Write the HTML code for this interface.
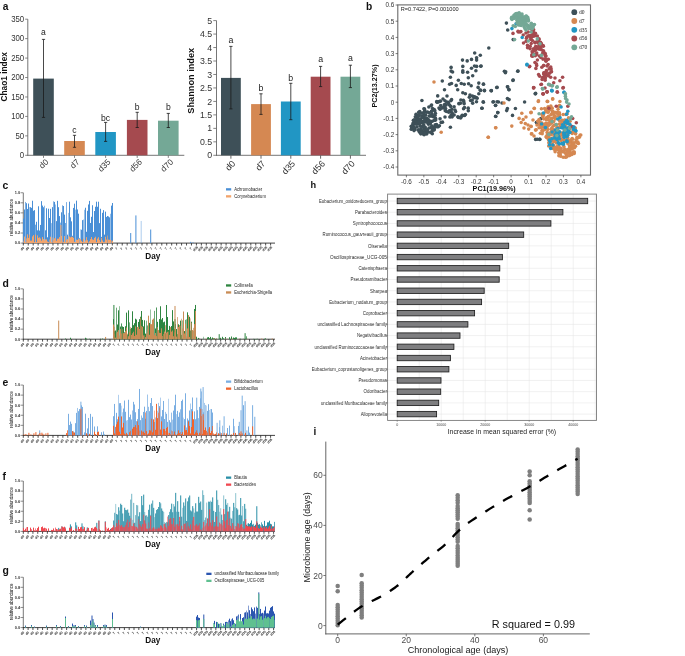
<!DOCTYPE html>
<html><head><meta charset="utf-8"><style>
html,body{margin:0;padding:0;background:#fff;}
body{width:685px;height:656px;overflow:hidden;}
svg{display:block;font-family:"Liberation Sans", sans-serif;will-change:transform;}
</style></head><body>
<svg width="685" height="656" viewBox="0 0 685 656">
<rect x="0" y="0" width="685" height="656" fill="#fff"/>
<text x="2.8" y="9.5" font-size="10.2" text-anchor="start" fill="#111" font-weight="bold">a</text>
<line x1="27.8" y1="19.2" x2="27.8" y2="155.8" stroke="#666" stroke-width="0.9"/>
<line x1="27.4" y1="155.3" x2="184.3" y2="155.3" stroke="#666" stroke-width="0.9"/>
<line x1="25.2" y1="155.3" x2="27.8" y2="155.3" stroke="#666" stroke-width="0.8"/>
<text x="24.2" y="158.05" font-size="8.7" text-anchor="end" fill="#333" transform="translate(24.2 0) scale(0.9 1) translate(-24.2 0)">0</text>
<line x1="25.2" y1="135.86" x2="27.8" y2="135.86" stroke="#666" stroke-width="0.8"/>
<text x="24.2" y="138.61" font-size="8.7" text-anchor="end" fill="#333" transform="translate(24.2 0) scale(0.9 1) translate(-24.2 0)">50</text>
<line x1="25.2" y1="116.41" x2="27.8" y2="116.41" stroke="#666" stroke-width="0.8"/>
<text x="24.2" y="119.16" font-size="8.7" text-anchor="end" fill="#333" transform="translate(24.2 0) scale(0.9 1) translate(-24.2 0)">100</text>
<line x1="25.2" y1="96.97" x2="27.8" y2="96.97" stroke="#666" stroke-width="0.8"/>
<text x="24.2" y="99.72" font-size="8.7" text-anchor="end" fill="#333" transform="translate(24.2 0) scale(0.9 1) translate(-24.2 0)">150</text>
<line x1="25.2" y1="77.53" x2="27.8" y2="77.53" stroke="#666" stroke-width="0.8"/>
<text x="24.2" y="80.28" font-size="8.7" text-anchor="end" fill="#333" transform="translate(24.2 0) scale(0.9 1) translate(-24.2 0)">200</text>
<line x1="25.2" y1="58.09" x2="27.8" y2="58.09" stroke="#666" stroke-width="0.8"/>
<text x="24.2" y="60.84" font-size="8.7" text-anchor="end" fill="#333" transform="translate(24.2 0) scale(0.9 1) translate(-24.2 0)">250</text>
<line x1="25.2" y1="38.64" x2="27.8" y2="38.64" stroke="#666" stroke-width="0.8"/>
<text x="24.2" y="41.39" font-size="8.7" text-anchor="end" fill="#333" transform="translate(24.2 0) scale(0.9 1) translate(-24.2 0)">300</text>
<line x1="25.2" y1="19.2" x2="27.8" y2="19.2" stroke="#666" stroke-width="0.8"/>
<text x="24.2" y="21.95" font-size="8.7" text-anchor="end" fill="#333" transform="translate(24.2 0) scale(0.9 1) translate(-24.2 0)">350</text>
<text x="7.2" y="76.8" font-size="8.3" text-anchor="middle" fill="#111" font-weight="bold" transform="rotate(-90 7.2 76.8)">Chao1 index</text>
<rect x="33.2" y="78.6" width="20.6" height="76.7" fill="#3e5058"/>
<line x1="43.5" y1="39.4" x2="43.5" y2="117.4" stroke="#1a1a1a" stroke-width="0.8"/>
<line x1="41.9" y1="39.4" x2="45.1" y2="39.4" stroke="#1a1a1a" stroke-width="0.8"/>
<line x1="41.9" y1="117.4" x2="45.1" y2="117.4" stroke="#1a1a1a" stroke-width="0.8"/>
<line x1="43.5" y1="155.3" x2="43.5" y2="157.9" stroke="#666" stroke-width="0.8"/>
<text x="43.5" y="35" font-size="8.6" text-anchor="middle" fill="#222">a</text>
<text x="49" y="162.6" font-size="8.3" text-anchor="end" fill="#333" transform="rotate(-44 49 162.6)">d0</text>
<rect x="64.2" y="141" width="20.6" height="14.3" fill="#d58852"/>
<line x1="74.5" y1="135.3" x2="74.5" y2="147.3" stroke="#1a1a1a" stroke-width="0.8"/>
<line x1="72.9" y1="135.3" x2="76.1" y2="135.3" stroke="#1a1a1a" stroke-width="0.8"/>
<line x1="72.9" y1="147.3" x2="76.1" y2="147.3" stroke="#1a1a1a" stroke-width="0.8"/>
<line x1="74.5" y1="155.3" x2="74.5" y2="157.9" stroke="#666" stroke-width="0.8"/>
<text x="74.5" y="132.6" font-size="8.6" text-anchor="middle" fill="#222">c</text>
<text x="80" y="162.6" font-size="8.3" text-anchor="end" fill="#333" transform="rotate(-44 80 162.6)">d7</text>
<rect x="95.3" y="132" width="20.6" height="23.3" fill="#2196c4"/>
<line x1="105.6" y1="122.4" x2="105.6" y2="141.4" stroke="#1a1a1a" stroke-width="0.8"/>
<line x1="104" y1="122.4" x2="107.2" y2="122.4" stroke="#1a1a1a" stroke-width="0.8"/>
<line x1="104" y1="141.4" x2="107.2" y2="141.4" stroke="#1a1a1a" stroke-width="0.8"/>
<line x1="105.6" y1="155.3" x2="105.6" y2="157.9" stroke="#666" stroke-width="0.8"/>
<text x="105.6" y="120.9" font-size="8.6" text-anchor="middle" fill="#222">bc</text>
<text x="111.1" y="162.6" font-size="8.3" text-anchor="end" fill="#333" transform="rotate(-44 111.1 162.6)">d35</text>
<rect x="126.9" y="119.9" width="20.6" height="35.4" fill="#a54a4f"/>
<line x1="137.2" y1="112.3" x2="137.2" y2="127.5" stroke="#1a1a1a" stroke-width="0.8"/>
<line x1="135.6" y1="112.3" x2="138.8" y2="112.3" stroke="#1a1a1a" stroke-width="0.8"/>
<line x1="135.6" y1="127.5" x2="138.8" y2="127.5" stroke="#1a1a1a" stroke-width="0.8"/>
<line x1="137.2" y1="155.3" x2="137.2" y2="157.9" stroke="#666" stroke-width="0.8"/>
<text x="137.2" y="110.2" font-size="8.6" text-anchor="middle" fill="#222">b</text>
<text x="142.7" y="162.6" font-size="8.3" text-anchor="end" fill="#333" transform="rotate(-44 142.7 162.6)">d56</text>
<rect x="158" y="120.7" width="20.6" height="34.6" fill="#74a896"/>
<line x1="168.3" y1="113.4" x2="168.3" y2="127.5" stroke="#1a1a1a" stroke-width="0.8"/>
<line x1="166.7" y1="113.4" x2="169.9" y2="113.4" stroke="#1a1a1a" stroke-width="0.8"/>
<line x1="166.7" y1="127.5" x2="169.9" y2="127.5" stroke="#1a1a1a" stroke-width="0.8"/>
<line x1="168.3" y1="155.3" x2="168.3" y2="157.9" stroke="#666" stroke-width="0.8"/>
<text x="168.3" y="110.2" font-size="8.6" text-anchor="middle" fill="#222">b</text>
<text x="173.8" y="162.6" font-size="8.3" text-anchor="end" fill="#333" transform="rotate(-44 173.8 162.6)">d70</text>
<line x1="216.5" y1="20.6" x2="216.5" y2="155.8" stroke="#666" stroke-width="0.9"/>
<line x1="216.1" y1="155.3" x2="366" y2="155.3" stroke="#666" stroke-width="0.9"/>
<line x1="213.3" y1="155.3" x2="216.5" y2="155.3" stroke="#666" stroke-width="0.8"/>
<text x="212.2" y="158.4" font-size="8.8" text-anchor="end" fill="#333">0</text>
<line x1="213.3" y1="141.83" x2="216.5" y2="141.83" stroke="#666" stroke-width="0.8"/>
<text x="212.2" y="144.93" font-size="8.8" text-anchor="end" fill="#333">0.5</text>
<line x1="213.3" y1="128.36" x2="216.5" y2="128.36" stroke="#666" stroke-width="0.8"/>
<text x="212.2" y="131.46" font-size="8.8" text-anchor="end" fill="#333">1</text>
<line x1="213.3" y1="114.89" x2="216.5" y2="114.89" stroke="#666" stroke-width="0.8"/>
<text x="212.2" y="117.99" font-size="8.8" text-anchor="end" fill="#333">1.5</text>
<line x1="213.3" y1="101.42" x2="216.5" y2="101.42" stroke="#666" stroke-width="0.8"/>
<text x="212.2" y="104.52" font-size="8.8" text-anchor="end" fill="#333">2</text>
<line x1="213.3" y1="87.95" x2="216.5" y2="87.95" stroke="#666" stroke-width="0.8"/>
<text x="212.2" y="91.05" font-size="8.8" text-anchor="end" fill="#333">2.5</text>
<line x1="213.3" y1="74.48" x2="216.5" y2="74.48" stroke="#666" stroke-width="0.8"/>
<text x="212.2" y="77.58" font-size="8.8" text-anchor="end" fill="#333">3</text>
<line x1="213.3" y1="61.01" x2="216.5" y2="61.01" stroke="#666" stroke-width="0.8"/>
<text x="212.2" y="64.11" font-size="8.8" text-anchor="end" fill="#333">3.5</text>
<line x1="213.3" y1="47.54" x2="216.5" y2="47.54" stroke="#666" stroke-width="0.8"/>
<text x="212.2" y="50.64" font-size="8.8" text-anchor="end" fill="#333">4</text>
<line x1="213.3" y1="34.07" x2="216.5" y2="34.07" stroke="#666" stroke-width="0.8"/>
<text x="212.2" y="37.17" font-size="8.8" text-anchor="end" fill="#333">4.5</text>
<line x1="213.3" y1="20.6" x2="216.5" y2="20.6" stroke="#666" stroke-width="0.8"/>
<text x="212.2" y="23.7" font-size="8.8" text-anchor="end" fill="#333">5</text>
<text x="194.3" y="80.7" font-size="9.2" text-anchor="middle" fill="#111" font-weight="bold" transform="rotate(-90 194.3 80.7)">Shannon index</text>
<rect x="221" y="77.9" width="19.8" height="77.4" fill="#3e5058"/>
<line x1="230.9" y1="46.4" x2="230.9" y2="108.9" stroke="#1a1a1a" stroke-width="0.8"/>
<line x1="229.3" y1="46.4" x2="232.5" y2="46.4" stroke="#1a1a1a" stroke-width="0.8"/>
<line x1="229.3" y1="108.9" x2="232.5" y2="108.9" stroke="#1a1a1a" stroke-width="0.8"/>
<line x1="230.9" y1="155.3" x2="230.9" y2="158.7" stroke="#555" stroke-width="0.9"/>
<text x="230.9" y="43.3" font-size="8.8" text-anchor="middle" fill="#222">a</text>
<text x="235.9" y="164" font-size="9" text-anchor="end" fill="#333" transform="rotate(-47 235.9 164)">d0</text>
<rect x="251.1" y="104.1" width="19.8" height="51.2" fill="#d58852"/>
<line x1="261" y1="93.8" x2="261" y2="114.4" stroke="#1a1a1a" stroke-width="0.8"/>
<line x1="259.4" y1="93.8" x2="262.6" y2="93.8" stroke="#1a1a1a" stroke-width="0.8"/>
<line x1="259.4" y1="114.4" x2="262.6" y2="114.4" stroke="#1a1a1a" stroke-width="0.8"/>
<line x1="261" y1="155.3" x2="261" y2="158.7" stroke="#555" stroke-width="0.9"/>
<text x="261" y="90.6" font-size="8.8" text-anchor="middle" fill="#222">b</text>
<text x="266" y="164" font-size="9" text-anchor="end" fill="#333" transform="rotate(-47 266 164)">d7</text>
<rect x="280.9" y="101.5" width="19.8" height="53.8" fill="#2196c4"/>
<line x1="290.8" y1="83.3" x2="290.8" y2="119.7" stroke="#1a1a1a" stroke-width="0.8"/>
<line x1="289.2" y1="83.3" x2="292.4" y2="83.3" stroke="#1a1a1a" stroke-width="0.8"/>
<line x1="289.2" y1="119.7" x2="292.4" y2="119.7" stroke="#1a1a1a" stroke-width="0.8"/>
<line x1="290.8" y1="155.3" x2="290.8" y2="158.7" stroke="#555" stroke-width="0.9"/>
<text x="290.8" y="80.7" font-size="8.8" text-anchor="middle" fill="#222">b</text>
<text x="295.8" y="164" font-size="9" text-anchor="end" fill="#333" transform="rotate(-47 295.8 164)">d35</text>
<rect x="310.7" y="76.7" width="19.8" height="78.6" fill="#a54a4f"/>
<line x1="320.6" y1="66.4" x2="320.6" y2="86.6" stroke="#1a1a1a" stroke-width="0.8"/>
<line x1="319" y1="66.4" x2="322.2" y2="66.4" stroke="#1a1a1a" stroke-width="0.8"/>
<line x1="319" y1="86.6" x2="322.2" y2="86.6" stroke="#1a1a1a" stroke-width="0.8"/>
<line x1="320.6" y1="155.3" x2="320.6" y2="158.7" stroke="#555" stroke-width="0.9"/>
<text x="320.6" y="62.3" font-size="8.8" text-anchor="middle" fill="#222">a</text>
<text x="325.6" y="164" font-size="9" text-anchor="end" fill="#333" transform="rotate(-47 325.6 164)">d56</text>
<rect x="340.5" y="76.7" width="19.8" height="78.6" fill="#74a896"/>
<line x1="350.4" y1="65.2" x2="350.4" y2="87.6" stroke="#1a1a1a" stroke-width="0.8"/>
<line x1="348.8" y1="65.2" x2="352" y2="65.2" stroke="#1a1a1a" stroke-width="0.8"/>
<line x1="348.8" y1="87.6" x2="352" y2="87.6" stroke="#1a1a1a" stroke-width="0.8"/>
<line x1="350.4" y1="155.3" x2="350.4" y2="158.7" stroke="#555" stroke-width="0.9"/>
<text x="350.4" y="61.2" font-size="8.8" text-anchor="middle" fill="#222">a</text>
<text x="355.4" y="164" font-size="9" text-anchor="end" fill="#333" transform="rotate(-47 355.4 164)">d70</text>
<text x="366" y="9.5" font-size="10.2" text-anchor="start" fill="#111" font-weight="bold">b</text>
<rect x="397.8" y="4.9" width="192.7" height="170.2" fill="none" stroke="#6a6a6a" stroke-width="1.1"/>
<line x1="395.6" y1="167" x2="397.8" y2="167" stroke="#444" stroke-width="0.7"/>
<text x="394.2" y="169.3" font-size="6.3" text-anchor="end" fill="#333">-0.4</text>
<line x1="395.6" y1="150.8" x2="397.8" y2="150.8" stroke="#444" stroke-width="0.7"/>
<text x="394.2" y="153.1" font-size="6.3" text-anchor="end" fill="#333">-0.3</text>
<line x1="395.6" y1="134.6" x2="397.8" y2="134.6" stroke="#444" stroke-width="0.7"/>
<text x="394.2" y="136.9" font-size="6.3" text-anchor="end" fill="#333">-0.2</text>
<line x1="395.6" y1="118.4" x2="397.8" y2="118.4" stroke="#444" stroke-width="0.7"/>
<text x="394.2" y="120.7" font-size="6.3" text-anchor="end" fill="#333">-0.1</text>
<line x1="395.6" y1="102.2" x2="397.8" y2="102.2" stroke="#444" stroke-width="0.7"/>
<text x="394.2" y="104.5" font-size="6.3" text-anchor="end" fill="#333">0</text>
<line x1="395.6" y1="86" x2="397.8" y2="86" stroke="#444" stroke-width="0.7"/>
<text x="394.2" y="88.3" font-size="6.3" text-anchor="end" fill="#333">0.1</text>
<line x1="395.6" y1="69.8" x2="397.8" y2="69.8" stroke="#444" stroke-width="0.7"/>
<text x="394.2" y="72.1" font-size="6.3" text-anchor="end" fill="#333">0.2</text>
<line x1="395.6" y1="53.6" x2="397.8" y2="53.6" stroke="#444" stroke-width="0.7"/>
<text x="394.2" y="55.9" font-size="6.3" text-anchor="end" fill="#333">0.3</text>
<line x1="395.6" y1="37.4" x2="397.8" y2="37.4" stroke="#444" stroke-width="0.7"/>
<text x="394.2" y="39.7" font-size="6.3" text-anchor="end" fill="#333">0.4</text>
<line x1="395.6" y1="21.2" x2="397.8" y2="21.2" stroke="#444" stroke-width="0.7"/>
<text x="394.2" y="23.5" font-size="6.3" text-anchor="end" fill="#333">0.5</text>
<line x1="395.6" y1="5" x2="397.8" y2="5" stroke="#444" stroke-width="0.7"/>
<text x="394.2" y="7.3" font-size="6.3" text-anchor="end" fill="#333">0.6</text>
<line x1="406.4" y1="175.1" x2="406.4" y2="177.3" stroke="#444" stroke-width="0.7"/>
<text x="406.4" y="184.1" font-size="6.3" text-anchor="middle" fill="#333">-0.6</text>
<line x1="423.85" y1="175.1" x2="423.85" y2="177.3" stroke="#444" stroke-width="0.7"/>
<text x="423.85" y="184.1" font-size="6.3" text-anchor="middle" fill="#333">-0.5</text>
<line x1="441.3" y1="175.1" x2="441.3" y2="177.3" stroke="#444" stroke-width="0.7"/>
<text x="441.3" y="184.1" font-size="6.3" text-anchor="middle" fill="#333">-0.4</text>
<line x1="458.75" y1="175.1" x2="458.75" y2="177.3" stroke="#444" stroke-width="0.7"/>
<text x="458.75" y="184.1" font-size="6.3" text-anchor="middle" fill="#333">-0.3</text>
<line x1="476.2" y1="175.1" x2="476.2" y2="177.3" stroke="#444" stroke-width="0.7"/>
<text x="476.2" y="184.1" font-size="6.3" text-anchor="middle" fill="#333">-0.2</text>
<line x1="493.65" y1="175.1" x2="493.65" y2="177.3" stroke="#444" stroke-width="0.7"/>
<text x="493.65" y="184.1" font-size="6.3" text-anchor="middle" fill="#333">-0.1</text>
<line x1="511.1" y1="175.1" x2="511.1" y2="177.3" stroke="#444" stroke-width="0.7"/>
<text x="511.1" y="184.1" font-size="6.3" text-anchor="middle" fill="#333">0</text>
<line x1="528.55" y1="175.1" x2="528.55" y2="177.3" stroke="#444" stroke-width="0.7"/>
<text x="528.55" y="184.1" font-size="6.3" text-anchor="middle" fill="#333">0.1</text>
<line x1="546" y1="175.1" x2="546" y2="177.3" stroke="#444" stroke-width="0.7"/>
<text x="546" y="184.1" font-size="6.3" text-anchor="middle" fill="#333">0.2</text>
<line x1="563.45" y1="175.1" x2="563.45" y2="177.3" stroke="#444" stroke-width="0.7"/>
<text x="563.45" y="184.1" font-size="6.3" text-anchor="middle" fill="#333">0.3</text>
<line x1="580.9" y1="175.1" x2="580.9" y2="177.3" stroke="#444" stroke-width="0.7"/>
<text x="580.9" y="184.1" font-size="6.3" text-anchor="middle" fill="#333">0.4</text>
<text x="494.2" y="191.2" font-size="7.2" text-anchor="middle" fill="#111" font-weight="bold">PC1(19.96%)</text>
<text x="377.4" y="86" font-size="7.2" text-anchor="middle" fill="#111" font-weight="bold" transform="rotate(-90 377.4 86)">PC2(13.27%)</text>
<text x="400.8" y="11.2" font-size="5.6" text-anchor="start" fill="#222">R=0.7422, P=0.001000</text>
<g fill="#3e5058"><circle cx="418.72" cy="112.29" r="1.78"/><circle cx="424.29" cy="118.11" r="1.78"/><circle cx="421.36" cy="130.61" r="1.78"/><circle cx="426.7" cy="133.88" r="1.78"/><circle cx="425.38" cy="118.95" r="1.78"/><circle cx="432.78" cy="116.05" r="1.78"/><circle cx="418.31" cy="130.32" r="1.78"/><circle cx="414.95" cy="123.96" r="1.78"/><circle cx="427" cy="118.29" r="1.78"/><circle cx="424.61" cy="109.9" r="1.78"/><circle cx="428.09" cy="119.79" r="1.78"/><circle cx="418.46" cy="124.07" r="1.78"/><circle cx="422.12" cy="116.32" r="1.78"/><circle cx="431.09" cy="127.14" r="1.78"/><circle cx="416.62" cy="123.77" r="1.78"/><circle cx="424.01" cy="131.92" r="1.78"/><circle cx="429.38" cy="116" r="1.78"/><circle cx="421.2" cy="128.72" r="1.78"/><circle cx="414.2" cy="121.45" r="1.78"/><circle cx="411.23" cy="126.31" r="1.78"/><circle cx="430.31" cy="123.73" r="1.78"/><circle cx="433.23" cy="116.7" r="1.78"/><circle cx="428.49" cy="124.31" r="1.78"/><circle cx="425.45" cy="120.56" r="1.78"/><circle cx="432.29" cy="133.8" r="1.78"/><circle cx="422.67" cy="126.2" r="1.78"/><circle cx="411.8" cy="127.21" r="1.78"/><circle cx="431.82" cy="115.91" r="1.78"/><circle cx="420.35" cy="126.32" r="1.78"/><circle cx="411.75" cy="129.02" r="1.78"/><circle cx="420.48" cy="131.82" r="1.78"/><circle cx="424.65" cy="132.14" r="1.78"/><circle cx="431.75" cy="131.61" r="1.78"/><circle cx="417.52" cy="119.45" r="1.78"/><circle cx="419.64" cy="132.16" r="1.78"/><circle cx="416.34" cy="121.34" r="1.78"/><circle cx="425.69" cy="115.32" r="1.78"/><circle cx="419.91" cy="123.55" r="1.78"/><circle cx="435.27" cy="126.91" r="1.78"/><circle cx="423.76" cy="124.94" r="1.78"/><circle cx="433.86" cy="129.34" r="1.78"/><circle cx="433.2" cy="129.82" r="1.78"/><circle cx="420.52" cy="119.01" r="1.78"/><circle cx="412.92" cy="125.39" r="1.78"/><circle cx="426.35" cy="112.23" r="1.78"/><circle cx="416.83" cy="117.61" r="1.78"/><circle cx="419.78" cy="111.53" r="1.78"/><circle cx="422.46" cy="121.31" r="1.78"/><circle cx="419.21" cy="115.37" r="1.78"/><circle cx="424.09" cy="112.17" r="1.78"/><circle cx="424.49" cy="108.93" r="1.78"/><circle cx="424.09" cy="134.72" r="1.78"/><circle cx="432.91" cy="127.07" r="1.78"/><circle cx="417.07" cy="118.14" r="1.78"/><circle cx="414.59" cy="129.12" r="1.78"/><circle cx="424.21" cy="129.31" r="1.78"/><circle cx="418.87" cy="114.24" r="1.78"/><circle cx="432.62" cy="130.04" r="1.78"/><circle cx="431.72" cy="128.25" r="1.78"/><circle cx="416.16" cy="122.23" r="1.78"/><circle cx="417.02" cy="126.97" r="1.78"/><circle cx="435.36" cy="120.32" r="1.78"/><circle cx="435.32" cy="118.08" r="1.78"/><circle cx="416" cy="114.35" r="1.78"/><circle cx="426.61" cy="132.6" r="1.78"/><circle cx="432.3" cy="121.19" r="1.78"/><circle cx="427.37" cy="129.87" r="1.78"/><circle cx="412.43" cy="126.1" r="1.78"/><circle cx="434.13" cy="129.4" r="1.78"/><circle cx="429.93" cy="121.15" r="1.78"/><circle cx="414.9" cy="129.59" r="1.78"/><circle cx="418.95" cy="129.9" r="1.78"/><circle cx="435.75" cy="118.93" r="1.78"/><circle cx="420.76" cy="133.86" r="1.78"/><circle cx="429.26" cy="112.81" r="1.78"/><circle cx="434" cy="130.06" r="1.78"/><circle cx="414.04" cy="130.6" r="1.78"/><circle cx="419.42" cy="123.07" r="1.78"/><circle cx="424.05" cy="133.5" r="1.78"/><circle cx="421.61" cy="131.82" r="1.78"/><circle cx="431.93" cy="113.92" r="1.78"/><circle cx="416.82" cy="116.14" r="1.78"/><circle cx="416.53" cy="124.09" r="1.78"/><circle cx="417.02" cy="119.56" r="1.78"/><circle cx="419.5" cy="120.62" r="1.78"/><circle cx="425.54" cy="132.71" r="1.78"/><circle cx="421.26" cy="133.07" r="1.78"/><circle cx="423.39" cy="122.61" r="1.78"/><circle cx="423.97" cy="108.71" r="1.78"/><circle cx="421.78" cy="113.16" r="1.78"/><circle cx="414.73" cy="121.03" r="1.78"/><circle cx="429.27" cy="123.28" r="1.78"/><circle cx="418.77" cy="122.25" r="1.78"/><circle cx="424.81" cy="129.45" r="1.78"/><circle cx="412.99" cy="123.38" r="1.78"/><circle cx="416.74" cy="115.7" r="1.78"/><circle cx="430.51" cy="121.96" r="1.78"/><circle cx="424.97" cy="128.8" r="1.78"/><circle cx="434.2" cy="120.21" r="1.78"/><circle cx="426.31" cy="121.9" r="1.78"/><circle cx="423.67" cy="126.97" r="1.78"/><circle cx="422.1" cy="122.65" r="1.78"/><circle cx="422.77" cy="133.71" r="1.78"/><circle cx="428.59" cy="131.95" r="1.78"/><circle cx="434.98" cy="115.23" r="1.78"/><circle cx="424.92" cy="133.76" r="1.78"/><circle cx="413.4" cy="120.18" r="1.78"/><circle cx="412.12" cy="126.34" r="1.78"/><circle cx="430.82" cy="132.51" r="1.78"/><circle cx="414.26" cy="127.61" r="1.78"/><circle cx="427.56" cy="112.07" r="1.78"/><circle cx="420.67" cy="121.4" r="1.78"/><circle cx="414.45" cy="119.89" r="1.78"/><circle cx="423.76" cy="117.39" r="1.78"/><circle cx="415.35" cy="116.83" r="1.78"/><circle cx="424.77" cy="120.14" r="1.78"/><circle cx="426.61" cy="122.08" r="1.78"/><circle cx="411.24" cy="129.31" r="1.78"/><circle cx="421.31" cy="132.9" r="1.78"/><circle cx="431.74" cy="115.21" r="1.78"/><circle cx="425.21" cy="127.18" r="1.78"/><circle cx="428.3" cy="119.73" r="1.78"/><circle cx="426.89" cy="129.92" r="1.78"/><circle cx="422.13" cy="117.39" r="1.78"/><circle cx="424.75" cy="133.31" r="1.78"/><circle cx="424.06" cy="114.66" r="1.78"/><circle cx="418.41" cy="116.47" r="1.78"/><circle cx="430.17" cy="116.06" r="1.78"/><circle cx="423.35" cy="113.02" r="1.78"/><circle cx="429.48" cy="123.13" r="1.78"/><circle cx="434.23" cy="109.62" r="1.78"/><circle cx="474.47" cy="96.72" r="1.78"/><circle cx="468.22" cy="108.13" r="1.78"/><circle cx="445.23" cy="110.73" r="1.78"/><circle cx="442.51" cy="122.13" r="1.78"/><circle cx="462.16" cy="115.26" r="1.78"/><circle cx="445.85" cy="105.16" r="1.78"/><circle cx="439.22" cy="101.48" r="1.78"/><circle cx="439.83" cy="109.08" r="1.78"/><circle cx="432.51" cy="108.6" r="1.78"/><circle cx="438.22" cy="126.66" r="1.78"/><circle cx="437.2" cy="126.8" r="1.78"/><circle cx="440.72" cy="105.48" r="1.78"/><circle cx="449.63" cy="110.6" r="1.78"/><circle cx="434.85" cy="110.67" r="1.78"/><circle cx="428.85" cy="106.98" r="1.78"/><circle cx="440.43" cy="101.15" r="1.78"/><circle cx="455.62" cy="111.52" r="1.78"/><circle cx="445.03" cy="104.41" r="1.78"/><circle cx="477.18" cy="98.23" r="1.78"/><circle cx="463.1" cy="115.51" r="1.78"/><circle cx="431.52" cy="111.33" r="1.78"/><circle cx="460.88" cy="117.27" r="1.78"/><circle cx="431.19" cy="105.62" r="1.78"/><circle cx="454.16" cy="114.97" r="1.78"/><circle cx="457.82" cy="116.82" r="1.78"/><circle cx="451.16" cy="111.73" r="1.78"/><circle cx="463.79" cy="101.83" r="1.78"/><circle cx="463.38" cy="100.18" r="1.78"/><circle cx="450.67" cy="106.39" r="1.78"/><circle cx="449.87" cy="116.93" r="1.78"/><circle cx="465.42" cy="114.59" r="1.78"/><circle cx="464.13" cy="103.65" r="1.78"/><circle cx="460.29" cy="117.23" r="1.78"/><circle cx="460.49" cy="103.18" r="1.78"/><circle cx="451.89" cy="109.26" r="1.78"/><circle cx="472.26" cy="99.97" r="1.78"/><circle cx="448.27" cy="102.4" r="1.78"/><circle cx="435.38" cy="113.35" r="1.78"/><circle cx="431.65" cy="111.34" r="1.78"/><circle cx="475.45" cy="97.64" r="1.78"/><circle cx="468.29" cy="110.81" r="1.78"/><circle cx="436.49" cy="124.42" r="1.78"/><circle cx="448.34" cy="103.57" r="1.78"/><circle cx="431.6" cy="105.04" r="1.78"/><circle cx="441.07" cy="122.41" r="1.78"/><circle cx="469.31" cy="97.2" r="1.78"/><circle cx="472.68" cy="103.14" r="1.78"/><circle cx="444.1" cy="106.75" r="1.78"/><circle cx="443.48" cy="107.98" r="1.78"/><circle cx="439.42" cy="125.75" r="1.78"/><circle cx="437.46" cy="102.3" r="1.78"/><circle cx="451.59" cy="99.64" r="1.78"/><circle cx="463.55" cy="108.78" r="1.78"/><circle cx="464.64" cy="115.56" r="1.78"/><circle cx="474.05" cy="97.46" r="1.78"/><circle cx="449.5" cy="105.03" r="1.78"/><circle cx="440.08" cy="118.87" r="1.78"/><circle cx="459.42" cy="103.53" r="1.78"/><circle cx="454.1" cy="106.8" r="1.78"/><circle cx="435.23" cy="124.71" r="1.78"/><circle cx="450.84" cy="100.7" r="1.78"/><circle cx="436.91" cy="102.04" r="1.78"/><circle cx="464.48" cy="107.45" r="1.78"/><circle cx="446.35" cy="111.35" r="1.78"/><circle cx="444.35" cy="104.84" r="1.78"/><circle cx="476.26" cy="97.41" r="1.78"/><circle cx="451.18" cy="115.04" r="1.78"/><circle cx="470.59" cy="100.56" r="1.78"/><circle cx="438.64" cy="101.7" r="1.78"/><circle cx="445.59" cy="108.61" r="1.78"/><circle cx="476.5" cy="101.7" r="1.78"/><circle cx="452.21" cy="116.87" r="1.78"/><circle cx="448.7" cy="112.3" r="1.78"/><circle cx="436.56" cy="125.2" r="1.78"/><circle cx="458.86" cy="103.63" r="1.78"/><circle cx="458.36" cy="117.45" r="1.78"/><circle cx="452.32" cy="113.4" r="1.78"/><circle cx="444.96" cy="100.83" r="1.78"/><circle cx="440.28" cy="109.12" r="1.78"/><circle cx="436.68" cy="101.65" r="1.78"/><circle cx="450.91" cy="116.61" r="1.78"/><circle cx="446.68" cy="102" r="1.78"/><circle cx="442.25" cy="107.72" r="1.78"/><circle cx="460.86" cy="99.93" r="1.78"/><circle cx="488.8" cy="48" r="1.78"/><circle cx="474.7" cy="53" r="1.78"/><circle cx="480.3" cy="55.3" r="1.78"/><circle cx="476.6" cy="57.7" r="1.78"/><circle cx="462.5" cy="60.1" r="1.78"/><circle cx="467.2" cy="60.9" r="1.78"/><circle cx="471.5" cy="59.4" r="1.78"/><circle cx="476.6" cy="60.1" r="1.78"/><circle cx="462.8" cy="66.4" r="1.78"/><circle cx="451.1" cy="67.4" r="1.78"/><circle cx="474.5" cy="66" r="1.78"/><circle cx="476.6" cy="66.4" r="1.78"/><circle cx="480.7" cy="66.3" r="1.78"/><circle cx="471.5" cy="68.2" r="1.78"/><circle cx="475.9" cy="70.8" r="1.78"/><circle cx="462.8" cy="70.8" r="1.78"/><circle cx="462.8" cy="72.3" r="1.78"/><circle cx="451.1" cy="71.1" r="1.78"/><circle cx="452.6" cy="72" r="1.78"/><circle cx="467.6" cy="72.3" r="1.78"/><circle cx="472.7" cy="75.8" r="1.78"/><circle cx="450.4" cy="77.2" r="1.78"/><circle cx="468.3" cy="77.7" r="1.78"/><circle cx="442.3" cy="81" r="1.78"/><circle cx="458.4" cy="80.3" r="1.78"/><circle cx="449.6" cy="84.2" r="1.78"/><circle cx="451.5" cy="83.5" r="1.78"/><circle cx="456.2" cy="85.4" r="1.78"/><circle cx="461.3" cy="83.5" r="1.78"/><circle cx="464.2" cy="84.2" r="1.78"/><circle cx="468.6" cy="83.8" r="1.78"/><circle cx="471.2" cy="85.7" r="1.78"/><circle cx="478.8" cy="83.1" r="1.78"/><circle cx="483.5" cy="84.2" r="1.78"/><circle cx="497.1" cy="87.4" r="1.78"/><circle cx="491.2" cy="90.5" r="1.78"/><circle cx="478.1" cy="87.4" r="1.78"/><circle cx="480" cy="90.1" r="1.78"/><circle cx="484.4" cy="90.4" r="1.78"/><circle cx="444.5" cy="89.8" r="1.78"/><circle cx="457.7" cy="89.8" r="1.78"/><circle cx="462.8" cy="92.7" r="1.78"/><circle cx="465.4" cy="93.7" r="1.78"/><circle cx="478.8" cy="93.7" r="1.78"/><circle cx="470" cy="95" r="1.78"/><circle cx="472.5" cy="96" r="1.78"/><circle cx="474.5" cy="97.4" r="1.78"/><circle cx="437.7" cy="95.9" r="1.78"/><circle cx="421.9" cy="100.5" r="1.78"/><circle cx="450.4" cy="127.2" r="1.78"/><circle cx="460.6" cy="118" r="1.78"/><circle cx="481.8" cy="108.2" r="1.78"/><circle cx="483.2" cy="101.7" r="1.78"/><circle cx="495.6" cy="116.3" r="1.78"/><circle cx="497.8" cy="112.6" r="1.78"/><circle cx="493.4" cy="101.7" r="1.78"/><circle cx="497.1" cy="101.7" r="1.78"/><circle cx="495.6" cy="105.3" r="1.78"/><circle cx="491.2" cy="90.7" r="1.78"/><circle cx="481.1" cy="66" r="1.78"/><circle cx="504.4" cy="71.2" r="1.78"/><circle cx="505.4" cy="72.8" r="1.78"/><circle cx="517.7" cy="71.2" r="1.78"/><circle cx="512.9" cy="80.4" r="1.78"/><circle cx="483.4" cy="84.1" r="1.78"/><circle cx="496.7" cy="87.5" r="1.78"/><circle cx="507.4" cy="86.8" r="1.78"/><circle cx="508.8" cy="89.6" r="1.78"/><circle cx="480.7" cy="90.4" r="1.78"/><circle cx="484.5" cy="90.7" r="1.78"/><circle cx="491.4" cy="90.7" r="1.78"/><circle cx="535.6" cy="93.4" r="1.78"/><circle cx="507.4" cy="98.6" r="1.78"/><circle cx="509.1" cy="99.6" r="1.78"/><circle cx="483.4" cy="102.3" r="1.78"/><circle cx="493" cy="102" r="1.78"/><circle cx="498.5" cy="102" r="1.78"/><circle cx="502" cy="103" r="1.78"/><circle cx="495.5" cy="105.5" r="1.78"/><circle cx="524.6" cy="102" r="1.78"/><circle cx="482.1" cy="108.2" r="1.78"/><circle cx="507.4" cy="108.5" r="1.78"/><circle cx="506.7" cy="110.6" r="1.78"/><circle cx="515.4" cy="108.5" r="1.78"/><circle cx="497.8" cy="112.6" r="1.78"/><circle cx="495.8" cy="116.5" r="1.78"/><circle cx="512.5" cy="115.4" r="1.78"/><circle cx="541" cy="118.8" r="1.78"/><circle cx="536.5" cy="122.5" r="1.78"/><circle cx="535.6" cy="139.4" r="1.78"/><circle cx="539.7" cy="139.4" r="1.78"/><circle cx="535.5" cy="93.8" r="1.78"/><circle cx="541" cy="118.5" r="1.78"/><circle cx="536.7" cy="122.2" r="1.78"/><circle cx="537.3" cy="139.3" r="1.78"/><circle cx="539.8" cy="139.3" r="1.78"/><circle cx="506.4" cy="23.1" r="1.78"/><circle cx="507.7" cy="30" r="1.78"/><circle cx="513.2" cy="39.6" r="1.78"/><circle cx="518" cy="71.1" r="1.78"/><circle cx="513.2" cy="80" r="1.78"/><circle cx="505.7" cy="71.8" r="1.78"/><circle cx="507.7" cy="86.9" r="1.78"/><circle cx="509.1" cy="89.7" r="1.78"/><circle cx="535.2" cy="93.8" r="1.78"/><circle cx="443" cy="99" r="1.78"/><circle cx="447" cy="96" r="1.78"/><circle cx="439" cy="108" r="1.78"/><circle cx="445" cy="117" r="1.78"/><circle cx="455" cy="110" r="1.78"/><circle cx="429" cy="128" r="1.78"/><circle cx="432" cy="126" r="1.78"/></g>
<g fill="#d58852"><circle cx="572.29" cy="143.88" r="1.78"/><circle cx="559.46" cy="114.57" r="1.78"/><circle cx="559.06" cy="113.58" r="1.78"/><circle cx="547.1" cy="126.19" r="1.78"/><circle cx="566.51" cy="155.39" r="1.78"/><circle cx="543.73" cy="124.9" r="1.78"/><circle cx="539.94" cy="124.89" r="1.78"/><circle cx="566.47" cy="124.09" r="1.78"/><circle cx="553.71" cy="121.51" r="1.78"/><circle cx="549.58" cy="122.6" r="1.78"/><circle cx="552.96" cy="148.4" r="1.78"/><circle cx="573.39" cy="127.04" r="1.78"/><circle cx="545.77" cy="123.3" r="1.78"/><circle cx="555.33" cy="147.87" r="1.78"/><circle cx="570.11" cy="152.63" r="1.78"/><circle cx="552.19" cy="118.25" r="1.78"/><circle cx="579.34" cy="137.17" r="1.78"/><circle cx="548.81" cy="142.64" r="1.78"/><circle cx="551.19" cy="118.43" r="1.78"/><circle cx="577.53" cy="138.11" r="1.78"/><circle cx="547.57" cy="129.39" r="1.78"/><circle cx="554.27" cy="117.08" r="1.78"/><circle cx="556.17" cy="130.39" r="1.78"/><circle cx="572.53" cy="143.84" r="1.78"/><circle cx="573.42" cy="145.73" r="1.78"/><circle cx="563.96" cy="121.3" r="1.78"/><circle cx="551.33" cy="123.17" r="1.78"/><circle cx="548.16" cy="106.85" r="1.78"/><circle cx="548.93" cy="107.92" r="1.78"/><circle cx="568.46" cy="127.84" r="1.78"/><circle cx="547.58" cy="126.18" r="1.78"/><circle cx="564.53" cy="140.31" r="1.78"/><circle cx="570.14" cy="149.8" r="1.78"/><circle cx="562.19" cy="123.78" r="1.78"/><circle cx="548.16" cy="116.77" r="1.78"/><circle cx="562.69" cy="121.22" r="1.78"/><circle cx="559.57" cy="116" r="1.78"/><circle cx="572.79" cy="139.17" r="1.78"/><circle cx="558.14" cy="148.27" r="1.78"/><circle cx="574.2" cy="153.5" r="1.78"/><circle cx="539.07" cy="119.42" r="1.78"/><circle cx="542.53" cy="113.71" r="1.78"/><circle cx="580.01" cy="135.32" r="1.78"/><circle cx="575.32" cy="127.96" r="1.78"/><circle cx="548.71" cy="146" r="1.78"/><circle cx="563.47" cy="137.34" r="1.78"/><circle cx="546.85" cy="123.54" r="1.78"/><circle cx="543.51" cy="114.5" r="1.78"/><circle cx="548.49" cy="136.21" r="1.78"/><circle cx="565.91" cy="114.47" r="1.78"/><circle cx="537.8" cy="121.27" r="1.78"/><circle cx="567.08" cy="113.46" r="1.78"/><circle cx="551.01" cy="114.47" r="1.78"/><circle cx="572.21" cy="133.39" r="1.78"/><circle cx="554.65" cy="133.5" r="1.78"/><circle cx="555.29" cy="118.85" r="1.78"/><circle cx="551.01" cy="134.4" r="1.78"/><circle cx="552.98" cy="126.16" r="1.78"/><circle cx="553.27" cy="114.13" r="1.78"/><circle cx="555.9" cy="148.34" r="1.78"/><circle cx="555.13" cy="151.77" r="1.78"/><circle cx="557.53" cy="112.22" r="1.78"/><circle cx="565.43" cy="153.25" r="1.78"/><circle cx="553.58" cy="131" r="1.78"/><circle cx="543.7" cy="118.85" r="1.78"/><circle cx="560.18" cy="154.11" r="1.78"/><circle cx="542.08" cy="130.23" r="1.78"/><circle cx="545.96" cy="110.25" r="1.78"/><circle cx="558.49" cy="106.23" r="1.78"/><circle cx="577" cy="137.36" r="1.78"/><circle cx="555.06" cy="149.76" r="1.78"/><circle cx="546.88" cy="125.25" r="1.78"/><circle cx="560.04" cy="124.36" r="1.78"/><circle cx="542.7" cy="116.86" r="1.78"/><circle cx="569.12" cy="152.56" r="1.78"/><circle cx="563.62" cy="133.5" r="1.78"/><circle cx="564.83" cy="120.11" r="1.78"/><circle cx="555.74" cy="135.29" r="1.78"/><circle cx="555.99" cy="139.47" r="1.78"/><circle cx="556.91" cy="127.37" r="1.78"/><circle cx="558.79" cy="116.22" r="1.78"/><circle cx="570.82" cy="146.12" r="1.78"/><circle cx="557.42" cy="113.16" r="1.78"/><circle cx="558.07" cy="109.18" r="1.78"/><circle cx="542.94" cy="126.94" r="1.78"/><circle cx="541.33" cy="127.56" r="1.78"/><circle cx="559.7" cy="105.54" r="1.78"/><circle cx="569.5" cy="145.99" r="1.78"/><circle cx="559.75" cy="106.28" r="1.78"/><circle cx="559.42" cy="124.04" r="1.78"/><circle cx="569.44" cy="148.04" r="1.78"/><circle cx="558.89" cy="155.82" r="1.78"/><circle cx="571.91" cy="154.39" r="1.78"/><circle cx="540.18" cy="122.56" r="1.78"/><circle cx="559.35" cy="153.8" r="1.78"/><circle cx="546.45" cy="117.73" r="1.78"/><circle cx="559.51" cy="120.82" r="1.78"/><circle cx="567.14" cy="152.46" r="1.78"/><circle cx="565.23" cy="123.05" r="1.78"/><circle cx="575.62" cy="133.78" r="1.78"/><circle cx="562.76" cy="151.75" r="1.78"/><circle cx="564.95" cy="124.94" r="1.78"/><circle cx="580.78" cy="135" r="1.78"/><circle cx="553.12" cy="145.28" r="1.78"/><circle cx="556.72" cy="113" r="1.78"/><circle cx="565.36" cy="157.32" r="1.78"/><circle cx="563.02" cy="139.74" r="1.78"/><circle cx="564.34" cy="127.03" r="1.78"/><circle cx="559.81" cy="152.47" r="1.78"/><circle cx="543.1" cy="115.78" r="1.78"/><circle cx="541.97" cy="122.91" r="1.78"/><circle cx="547.14" cy="135.34" r="1.78"/><circle cx="563.16" cy="114.51" r="1.78"/><circle cx="564.69" cy="129.37" r="1.78"/><circle cx="547.99" cy="111.5" r="1.78"/><circle cx="575.55" cy="146.24" r="1.78"/><circle cx="554.95" cy="117.81" r="1.78"/><circle cx="561.99" cy="122.53" r="1.78"/><circle cx="565.64" cy="127.66" r="1.78"/><circle cx="578.44" cy="143.57" r="1.78"/><circle cx="555.12" cy="116.35" r="1.78"/><circle cx="546.06" cy="136.68" r="1.78"/><circle cx="559.56" cy="138.52" r="1.78"/><circle cx="550.88" cy="119.78" r="1.78"/><circle cx="571.67" cy="142.58" r="1.78"/><circle cx="570.01" cy="128.84" r="1.78"/><circle cx="569.86" cy="128.14" r="1.78"/><circle cx="547.22" cy="109.08" r="1.78"/><circle cx="552.03" cy="144.46" r="1.78"/><circle cx="567.82" cy="149.71" r="1.78"/><circle cx="568.54" cy="117.9" r="1.78"/><circle cx="561.61" cy="127.24" r="1.78"/><circle cx="571.91" cy="132.03" r="1.78"/><circle cx="548.95" cy="138.55" r="1.78"/><circle cx="548.73" cy="116.26" r="1.78"/><circle cx="569.96" cy="155.16" r="1.78"/><circle cx="570.06" cy="121.25" r="1.78"/><circle cx="564.99" cy="141.34" r="1.78"/><circle cx="566.5" cy="157.05" r="1.78"/><circle cx="557.91" cy="149.4" r="1.78"/><circle cx="567.93" cy="150.38" r="1.78"/><circle cx="556.49" cy="143.08" r="1.78"/><circle cx="562.34" cy="120.2" r="1.78"/><circle cx="546.61" cy="137.48" r="1.78"/><circle cx="552.44" cy="111.09" r="1.78"/><circle cx="567.71" cy="138.1" r="1.78"/><circle cx="567.9" cy="143.75" r="1.78"/><circle cx="553.25" cy="148.18" r="1.78"/><circle cx="573.28" cy="152.23" r="1.78"/><circle cx="542" cy="114.59" r="1.78"/><circle cx="574.28" cy="151.98" r="1.78"/><circle cx="567.66" cy="152.4" r="1.78"/><circle cx="567.58" cy="135.2" r="1.78"/><circle cx="551.1" cy="129.13" r="1.78"/><circle cx="571.48" cy="132.56" r="1.78"/><circle cx="557.89" cy="139.56" r="1.78"/><circle cx="556.76" cy="148.9" r="1.78"/><circle cx="559.41" cy="136.27" r="1.78"/><circle cx="577.88" cy="142.12" r="1.78"/><circle cx="574.39" cy="145.78" r="1.78"/><circle cx="548.96" cy="139.21" r="1.78"/><circle cx="561.53" cy="150.74" r="1.78"/><circle cx="558.75" cy="148.55" r="1.78"/><circle cx="564.67" cy="132.93" r="1.78"/><circle cx="573.41" cy="131.45" r="1.78"/><circle cx="563.24" cy="151.5" r="1.78"/><circle cx="553.72" cy="141.83" r="1.78"/><circle cx="558.76" cy="152.62" r="1.78"/><circle cx="556.8" cy="132.87" r="1.78"/><circle cx="569.68" cy="141.95" r="1.78"/><circle cx="551.41" cy="146.37" r="1.78"/><circle cx="569.61" cy="151.18" r="1.78"/><circle cx="567.47" cy="137.38" r="1.78"/><circle cx="560.44" cy="138.63" r="1.78"/><circle cx="554.39" cy="134.42" r="1.78"/><circle cx="575.94" cy="142.04" r="1.78"/><circle cx="559.76" cy="154.29" r="1.78"/><circle cx="555.24" cy="140.75" r="1.78"/><circle cx="564.48" cy="150.14" r="1.78"/><circle cx="571.34" cy="146.68" r="1.78"/><circle cx="558.8" cy="136.45" r="1.78"/><circle cx="568.53" cy="149.74" r="1.78"/><circle cx="553.26" cy="140.04" r="1.78"/><circle cx="571.98" cy="144.53" r="1.78"/><circle cx="551.91" cy="140.78" r="1.78"/><circle cx="575.44" cy="133.61" r="1.78"/><circle cx="553.94" cy="135.65" r="1.78"/><circle cx="569.8" cy="153" r="1.78"/><circle cx="552.79" cy="130.99" r="1.78"/><circle cx="555.68" cy="136.45" r="1.78"/><circle cx="564.19" cy="131.15" r="1.78"/><circle cx="558.17" cy="132.06" r="1.78"/><circle cx="551.15" cy="138.3" r="1.78"/><circle cx="570.73" cy="139.92" r="1.78"/><circle cx="554.08" cy="146.42" r="1.78"/><circle cx="551.31" cy="132.61" r="1.78"/><circle cx="560.04" cy="127.09" r="1.78"/><circle cx="560.37" cy="151.31" r="1.78"/><circle cx="569.5" cy="142.02" r="1.78"/><circle cx="567.6" cy="140.82" r="1.78"/><circle cx="552.4" cy="145.32" r="1.78"/><circle cx="560.55" cy="149.71" r="1.78"/><circle cx="576.15" cy="139.76" r="1.78"/><circle cx="565.79" cy="149.97" r="1.78"/><circle cx="561.06" cy="133.31" r="1.78"/><circle cx="570.39" cy="154.16" r="1.78"/><circle cx="572" cy="148.4" r="1.78"/><circle cx="574.43" cy="147.75" r="1.78"/><circle cx="567.89" cy="140.52" r="1.78"/><circle cx="557.7" cy="146.1" r="1.78"/><circle cx="551.03" cy="139.43" r="1.78"/><circle cx="572.25" cy="148.82" r="1.78"/><circle cx="567.52" cy="134" r="1.78"/><circle cx="561.13" cy="140.57" r="1.78"/><circle cx="567.27" cy="139.1" r="1.78"/><circle cx="568.93" cy="155.77" r="1.78"/><circle cx="553.67" cy="146.94" r="1.78"/><circle cx="572.12" cy="138.44" r="1.78"/><circle cx="563.19" cy="157.19" r="1.78"/><circle cx="577.16" cy="142.62" r="1.78"/><circle cx="551.13" cy="144.39" r="1.78"/><circle cx="564.77" cy="148.95" r="1.78"/><circle cx="563.88" cy="146.46" r="1.78"/><circle cx="573.7" cy="142.69" r="1.78"/><circle cx="560.72" cy="156.34" r="1.78"/><circle cx="554.51" cy="147.9" r="1.78"/><circle cx="560.17" cy="150.41" r="1.78"/><circle cx="559.02" cy="127.81" r="1.78"/><circle cx="556.51" cy="138.79" r="1.78"/><circle cx="548.41" cy="139.39" r="1.78"/><circle cx="561.04" cy="148.34" r="1.78"/><circle cx="558.92" cy="134.49" r="1.78"/><circle cx="554.96" cy="149.73" r="1.78"/><circle cx="577.14" cy="142.87" r="1.78"/><circle cx="560.15" cy="132.78" r="1.78"/><circle cx="573.1" cy="146.3" r="1.78"/><circle cx="562.54" cy="143.99" r="1.78"/><circle cx="558.95" cy="146.44" r="1.78"/><circle cx="573.38" cy="152.12" r="1.78"/><circle cx="562.51" cy="135.42" r="1.78"/><circle cx="552.16" cy="108.13" r="1.78"/><circle cx="559.01" cy="115.71" r="1.78"/><circle cx="559.42" cy="112.83" r="1.78"/><circle cx="548.03" cy="112.37" r="1.78"/><circle cx="549.23" cy="110.13" r="1.78"/><circle cx="539.06" cy="127.82" r="1.78"/><circle cx="545.75" cy="112.08" r="1.78"/><circle cx="546.24" cy="119.83" r="1.78"/><circle cx="549.28" cy="125.03" r="1.78"/><circle cx="554.82" cy="115.96" r="1.78"/><circle cx="542.37" cy="131.43" r="1.78"/><circle cx="554.74" cy="112.25" r="1.78"/><circle cx="541.44" cy="108.71" r="1.78"/><circle cx="544.61" cy="129.62" r="1.78"/><circle cx="547.31" cy="109.04" r="1.78"/><circle cx="553.6" cy="129.78" r="1.78"/><circle cx="543.74" cy="126.86" r="1.78"/><circle cx="551.74" cy="128.48" r="1.78"/><circle cx="549.53" cy="133.13" r="1.78"/><circle cx="552.32" cy="112.73" r="1.78"/><circle cx="544.62" cy="108.6" r="1.78"/><circle cx="550.83" cy="105.93" r="1.78"/><circle cx="550.21" cy="108.77" r="1.78"/><circle cx="550.79" cy="120.44" r="1.78"/><circle cx="551.95" cy="132.47" r="1.78"/><circle cx="550.23" cy="122.56" r="1.78"/><circle cx="554.97" cy="131.74" r="1.78"/><circle cx="548" cy="117.82" r="1.78"/><circle cx="554.29" cy="124.99" r="1.78"/><circle cx="539.68" cy="124.12" r="1.78"/><circle cx="551.26" cy="119.99" r="1.78"/><circle cx="556.24" cy="124.63" r="1.78"/><circle cx="547.13" cy="132.44" r="1.78"/><circle cx="547.79" cy="119.66" r="1.78"/><circle cx="551.61" cy="129.43" r="1.78"/><circle cx="434" cy="82" r="1.78"/><circle cx="441.2" cy="132.3" r="1.78"/><circle cx="495.6" cy="127.7" r="1.78"/><circle cx="488.3" cy="137.2" r="1.78"/><circle cx="504" cy="103" r="1.78"/><circle cx="538.3" cy="101.4" r="1.78"/><circle cx="547.2" cy="101.4" r="1.78"/><circle cx="552.7" cy="98.9" r="1.78"/><circle cx="521.8" cy="113.3" r="1.78"/><circle cx="530.8" cy="112.6" r="1.78"/><circle cx="534.2" cy="108.5" r="1.78"/><circle cx="495.8" cy="127.7" r="1.78"/><circle cx="511.8" cy="126.1" r="1.78"/><circle cx="488.2" cy="137.3" r="1.78"/><circle cx="519.1" cy="118.4" r="1.78"/><circle cx="523.2" cy="119.5" r="1.78"/><circle cx="521.2" cy="122.5" r="1.78"/><circle cx="525.3" cy="123.6" r="1.78"/><circle cx="528" cy="125" r="1.78"/><circle cx="530.8" cy="126.3" r="1.78"/><circle cx="528.7" cy="129.1" r="1.78"/><circle cx="536.2" cy="129.8" r="1.78"/><circle cx="531.4" cy="133.9" r="1.78"/><circle cx="540.4" cy="133.2" r="1.78"/><circle cx="538.5" cy="100.9" r="1.78"/><circle cx="547.7" cy="101.5" r="1.78"/><circle cx="552.6" cy="99" r="1.78"/><circle cx="559.9" cy="101.5" r="1.78"/><circle cx="534.3" cy="108.2" r="1.78"/><circle cx="531.2" cy="112.4" r="1.78"/><circle cx="531.2" cy="126.5" r="1.78"/><circle cx="535.5" cy="130.1" r="1.78"/><circle cx="531.8" cy="133.8" r="1.78"/><circle cx="542.2" cy="133.8" r="1.78"/><circle cx="526" cy="117" r="1.78"/><circle cx="533" cy="120" r="1.78"/><circle cx="537" cy="125" r="1.78"/><circle cx="524" cy="128" r="1.78"/><circle cx="534" cy="136" r="1.78"/></g>
<g fill="#a54a4f"><circle cx="544.95" cy="74.84" r="1.78"/><circle cx="544.78" cy="73.78" r="1.78"/><circle cx="535.06" cy="42.87" r="1.78"/><circle cx="546.37" cy="70.65" r="1.78"/><circle cx="539.63" cy="76.21" r="1.78"/><circle cx="525.95" cy="33.03" r="1.78"/><circle cx="536.48" cy="63.91" r="1.78"/><circle cx="530.75" cy="39.36" r="1.78"/><circle cx="543.96" cy="52.55" r="1.78"/><circle cx="536.09" cy="46.57" r="1.78"/><circle cx="532.94" cy="29.67" r="1.78"/><circle cx="534.87" cy="42.23" r="1.78"/><circle cx="543.46" cy="50.79" r="1.78"/><circle cx="550.23" cy="68.57" r="1.78"/><circle cx="545.06" cy="78.8" r="1.78"/><circle cx="536.12" cy="49.3" r="1.78"/><circle cx="539.02" cy="49.08" r="1.78"/><circle cx="530.06" cy="36.92" r="1.78"/><circle cx="548.46" cy="75.73" r="1.78"/><circle cx="543.75" cy="65.57" r="1.78"/><circle cx="542.48" cy="77.54" r="1.78"/><circle cx="539.31" cy="44.17" r="1.78"/><circle cx="531.39" cy="37.38" r="1.78"/><circle cx="547" cy="74.9" r="1.78"/><circle cx="546.01" cy="61.34" r="1.78"/><circle cx="530.22" cy="46.3" r="1.78"/><circle cx="545.23" cy="53.48" r="1.78"/><circle cx="537.34" cy="36.04" r="1.78"/><circle cx="520.88" cy="31.56" r="1.78"/><circle cx="540.81" cy="57.43" r="1.78"/><circle cx="538.97" cy="39.6" r="1.78"/><circle cx="531.24" cy="43.51" r="1.78"/><circle cx="541.32" cy="43.89" r="1.78"/><circle cx="545.61" cy="56.04" r="1.78"/><circle cx="535.04" cy="35.79" r="1.78"/><circle cx="536.55" cy="54.41" r="1.78"/><circle cx="536.7" cy="65.47" r="1.78"/><circle cx="544.77" cy="58.97" r="1.78"/><circle cx="520.09" cy="32.02" r="1.78"/><circle cx="541.57" cy="49.86" r="1.78"/><circle cx="546" cy="73.64" r="1.78"/><circle cx="531.87" cy="29.4" r="1.78"/><circle cx="526.77" cy="37.12" r="1.78"/><circle cx="544.97" cy="73.69" r="1.78"/><circle cx="532.69" cy="56.24" r="1.78"/><circle cx="533.66" cy="29.68" r="1.78"/><circle cx="535.25" cy="55.84" r="1.78"/><circle cx="547.12" cy="65.96" r="1.78"/><circle cx="531.89" cy="54.69" r="1.78"/><circle cx="523.22" cy="34.96" r="1.78"/><circle cx="528.33" cy="35.74" r="1.78"/><circle cx="545.35" cy="77.45" r="1.78"/><circle cx="545.91" cy="55.98" r="1.78"/><circle cx="543.36" cy="46.24" r="1.78"/><circle cx="544.48" cy="76.16" r="1.78"/><circle cx="544.91" cy="72.76" r="1.78"/><circle cx="550.69" cy="77.28" r="1.78"/><circle cx="537.52" cy="47.59" r="1.78"/><circle cx="533.4" cy="32.21" r="1.78"/><circle cx="551.17" cy="69.06" r="1.78"/><circle cx="544.68" cy="74.68" r="1.78"/><circle cx="537.88" cy="42.45" r="1.78"/><circle cx="539.38" cy="42.85" r="1.78"/><circle cx="537.06" cy="41.66" r="1.78"/><circle cx="532.97" cy="51.2" r="1.78"/><circle cx="533.52" cy="36.33" r="1.78"/><circle cx="545.91" cy="60.38" r="1.78"/><circle cx="534.99" cy="62.48" r="1.78"/><circle cx="536.72" cy="53.03" r="1.78"/><circle cx="534.44" cy="54.2" r="1.78"/><circle cx="518.32" cy="32.08" r="1.78"/><circle cx="550.75" cy="67.08" r="1.78"/><circle cx="545.16" cy="55.58" r="1.78"/><circle cx="541.82" cy="67.32" r="1.78"/><circle cx="542.67" cy="53.36" r="1.78"/><circle cx="543.69" cy="65.52" r="1.78"/><circle cx="542.91" cy="59.12" r="1.78"/><circle cx="535.06" cy="50.37" r="1.78"/><circle cx="543.64" cy="74.07" r="1.78"/><circle cx="536.5" cy="48.38" r="1.78"/><circle cx="541.18" cy="43.86" r="1.78"/><circle cx="527.47" cy="45.38" r="1.78"/><circle cx="543.78" cy="72.86" r="1.78"/><circle cx="532.13" cy="51.73" r="1.78"/><circle cx="535.45" cy="33.18" r="1.78"/><circle cx="546.06" cy="72.27" r="1.78"/><circle cx="534.78" cy="54.51" r="1.78"/><circle cx="549.17" cy="68.9" r="1.78"/><circle cx="532.86" cy="55.55" r="1.78"/><circle cx="539.65" cy="48.89" r="1.78"/><circle cx="539.3" cy="55.97" r="1.78"/><circle cx="551.53" cy="71.64" r="1.78"/><circle cx="532.66" cy="34.36" r="1.78"/><circle cx="548.13" cy="64.54" r="1.78"/><circle cx="545.13" cy="80.19" r="1.78"/><circle cx="532.62" cy="54.9" r="1.78"/><circle cx="537.42" cy="60.02" r="1.78"/><circle cx="546.01" cy="59.14" r="1.78"/><circle cx="538.96" cy="38.85" r="1.78"/><circle cx="535.17" cy="50.02" r="1.78"/><circle cx="543.11" cy="45.42" r="1.78"/><circle cx="540.88" cy="47.04" r="1.78"/><circle cx="535.48" cy="46.78" r="1.78"/><circle cx="530.12" cy="48.69" r="1.78"/><circle cx="549.6" cy="73.13" r="1.78"/><circle cx="526.42" cy="38.32" r="1.78"/><circle cx="534.64" cy="34.59" r="1.78"/><circle cx="533.52" cy="48.69" r="1.78"/><circle cx="528.23" cy="32.01" r="1.78"/><circle cx="526.13" cy="41.36" r="1.78"/><circle cx="538.8" cy="46.39" r="1.78"/><circle cx="532.35" cy="40.44" r="1.78"/><circle cx="530.23" cy="35.42" r="1.78"/><circle cx="540.51" cy="42.19" r="1.78"/><circle cx="548.33" cy="59.21" r="1.78"/><circle cx="513" cy="33.4" r="1.78"/><circle cx="518" cy="31.3" r="1.78"/><circle cx="523.5" cy="43" r="1.78"/><circle cx="527.6" cy="47.8" r="1.78"/><circle cx="531.8" cy="56" r="1.78"/><circle cx="529.7" cy="66.3" r="1.78"/><circle cx="535.9" cy="68.4" r="1.78"/><circle cx="538.6" cy="74.6" r="1.78"/><circle cx="542.1" cy="79.4" r="1.78"/><circle cx="541.4" cy="84.2" r="1.78"/><circle cx="533.8" cy="87.6" r="1.78"/><circle cx="543.4" cy="93.8" r="1.78"/><circle cx="546.9" cy="91.7" r="1.78"/><circle cx="553.7" cy="82.8" r="1.78"/><circle cx="559.9" cy="80.7" r="1.78"/><circle cx="562.6" cy="77.3" r="1.78"/><circle cx="563.3" cy="87.6" r="1.78"/><circle cx="557.2" cy="91.7" r="1.78"/><circle cx="529.4" cy="66.7" r="1.78"/><circle cx="533.5" cy="87.9" r="1.78"/><circle cx="541" cy="84.5" r="1.78"/><circle cx="543.1" cy="94.1" r="1.78"/><circle cx="547.2" cy="91.8" r="1.78"/><circle cx="533.7" cy="87.7" r="1.78"/><circle cx="542.8" cy="93.8" r="1.78"/><circle cx="547.1" cy="92.1" r="1.78"/><circle cx="557.4" cy="92.3" r="1.78"/><circle cx="562.9" cy="88" r="1.78"/><circle cx="556.2" cy="106.3" r="1.78"/><circle cx="548.9" cy="108.2" r="1.78"/><circle cx="567.8" cy="106.3" r="1.78"/><circle cx="572.7" cy="118.5" r="1.78"/><circle cx="576.3" cy="122.8" r="1.78"/><circle cx="572.1" cy="126.5" r="1.78"/><circle cx="550" cy="85" r="1.78"/><circle cx="555" cy="78" r="1.78"/><circle cx="545" cy="88" r="1.78"/></g>
<g fill="#2196c4"><circle cx="555.32" cy="130.09" r="1.78"/><circle cx="559.66" cy="131.76" r="1.78"/><circle cx="567.95" cy="128.1" r="1.78"/><circle cx="567.97" cy="129.65" r="1.78"/><circle cx="561.33" cy="127.8" r="1.78"/><circle cx="564.42" cy="135.09" r="1.78"/><circle cx="557.78" cy="128.44" r="1.78"/><circle cx="557.13" cy="132.21" r="1.78"/><circle cx="564.01" cy="134.98" r="1.78"/><circle cx="569.15" cy="131.64" r="1.78"/><circle cx="569.89" cy="132.52" r="1.78"/><circle cx="564.49" cy="135.05" r="1.78"/><circle cx="569.65" cy="132.56" r="1.78"/><circle cx="563.64" cy="132.78" r="1.78"/><circle cx="565.28" cy="132.35" r="1.78"/><circle cx="564.96" cy="126.98" r="1.78"/><circle cx="564.67" cy="130.41" r="1.78"/><circle cx="566.88" cy="136.8" r="1.78"/><circle cx="564.44" cy="129.16" r="1.78"/><circle cx="567.86" cy="135.01" r="1.78"/><circle cx="562.52" cy="127.61" r="1.78"/><circle cx="557.19" cy="129.9" r="1.78"/><circle cx="557.53" cy="130.03" r="1.78"/><circle cx="564.16" cy="137.07" r="1.78"/><circle cx="552.12" cy="131.95" r="1.78"/><circle cx="567.61" cy="132.05" r="1.78"/><circle cx="573.48" cy="129.39" r="1.78"/><circle cx="545.44" cy="127.61" r="1.78"/><circle cx="563.35" cy="144.13" r="1.78"/><circle cx="575.4" cy="130.26" r="1.78"/><circle cx="557.78" cy="119.06" r="1.78"/><circle cx="564.98" cy="122.37" r="1.78"/><circle cx="567.3" cy="123.27" r="1.78"/><circle cx="567.74" cy="121.62" r="1.78"/><circle cx="567.12" cy="141.66" r="1.78"/><circle cx="564.49" cy="137.28" r="1.78"/><circle cx="559.28" cy="143.97" r="1.78"/><circle cx="552.88" cy="144.93" r="1.78"/><circle cx="554.64" cy="137.88" r="1.78"/><circle cx="550.15" cy="141.83" r="1.78"/><circle cx="560.08" cy="117.79" r="1.78"/><circle cx="556.39" cy="133.25" r="1.78"/><circle cx="558.6" cy="136.31" r="1.78"/><circle cx="549.49" cy="139.92" r="1.78"/><circle cx="556.26" cy="135.35" r="1.78"/><circle cx="564.52" cy="128.54" r="1.78"/><circle cx="556.96" cy="139.59" r="1.78"/><circle cx="562.57" cy="124.77" r="1.78"/><circle cx="566.8" cy="140.82" r="1.78"/><circle cx="555.29" cy="134.17" r="1.78"/><circle cx="563.64" cy="125.26" r="1.78"/><circle cx="558.29" cy="142.64" r="1.78"/><circle cx="556.68" cy="136.54" r="1.78"/><circle cx="563.66" cy="142.88" r="1.78"/><circle cx="570.03" cy="124.5" r="1.78"/><circle cx="558.1" cy="133.6" r="1.78"/><circle cx="549.5" cy="144.8" r="1.78"/><circle cx="550.7" cy="148.4" r="1.78"/><circle cx="561.7" cy="143.5" r="1.78"/><circle cx="552" cy="138.7" r="1.78"/><circle cx="559.3" cy="138.7" r="1.78"/><circle cx="543.4" cy="113" r="1.78"/><circle cx="541.6" cy="124" r="1.78"/><circle cx="566.6" cy="120.4" r="1.78"/><circle cx="567.8" cy="111.2" r="1.78"/><circle cx="566.6" cy="114.3" r="1.78"/><circle cx="552" cy="90.5" r="1.78"/><circle cx="564.1" cy="92.3" r="1.78"/><circle cx="561.1" cy="107" r="1.78"/><circle cx="511.9" cy="28.6" r="1.78"/><circle cx="516" cy="23.8" r="1.78"/><circle cx="522.2" cy="37.5" r="1.78"/><circle cx="527" cy="64.3" r="1.78"/><circle cx="551.7" cy="90.4" r="1.78"/><circle cx="564" cy="92.4" r="1.78"/><circle cx="526.9" cy="64.9" r="1.78"/><circle cx="552" cy="91" r="1.78"/><circle cx="574" cy="127" r="1.78"/><circle cx="576" cy="131" r="1.78"/><circle cx="569" cy="124" r="1.78"/></g>
<g fill="#74a896"><circle cx="519.59" cy="17.36" r="1.78"/><circle cx="525.52" cy="16.73" r="1.78"/><circle cx="523.17" cy="22.84" r="1.78"/><circle cx="520" cy="24.96" r="1.78"/><circle cx="524.52" cy="18.55" r="1.78"/><circle cx="520.13" cy="14.39" r="1.78"/><circle cx="518.43" cy="25.06" r="1.78"/><circle cx="519.43" cy="22.06" r="1.78"/><circle cx="517.83" cy="14.02" r="1.78"/><circle cx="518.19" cy="16.99" r="1.78"/><circle cx="517.47" cy="20.26" r="1.78"/><circle cx="532.95" cy="27.14" r="1.78"/><circle cx="532.3" cy="28.73" r="1.78"/><circle cx="513.76" cy="17.92" r="1.78"/><circle cx="526.89" cy="19.3" r="1.78"/><circle cx="520.69" cy="24.99" r="1.78"/><circle cx="527.77" cy="17.4" r="1.78"/><circle cx="526.03" cy="16.16" r="1.78"/><circle cx="528.63" cy="25.98" r="1.78"/><circle cx="514.5" cy="16.46" r="1.78"/><circle cx="517.99" cy="19.84" r="1.78"/><circle cx="511.47" cy="18.55" r="1.78"/><circle cx="526.27" cy="16.12" r="1.78"/><circle cx="531.23" cy="23.35" r="1.78"/><circle cx="521.24" cy="25.46" r="1.78"/><circle cx="519.12" cy="12.82" r="1.78"/><circle cx="531.11" cy="27.16" r="1.78"/><circle cx="517.57" cy="13.59" r="1.78"/><circle cx="531.6" cy="24.04" r="1.78"/><circle cx="511.67" cy="17.32" r="1.78"/><circle cx="527.66" cy="20.08" r="1.78"/><circle cx="528.96" cy="28.13" r="1.78"/><circle cx="517.44" cy="14.46" r="1.78"/><circle cx="533.48" cy="25.59" r="1.78"/><circle cx="528.74" cy="28.15" r="1.78"/><circle cx="526.01" cy="21.18" r="1.78"/><circle cx="521.08" cy="22.27" r="1.78"/><circle cx="527.86" cy="27.71" r="1.78"/><circle cx="516.95" cy="22.91" r="1.78"/><circle cx="534.44" cy="24.59" r="1.78"/><circle cx="523.94" cy="17.42" r="1.78"/><circle cx="511.97" cy="19.42" r="1.78"/><circle cx="520.67" cy="16.53" r="1.78"/><circle cx="518.17" cy="15.33" r="1.78"/><circle cx="527.96" cy="25.2" r="1.78"/><circle cx="516.38" cy="17.27" r="1.78"/><circle cx="523.23" cy="21.03" r="1.78"/><circle cx="524.04" cy="26.87" r="1.78"/><circle cx="525.29" cy="21.33" r="1.78"/><circle cx="529.42" cy="28.18" r="1.78"/><circle cx="513.33" cy="18.15" r="1.78"/><circle cx="519.4" cy="16.62" r="1.78"/><circle cx="511.99" cy="18" r="1.78"/><circle cx="521.57" cy="14.89" r="1.78"/><circle cx="518.51" cy="21.47" r="1.78"/><circle cx="519.47" cy="15.91" r="1.78"/><circle cx="521.23" cy="16.31" r="1.78"/><circle cx="533.21" cy="24.72" r="1.78"/><circle cx="526.01" cy="30.1" r="1.78"/><circle cx="526.62" cy="17.45" r="1.78"/><circle cx="516.58" cy="15.37" r="1.78"/><circle cx="531.01" cy="26.53" r="1.78"/><circle cx="518.57" cy="16.21" r="1.78"/><circle cx="519.6" cy="23" r="1.78"/><circle cx="516.41" cy="13.56" r="1.78"/><circle cx="524.5" cy="24.42" r="1.78"/><circle cx="530.75" cy="25.85" r="1.78"/><circle cx="522.71" cy="22.04" r="1.78"/><circle cx="514.39" cy="18.34" r="1.78"/><circle cx="521.36" cy="16.33" r="1.78"/><circle cx="526.29" cy="24.12" r="1.78"/><circle cx="525.38" cy="18.53" r="1.78"/><circle cx="520.75" cy="18.48" r="1.78"/><circle cx="517.76" cy="18.7" r="1.78"/><circle cx="523.32" cy="23.74" r="1.78"/><circle cx="517.03" cy="18.76" r="1.78"/><circle cx="521.58" cy="17.53" r="1.78"/><circle cx="515.32" cy="14.11" r="1.78"/><circle cx="517.5" cy="18.99" r="1.78"/><circle cx="526.71" cy="25.67" r="1.78"/><circle cx="528.35" cy="21.06" r="1.78"/><circle cx="523.5" cy="20.92" r="1.78"/><circle cx="517.05" cy="20.42" r="1.78"/><circle cx="528.2" cy="19.25" r="1.78"/><circle cx="523.01" cy="16.89" r="1.78"/><circle cx="523.54" cy="18.82" r="1.78"/><circle cx="518.32" cy="20.55" r="1.78"/><circle cx="519.08" cy="19.89" r="1.78"/><circle cx="521.6" cy="18.15" r="1.78"/><circle cx="513.94" cy="15.35" r="1.78"/><circle cx="527.13" cy="20.13" r="1.78"/><circle cx="516.31" cy="14.23" r="1.78"/><circle cx="521.02" cy="16.27" r="1.78"/><circle cx="520.32" cy="20.2" r="1.78"/><circle cx="522" cy="14.04" r="1.78"/><circle cx="518.94" cy="13.96" r="1.78"/><circle cx="521.36" cy="22.29" r="1.78"/><circle cx="518.66" cy="15.23" r="1.78"/><circle cx="528.32" cy="20.32" r="1.78"/><circle cx="516.03" cy="17.84" r="1.78"/><circle cx="513.2" cy="25.8" r="1.78"/><circle cx="515.3" cy="26.5" r="1.78"/><circle cx="524.9" cy="28.6" r="1.78"/><circle cx="531.1" cy="32" r="1.78"/><circle cx="528.3" cy="41" r="1.78"/><circle cx="537.3" cy="38.9" r="1.78"/><circle cx="540" cy="43.7" r="1.78"/><circle cx="533.8" cy="54.7" r="1.78"/><circle cx="541.4" cy="55.4" r="1.78"/><circle cx="514.6" cy="39.6" r="1.78"/><circle cx="548.9" cy="84.2" r="1.78"/><circle cx="552.4" cy="85.5" r="1.78"/><circle cx="557.2" cy="86.9" r="1.78"/><circle cx="542.7" cy="89" r="1.78"/><circle cx="565.4" cy="93.8" r="1.78"/><circle cx="539.1" cy="113.7" r="1.78"/><circle cx="552" cy="121.6" r="1.78"/><circle cx="556.2" cy="124.6" r="1.78"/><circle cx="557.4" cy="130.1" r="1.78"/><circle cx="564.8" cy="130.1" r="1.78"/><circle cx="569.6" cy="128.3" r="1.78"/><circle cx="571.5" cy="116.7" r="1.78"/><circle cx="570.2" cy="119.1" r="1.78"/><circle cx="548.9" cy="134.4" r="1.78"/><circle cx="556.8" cy="135.6" r="1.78"/><circle cx="566.6" cy="102.1" r="1.78"/><circle cx="565.4" cy="94.1" r="1.78"/><circle cx="565.4" cy="96.2" r="1.78"/><circle cx="565.6" cy="98.4" r="1.78"/><circle cx="542.8" cy="88.7" r="1.78"/><circle cx="548.6" cy="84.5" r="1.78"/><circle cx="552" cy="85.9" r="1.78"/><circle cx="556.8" cy="87.2" r="1.78"/><circle cx="542.4" cy="88.6" r="1.78"/><circle cx="567" cy="100" r="1.78"/><circle cx="569" cy="104" r="1.78"/></g>
<circle cx="574.3" cy="12.2" r="2.9" fill="#3e5058"/>
<text x="579.1" y="14" font-size="5.5" text-anchor="start" fill="#222" font-family='"Liberation Serif", serif'>d0</text>
<circle cx="574.3" cy="21" r="2.9" fill="#d58852"/>
<text x="579.1" y="22.8" font-size="5.5" text-anchor="start" fill="#222" font-family='"Liberation Serif", serif'>d7</text>
<circle cx="574.3" cy="29.8" r="2.9" fill="#2196c4"/>
<text x="579.1" y="31.6" font-size="5.5" text-anchor="start" fill="#222" font-family='"Liberation Serif", serif'>d35</text>
<circle cx="574.3" cy="38.5" r="2.9" fill="#a54a4f"/>
<text x="579.1" y="40.3" font-size="5.5" text-anchor="start" fill="#222" font-family='"Liberation Serif", serif'>d56</text>
<circle cx="574.3" cy="47.3" r="2.9" fill="#74a896"/>
<text x="579.1" y="49.1" font-size="5.5" text-anchor="start" fill="#222" font-family='"Liberation Serif", serif'>d70</text>
<text x="2.6" y="188.6" font-size="10.4" text-anchor="start" fill="#111" font-weight="bold">c</text>
<line x1="23.3" y1="192.75" x2="23.3" y2="243.5" stroke="#555" stroke-width="0.8"/>
<line x1="20.5" y1="243.1" x2="23.3" y2="243.1" stroke="#444" stroke-width="0.6"/>
<text x="20.2" y="244.45" font-size="3.9" text-anchor="end" fill="#333" font-weight="bold">0.0</text>
<line x1="20.5" y1="233.03" x2="23.3" y2="233.03" stroke="#444" stroke-width="0.6"/>
<text x="20.2" y="234.38" font-size="3.9" text-anchor="end" fill="#333" font-weight="bold">0.2</text>
<line x1="20.5" y1="222.96" x2="23.3" y2="222.96" stroke="#444" stroke-width="0.6"/>
<text x="20.2" y="224.31" font-size="3.9" text-anchor="end" fill="#333" font-weight="bold">0.4</text>
<line x1="20.5" y1="212.89" x2="23.3" y2="212.89" stroke="#444" stroke-width="0.6"/>
<text x="20.2" y="214.24" font-size="3.9" text-anchor="end" fill="#333" font-weight="bold">0.6</text>
<line x1="20.5" y1="202.82" x2="23.3" y2="202.82" stroke="#444" stroke-width="0.6"/>
<text x="20.2" y="204.17" font-size="3.9" text-anchor="end" fill="#333" font-weight="bold">0.8</text>
<line x1="20.5" y1="192.75" x2="23.3" y2="192.75" stroke="#444" stroke-width="0.6"/>
<text x="20.2" y="194.1" font-size="3.9" text-anchor="end" fill="#333" font-weight="bold">1.0</text>
<text x="12.9" y="217.42" font-size="4.6" fill="#000" text-anchor="middle" transform="rotate(-90 12.9 217.42)" textLength="36.5" lengthAdjust="spacingAndGlyphs">relative abundance</text>
<line x1="22.9" y1="243.1" x2="275" y2="243.1" stroke="#222" stroke-width="0.85"/>
<line x1="23.3" y1="243.1" x2="23.3" y2="245.5" stroke="#222" stroke-width="0.8"/>
<line x1="28.25" y1="243.1" x2="28.25" y2="245.5" stroke="#222" stroke-width="0.8"/>
<line x1="33.19" y1="243.1" x2="33.19" y2="245.5" stroke="#222" stroke-width="0.8"/>
<line x1="38.14" y1="243.1" x2="38.14" y2="245.5" stroke="#222" stroke-width="0.8"/>
<line x1="43.08" y1="243.1" x2="43.08" y2="245.5" stroke="#222" stroke-width="0.8"/>
<line x1="48.03" y1="243.1" x2="48.03" y2="245.5" stroke="#222" stroke-width="0.8"/>
<line x1="52.98" y1="243.1" x2="52.98" y2="245.5" stroke="#222" stroke-width="0.8"/>
<line x1="57.92" y1="243.1" x2="57.92" y2="245.5" stroke="#222" stroke-width="0.8"/>
<line x1="62.87" y1="243.1" x2="62.87" y2="245.5" stroke="#222" stroke-width="0.8"/>
<line x1="67.81" y1="243.1" x2="67.81" y2="245.5" stroke="#222" stroke-width="0.8"/>
<line x1="72.76" y1="243.1" x2="72.76" y2="245.5" stroke="#222" stroke-width="0.8"/>
<line x1="77.71" y1="243.1" x2="77.71" y2="245.5" stroke="#222" stroke-width="0.8"/>
<line x1="82.65" y1="243.1" x2="82.65" y2="245.5" stroke="#222" stroke-width="0.8"/>
<line x1="87.6" y1="243.1" x2="87.6" y2="245.5" stroke="#222" stroke-width="0.8"/>
<line x1="92.54" y1="243.1" x2="92.54" y2="245.5" stroke="#222" stroke-width="0.8"/>
<line x1="97.49" y1="243.1" x2="97.49" y2="245.5" stroke="#222" stroke-width="0.8"/>
<line x1="102.44" y1="243.1" x2="102.44" y2="245.5" stroke="#222" stroke-width="0.8"/>
<line x1="107.38" y1="243.1" x2="107.38" y2="245.5" stroke="#222" stroke-width="0.8"/>
<line x1="112.33" y1="243.1" x2="112.33" y2="245.5" stroke="#222" stroke-width="0.8"/>
<line x1="117.27" y1="243.1" x2="117.27" y2="245.5" stroke="#222" stroke-width="0.8"/>
<line x1="122.22" y1="243.1" x2="122.22" y2="245.5" stroke="#222" stroke-width="0.8"/>
<line x1="127.17" y1="243.1" x2="127.17" y2="245.5" stroke="#222" stroke-width="0.8"/>
<line x1="132.11" y1="243.1" x2="132.11" y2="245.5" stroke="#222" stroke-width="0.8"/>
<line x1="137.06" y1="243.1" x2="137.06" y2="245.5" stroke="#222" stroke-width="0.8"/>
<line x1="142" y1="243.1" x2="142" y2="245.5" stroke="#222" stroke-width="0.8"/>
<line x1="146.95" y1="243.1" x2="146.95" y2="245.5" stroke="#222" stroke-width="0.8"/>
<line x1="151.9" y1="243.1" x2="151.9" y2="245.5" stroke="#222" stroke-width="0.8"/>
<line x1="156.84" y1="243.1" x2="156.84" y2="245.5" stroke="#222" stroke-width="0.8"/>
<line x1="161.79" y1="243.1" x2="161.79" y2="245.5" stroke="#222" stroke-width="0.8"/>
<line x1="166.73" y1="243.1" x2="166.73" y2="245.5" stroke="#222" stroke-width="0.8"/>
<line x1="171.68" y1="243.1" x2="171.68" y2="245.5" stroke="#222" stroke-width="0.8"/>
<line x1="176.63" y1="243.1" x2="176.63" y2="245.5" stroke="#222" stroke-width="0.8"/>
<line x1="181.57" y1="243.1" x2="181.57" y2="245.5" stroke="#222" stroke-width="0.8"/>
<line x1="186.52" y1="243.1" x2="186.52" y2="245.5" stroke="#222" stroke-width="0.8"/>
<line x1="191.46" y1="243.1" x2="191.46" y2="245.5" stroke="#222" stroke-width="0.8"/>
<line x1="196.41" y1="243.1" x2="196.41" y2="245.5" stroke="#222" stroke-width="0.8"/>
<line x1="201.36" y1="243.1" x2="201.36" y2="245.5" stroke="#222" stroke-width="0.8"/>
<line x1="206.3" y1="243.1" x2="206.3" y2="245.5" stroke="#222" stroke-width="0.8"/>
<line x1="211.25" y1="243.1" x2="211.25" y2="245.5" stroke="#222" stroke-width="0.8"/>
<line x1="216.19" y1="243.1" x2="216.19" y2="245.5" stroke="#222" stroke-width="0.8"/>
<line x1="221.14" y1="243.1" x2="221.14" y2="245.5" stroke="#222" stroke-width="0.8"/>
<line x1="226.09" y1="243.1" x2="226.09" y2="245.5" stroke="#222" stroke-width="0.8"/>
<line x1="231.03" y1="243.1" x2="231.03" y2="245.5" stroke="#222" stroke-width="0.8"/>
<line x1="235.98" y1="243.1" x2="235.98" y2="245.5" stroke="#222" stroke-width="0.8"/>
<line x1="240.92" y1="243.1" x2="240.92" y2="245.5" stroke="#222" stroke-width="0.8"/>
<line x1="245.87" y1="243.1" x2="245.87" y2="245.5" stroke="#222" stroke-width="0.8"/>
<line x1="250.82" y1="243.1" x2="250.82" y2="245.5" stroke="#222" stroke-width="0.8"/>
<line x1="255.76" y1="243.1" x2="255.76" y2="245.5" stroke="#222" stroke-width="0.8"/>
<line x1="260.71" y1="243.1" x2="260.71" y2="245.5" stroke="#222" stroke-width="0.8"/>
<line x1="265.65" y1="243.1" x2="265.65" y2="245.5" stroke="#222" stroke-width="0.8"/>
<line x1="270.6" y1="243.1" x2="270.6" y2="245.5" stroke="#222" stroke-width="0.8"/>
<g font-size="3.4" font-weight="bold" fill="#222" text-anchor="middle"><text x="22.4" y="249.8" transform="rotate(-45 22.4 248.6)">d0</text><text x="27.35" y="249.8" transform="rotate(-45 27.35 248.6)">d0</text><text x="32.29" y="249.8" transform="rotate(-45 32.29 248.6)">d0</text><text x="37.24" y="249.8" transform="rotate(-45 37.24 248.6)">d0</text><text x="42.18" y="249.8" transform="rotate(-45 42.18 248.6)">d0</text><text x="47.13" y="249.8" transform="rotate(-45 47.13 248.6)">d0</text><text x="52.08" y="249.8" transform="rotate(-45 52.08 248.6)">d0</text><text x="57.02" y="249.8" transform="rotate(-45 57.02 248.6)">d0</text><text x="61.97" y="249.8" transform="rotate(-45 61.97 248.6)">d0</text><text x="66.91" y="249.8" transform="rotate(-45 66.91 248.6)">d0</text><text x="71.86" y="249.8" transform="rotate(-45 71.86 248.6)">d0</text><text x="76.81" y="249.8" transform="rotate(-45 76.81 248.6)">d0</text><text x="81.75" y="249.8" transform="rotate(-45 81.75 248.6)">d0</text><text x="86.7" y="249.8" transform="rotate(-45 86.7 248.6)">d0</text><text x="91.64" y="249.8" transform="rotate(-45 91.64 248.6)">d0</text><text x="96.59" y="249.8" transform="rotate(-45 96.59 248.6)">d0</text><text x="101.54" y="249.8" transform="rotate(-45 101.54 248.6)">d0</text><text x="106.48" y="249.8" transform="rotate(-45 106.48 248.6)">d0</text><text x="111.43" y="249.8" transform="rotate(-45 111.43 248.6)">d0</text><text x="116.37" y="249.8" transform="rotate(-45 116.37 248.6)">7</text><text x="121.32" y="249.8" transform="rotate(-45 121.32 248.6)">7</text><text x="126.27" y="249.8" transform="rotate(-45 126.27 248.6)">7</text><text x="131.21" y="249.8" transform="rotate(-45 131.21 248.6)">7</text><text x="136.16" y="249.8" transform="rotate(-45 136.16 248.6)">7</text><text x="141.1" y="249.8" transform="rotate(-45 141.1 248.6)">7</text><text x="146.05" y="249.8" transform="rotate(-45 146.05 248.6)">7</text><text x="151" y="249.8" transform="rotate(-45 151 248.6)">7</text><text x="155.94" y="249.8" transform="rotate(-45 155.94 248.6)">7</text><text x="160.89" y="249.8" transform="rotate(-45 160.89 248.6)">7</text><text x="165.83" y="249.8" transform="rotate(-45 165.83 248.6)">7</text><text x="170.78" y="249.8" transform="rotate(-45 170.78 248.6)">7</text><text x="175.73" y="249.8" transform="rotate(-45 175.73 248.6)">7</text><text x="180.67" y="249.8" transform="rotate(-45 180.67 248.6)">7</text><text x="185.62" y="249.8" transform="rotate(-45 185.62 248.6)">7</text><text x="190.56" y="249.8" transform="rotate(-45 190.56 248.6)">7</text><text x="195.51" y="249.8" transform="rotate(-45 195.51 248.6)">d35</text><text x="200.46" y="249.8" transform="rotate(-45 200.46 248.6)">d35</text><text x="205.4" y="249.8" transform="rotate(-45 205.4 248.6)">d35</text><text x="210.35" y="249.8" transform="rotate(-45 210.35 248.6)">d35</text><text x="215.29" y="249.8" transform="rotate(-45 215.29 248.6)">d35</text><text x="220.24" y="249.8" transform="rotate(-45 220.24 248.6)">d35</text><text x="225.19" y="249.8" transform="rotate(-45 225.19 248.6)">d35</text><text x="230.13" y="249.8" transform="rotate(-45 230.13 248.6)">d35</text><text x="235.08" y="249.8" transform="rotate(-45 235.08 248.6)">d35</text><text x="240.02" y="249.8" transform="rotate(-45 240.02 248.6)">d35</text><text x="244.97" y="249.8" transform="rotate(-45 244.97 248.6)">d35</text><text x="249.92" y="249.8" transform="rotate(-45 249.92 248.6)">d35</text><text x="254.86" y="249.8" transform="rotate(-45 254.86 248.6)">d35</text><text x="259.81" y="249.8" transform="rotate(-45 259.81 248.6)">d35</text><text x="264.75" y="249.8" transform="rotate(-45 264.75 248.6)">d35</text><text x="269.7" y="249.8" transform="rotate(-45 269.7 248.6)">d35</text></g>
<text x="152.8" y="258.7" font-size="8.2" text-anchor="middle" fill="#111" font-weight="bold">Day</text>
<rect x="226" y="188.2" width="5.2" height="2.3" fill="#4a8fd6"/>
<text x="234.2" y="190.95" font-size="4.7" fill="#222" textLength="28" lengthAdjust="spacingAndGlyphs">Achromobacter</text>
<rect x="226" y="195.2" width="5.2" height="2.3" fill="#f2a46c"/>
<text x="234.2" y="197.95" font-size="4.7" fill="#222" textLength="31.7" lengthAdjust="spacingAndGlyphs">Corynebacterium</text>
<g fill="#4a8fd6"><rect x="23" y="218.63" width="1.0" height="24.47"/><rect x="24" y="209.49" width="1.0" height="33.61"/><rect x="25" y="201.94" width="1.0" height="41.16" fill-opacity="0.7"/><rect x="26" y="203.19" width="1.0" height="39.91"/><rect x="27" y="208.95" width="1.0" height="34.15"/><rect x="28" y="203.54" width="1.0" height="39.56"/><rect x="29" y="207.07" width="1.0" height="36.03" fill-opacity="0.5"/><rect x="30" y="207.18" width="1.0" height="35.92"/><rect x="31" y="207.84" width="1.0" height="35.26"/><rect x="32" y="200.73" width="1.0" height="42.37"/><rect x="33" y="210.75" width="1.0" height="32.35"/><rect x="34" y="210.13" width="1.0" height="32.97"/><rect x="35" y="224.68" width="1.0" height="18.42" fill-opacity="0.77"/><rect x="36" y="221.78" width="1.0" height="21.32"/><rect x="37" y="230.33" width="1.0" height="12.77"/><rect x="38" y="206.27" width="1.0" height="36.83"/><rect x="39" y="230.52" width="1.0" height="12.58"/><rect x="40" y="224.94" width="1.0" height="18.16"/><rect x="41" y="201.15" width="1.0" height="41.95"/><rect x="42" y="205.57" width="1.0" height="37.53"/><rect x="43" y="207.25" width="1.0" height="35.85"/><rect x="44" y="205.71" width="1.0" height="37.39" fill-opacity="0.62"/><rect x="45" y="230.31" width="1.0" height="12.79"/><rect x="46" y="208.27" width="1.0" height="34.83"/><rect x="47" y="237.3" width="1.0" height="5.8"/><rect x="48" y="208.7" width="1.0" height="34.4"/><rect x="49" y="217.98" width="1.0" height="25.12"/><rect x="50" y="208.83" width="1.0" height="34.27"/><rect x="51" y="223.12" width="1.0" height="19.98" fill-opacity="0.58"/><rect x="52" y="207.15" width="1.0" height="35.95"/><rect x="53" y="201.31" width="1.0" height="41.79" fill-opacity="0.66"/><rect x="54" y="201.91" width="1.0" height="41.19"/><rect x="55" y="204.49" width="1.0" height="38.61" fill-opacity="0.57"/><rect x="56" y="221.12" width="1.0" height="21.98"/><rect x="57" y="200.84" width="1.0" height="42.26"/><rect x="58" y="207.2" width="1.0" height="35.9"/><rect x="59" y="216.09" width="1.0" height="27.01"/><rect x="60" y="222.61" width="1.0" height="20.49" fill-opacity="0.69"/><rect x="61" y="212.3" width="1.0" height="30.8"/><rect x="62" y="205.34" width="1.0" height="37.76" fill-opacity="0.75"/><rect x="63" y="206.02" width="1.0" height="37.08"/><rect x="64" y="214.63" width="1.0" height="28.47"/><rect x="65" y="222.99" width="1.0" height="20.11" fill-opacity="0.77"/><rect x="66" y="202.11" width="1.0" height="40.99" fill-opacity="0.7"/><rect x="67" y="234.65" width="1.0" height="8.45"/><rect x="68" y="212.87" width="1.0" height="30.23" fill-opacity="0.5"/><rect x="69" y="201.7" width="1.0" height="41.4"/><rect x="70" y="217.33" width="1.0" height="25.77"/><rect x="71" y="221.34" width="1.0" height="21.76"/><rect x="72" y="235.82" width="1.0" height="7.28"/><rect x="73" y="207.91" width="1.0" height="35.19"/><rect x="74" y="203.69" width="1.0" height="39.41"/><rect x="75" y="209.68" width="1.0" height="33.42" fill-opacity="0.62"/><rect x="76" y="200.63" width="1.0" height="42.47"/><rect x="77" y="209.46" width="1.0" height="33.64"/><rect x="78" y="213.66" width="1.0" height="29.44"/><rect x="79" y="237.93" width="1.0" height="5.17" fill-opacity="0.76"/><rect x="80" y="229.32" width="1.0" height="13.78" fill-opacity="0.46"/><rect x="81" y="229.72" width="1.0" height="13.38"/><rect x="82" y="220.13" width="1.0" height="22.97"/><rect x="83" y="219.53" width="1.0" height="23.57" fill-opacity="0.58"/><rect x="84" y="209.72" width="1.0" height="33.38" fill-opacity="0.55"/><rect x="85" y="207.74" width="1.0" height="35.36"/><rect x="86" y="231.77" width="1.0" height="11.33"/><rect x="87" y="210.79" width="1.0" height="32.31"/><rect x="88" y="204.47" width="1.0" height="38.63"/><rect x="89" y="200.89" width="1.0" height="42.21"/><rect x="90" y="222.97" width="1.0" height="20.13"/><rect x="91" y="216.78" width="1.0" height="26.32"/><rect x="92" y="205.24" width="1.0" height="37.86"/><rect x="93" y="232.03" width="1.0" height="11.07"/><rect x="94" y="211.01" width="1.0" height="32.09"/><rect x="95" y="206.76" width="1.0" height="36.34"/><rect x="96" y="201.68" width="1.0" height="41.42"/><rect x="97" y="206.77" width="1.0" height="36.33"/><rect x="98" y="201.71" width="1.0" height="41.39"/><rect x="99" y="223.12" width="1.0" height="19.98"/><rect x="100" y="208.79" width="1.0" height="34.31"/><rect x="101" y="236.9" width="1.0" height="6.2"/><rect x="102" y="212.8" width="1.0" height="30.3"/><rect x="103" y="210.14" width="1.0" height="32.96"/><rect x="104" y="234.61" width="1.0" height="8.49"/><rect x="105" y="211.62" width="1.0" height="31.48"/><rect x="106" y="216.97" width="1.0" height="26.13"/><rect x="107" y="215.98" width="1.0" height="27.12"/><rect x="108" y="216.44" width="1.0" height="26.66"/><rect x="109" y="217.35" width="1.0" height="25.75"/><rect x="110" y="213.75" width="1.0" height="29.35" fill-opacity="0.58"/><rect x="111" y="205.63" width="1.0" height="37.47"/><rect x="112" y="203.01" width="1.0" height="40.09"/><rect x="130.2" y="233.03" width="1.0" height="10.07"/><rect x="135.4" y="215.41" width="1.0" height="27.69"/><rect x="150.2" y="229.51" width="1.0" height="13.59"/><rect x="190.2" y="241.84" width="1.0" height="1.26"/><rect x="192.5" y="242.34" width="1.0" height="0.76"/><rect x="140.7" y="220.95" width="1.0" height="22.15" fill-opacity="0.45"/></g>
<g fill="#f2a46c"><rect x="23" y="240.93" width="1.0" height="2.17" fill-opacity="0.46"/><rect x="24" y="236.57" width="1.0" height="6.53"/><rect x="25" y="242.02" width="1.0" height="1.08"/><rect x="26" y="238.34" width="1.0" height="4.76" fill-opacity="0.75"/><rect x="27" y="234.37" width="1.0" height="8.73"/><rect x="28" y="237.94" width="1.0" height="5.16"/><rect x="29" y="234.54" width="1.0" height="8.56"/><rect x="30" y="240.65" width="1.0" height="2.45"/><rect x="31" y="240.6" width="1.0" height="2.5"/><rect x="32" y="236.4" width="1.0" height="6.7"/><rect x="33" y="235.07" width="1.0" height="8.03"/><rect x="34" y="242.09" width="1.0" height="1.01"/><rect x="35" y="234.65" width="1.0" height="8.45"/><rect x="36" y="242.09" width="1.0" height="1.01"/><rect x="37" y="235.36" width="1.0" height="7.74"/><rect x="38" y="237.82" width="1.0" height="5.28"/><rect x="39" y="237.35" width="1.0" height="5.75"/><rect x="40" y="238.53" width="1.0" height="4.57"/><rect x="41" y="240.63" width="1.0" height="2.47"/><rect x="42" y="237.07" width="1.0" height="6.03"/><rect x="43" y="239.13" width="1.0" height="3.97"/><rect x="44" y="240.46" width="1.0" height="2.64"/><rect x="45" y="239.36" width="1.0" height="3.74"/><rect x="46" y="239.41" width="1.0" height="3.69"/><rect x="47" y="241.43" width="1.0" height="1.67"/><rect x="48" y="242.09" width="1.0" height="1.01"/><rect x="49" y="239.51" width="1.0" height="3.59" fill-opacity="0.68"/><rect x="50" y="236.73" width="1.0" height="6.37"/><rect x="51" y="242.04" width="1.0" height="1.06"/><rect x="52" y="237.43" width="1.0" height="5.67" fill-opacity="0.58"/><rect x="53" y="240.36" width="1.0" height="2.74"/><rect x="54" y="238.33" width="1.0" height="4.77"/><rect x="55" y="238.1" width="1.0" height="5"/><rect x="56" y="240.78" width="1.0" height="2.32"/><rect x="57" y="238.7" width="1.0" height="4.4"/><rect x="58" y="238.64" width="1.0" height="4.46"/><rect x="59" y="237.09" width="1.0" height="6.01"/><rect x="60" y="241.68" width="1.0" height="1.42"/><rect x="61" y="235.95" width="1.0" height="7.15"/><rect x="62" y="240.8" width="1.0" height="2.3" fill-opacity="0.57"/><rect x="63" y="242.09" width="1.0" height="1.01"/><rect x="64" y="236.06" width="1.0" height="7.04"/><rect x="65" y="242.09" width="1.0" height="1.01"/><rect x="66" y="239.72" width="1.0" height="3.38"/><rect x="67" y="239.14" width="1.0" height="3.96"/><rect x="68" y="236.07" width="1.0" height="7.03" fill-opacity="0.48"/><rect x="69" y="236.53" width="1.0" height="6.57"/><rect x="70" y="237.44" width="1.0" height="5.66"/><rect x="71" y="236.76" width="1.0" height="6.34"/><rect x="72" y="236.8" width="1.0" height="6.3"/><rect x="73" y="237.82" width="1.0" height="5.28"/><rect x="74" y="241.82" width="1.0" height="1.28"/><rect x="75" y="242.09" width="1.0" height="1.01"/><rect x="76" y="239.6" width="1.0" height="3.5"/><rect x="77" y="239.95" width="1.0" height="3.15"/><rect x="78" y="238.56" width="1.0" height="4.54"/><rect x="79" y="239.01" width="1.0" height="4.09" fill-opacity="0.49"/><rect x="80" y="238.94" width="1.0" height="4.16"/><rect x="81" y="240.81" width="1.0" height="2.29"/><rect x="82" y="242.09" width="1.0" height="1.01"/><rect x="83" y="238.85" width="1.0" height="4.25"/><rect x="84" y="242.09" width="1.0" height="1.01"/><rect x="85" y="240.35" width="1.0" height="2.75"/><rect x="86" y="237.14" width="1.0" height="5.96"/><rect x="87" y="240.2" width="1.0" height="2.9"/><rect x="88" y="242.09" width="1.0" height="1.01" fill-opacity="0.49"/><rect x="89" y="241.26" width="1.0" height="1.84"/><rect x="90" y="239.09" width="1.0" height="4.01"/><rect x="91" y="237" width="1.0" height="6.1"/><rect x="92" y="239.37" width="1.0" height="3.73"/><rect x="93" y="239.85" width="1.0" height="3.25"/><rect x="94" y="237.88" width="1.0" height="5.22"/><rect x="95" y="236.69" width="1.0" height="6.41"/><rect x="96" y="242.09" width="1.0" height="1.01"/><rect x="97" y="238.61" width="1.0" height="4.49"/><rect x="98" y="237.18" width="1.0" height="5.92"/><rect x="99" y="240.08" width="1.0" height="3.02"/><rect x="100" y="242.09" width="1.0" height="1.01"/><rect x="101" y="237.87" width="1.0" height="5.23"/><rect x="102" y="240.45" width="1.0" height="2.65"/><rect x="103" y="242.09" width="1.0" height="1.01"/><rect x="104" y="241.7" width="1.0" height="1.4" fill-opacity="0.8"/><rect x="105" y="236.77" width="1.0" height="6.33"/><rect x="106" y="239.61" width="1.0" height="3.49"/><rect x="107" y="235.53" width="1.0" height="7.57" fill-opacity="0.65"/><rect x="108" y="239.64" width="1.0" height="3.46"/><rect x="109" y="239.79" width="1.0" height="3.31"/><rect x="110" y="239.86" width="1.0" height="3.24"/><rect x="111" y="240.33" width="1.0" height="2.77" fill-opacity="0.48"/><rect x="112" y="240.82" width="1.0" height="2.28"/><rect x="60.4" y="224.97" width="1.0" height="18.13"/></g>
<text x="2.6" y="286.8" font-size="10.4" text-anchor="start" fill="#111" font-weight="bold">d</text>
<line x1="23.3" y1="288.85" x2="23.3" y2="339.6" stroke="#555" stroke-width="0.8"/>
<line x1="20.5" y1="339.2" x2="23.3" y2="339.2" stroke="#444" stroke-width="0.6"/>
<text x="20.2" y="340.55" font-size="3.9" text-anchor="end" fill="#333" font-weight="bold">0.0</text>
<line x1="20.5" y1="329.13" x2="23.3" y2="329.13" stroke="#444" stroke-width="0.6"/>
<text x="20.2" y="330.48" font-size="3.9" text-anchor="end" fill="#333" font-weight="bold">0.2</text>
<line x1="20.5" y1="319.06" x2="23.3" y2="319.06" stroke="#444" stroke-width="0.6"/>
<text x="20.2" y="320.41" font-size="3.9" text-anchor="end" fill="#333" font-weight="bold">0.4</text>
<line x1="20.5" y1="308.99" x2="23.3" y2="308.99" stroke="#444" stroke-width="0.6"/>
<text x="20.2" y="310.34" font-size="3.9" text-anchor="end" fill="#333" font-weight="bold">0.6</text>
<line x1="20.5" y1="298.92" x2="23.3" y2="298.92" stroke="#444" stroke-width="0.6"/>
<text x="20.2" y="300.27" font-size="3.9" text-anchor="end" fill="#333" font-weight="bold">0.8</text>
<line x1="20.5" y1="288.85" x2="23.3" y2="288.85" stroke="#444" stroke-width="0.6"/>
<text x="20.2" y="290.2" font-size="3.9" text-anchor="end" fill="#333" font-weight="bold">1.0</text>
<text x="12.9" y="313.52" font-size="4.6" fill="#000" text-anchor="middle" transform="rotate(-90 12.9 313.52)" textLength="36.5" lengthAdjust="spacingAndGlyphs">relative abundance</text>
<line x1="22.9" y1="339.2" x2="275" y2="339.2" stroke="#222" stroke-width="0.85"/>
<line x1="23.3" y1="339.2" x2="23.3" y2="341.6" stroke="#222" stroke-width="0.8"/>
<line x1="28.11" y1="339.2" x2="28.11" y2="341.6" stroke="#222" stroke-width="0.8"/>
<line x1="32.93" y1="339.2" x2="32.93" y2="341.6" stroke="#222" stroke-width="0.8"/>
<line x1="37.74" y1="339.2" x2="37.74" y2="341.6" stroke="#222" stroke-width="0.8"/>
<line x1="42.55" y1="339.2" x2="42.55" y2="341.6" stroke="#222" stroke-width="0.8"/>
<line x1="47.37" y1="339.2" x2="47.37" y2="341.6" stroke="#222" stroke-width="0.8"/>
<line x1="52.18" y1="339.2" x2="52.18" y2="341.6" stroke="#222" stroke-width="0.8"/>
<line x1="56.99" y1="339.2" x2="56.99" y2="341.6" stroke="#222" stroke-width="0.8"/>
<line x1="61.81" y1="339.2" x2="61.81" y2="341.6" stroke="#222" stroke-width="0.8"/>
<line x1="66.62" y1="339.2" x2="66.62" y2="341.6" stroke="#222" stroke-width="0.8"/>
<line x1="71.43" y1="339.2" x2="71.43" y2="341.6" stroke="#222" stroke-width="0.8"/>
<line x1="76.25" y1="339.2" x2="76.25" y2="341.6" stroke="#222" stroke-width="0.8"/>
<line x1="81.06" y1="339.2" x2="81.06" y2="341.6" stroke="#222" stroke-width="0.8"/>
<line x1="85.88" y1="339.2" x2="85.88" y2="341.6" stroke="#222" stroke-width="0.8"/>
<line x1="90.69" y1="339.2" x2="90.69" y2="341.6" stroke="#222" stroke-width="0.8"/>
<line x1="95.5" y1="339.2" x2="95.5" y2="341.6" stroke="#222" stroke-width="0.8"/>
<line x1="100.32" y1="339.2" x2="100.32" y2="341.6" stroke="#222" stroke-width="0.8"/>
<line x1="105.13" y1="339.2" x2="105.13" y2="341.6" stroke="#222" stroke-width="0.8"/>
<line x1="109.94" y1="339.2" x2="109.94" y2="341.6" stroke="#222" stroke-width="0.8"/>
<line x1="114.76" y1="339.2" x2="114.76" y2="341.6" stroke="#222" stroke-width="0.8"/>
<line x1="119.57" y1="339.2" x2="119.57" y2="341.6" stroke="#222" stroke-width="0.8"/>
<line x1="124.38" y1="339.2" x2="124.38" y2="341.6" stroke="#222" stroke-width="0.8"/>
<line x1="129.2" y1="339.2" x2="129.2" y2="341.6" stroke="#222" stroke-width="0.8"/>
<line x1="134.01" y1="339.2" x2="134.01" y2="341.6" stroke="#222" stroke-width="0.8"/>
<line x1="138.82" y1="339.2" x2="138.82" y2="341.6" stroke="#222" stroke-width="0.8"/>
<line x1="143.64" y1="339.2" x2="143.64" y2="341.6" stroke="#222" stroke-width="0.8"/>
<line x1="148.45" y1="339.2" x2="148.45" y2="341.6" stroke="#222" stroke-width="0.8"/>
<line x1="153.26" y1="339.2" x2="153.26" y2="341.6" stroke="#222" stroke-width="0.8"/>
<line x1="158.08" y1="339.2" x2="158.08" y2="341.6" stroke="#222" stroke-width="0.8"/>
<line x1="162.89" y1="339.2" x2="162.89" y2="341.6" stroke="#222" stroke-width="0.8"/>
<line x1="167.7" y1="339.2" x2="167.7" y2="341.6" stroke="#222" stroke-width="0.8"/>
<line x1="172.52" y1="339.2" x2="172.52" y2="341.6" stroke="#222" stroke-width="0.8"/>
<line x1="177.33" y1="339.2" x2="177.33" y2="341.6" stroke="#222" stroke-width="0.8"/>
<line x1="182.14" y1="339.2" x2="182.14" y2="341.6" stroke="#222" stroke-width="0.8"/>
<line x1="186.96" y1="339.2" x2="186.96" y2="341.6" stroke="#222" stroke-width="0.8"/>
<line x1="191.77" y1="339.2" x2="191.77" y2="341.6" stroke="#222" stroke-width="0.8"/>
<line x1="196.58" y1="339.2" x2="196.58" y2="341.6" stroke="#222" stroke-width="0.8"/>
<line x1="201.4" y1="339.2" x2="201.4" y2="341.6" stroke="#222" stroke-width="0.8"/>
<line x1="206.21" y1="339.2" x2="206.21" y2="341.6" stroke="#222" stroke-width="0.8"/>
<line x1="211.03" y1="339.2" x2="211.03" y2="341.6" stroke="#222" stroke-width="0.8"/>
<line x1="215.84" y1="339.2" x2="215.84" y2="341.6" stroke="#222" stroke-width="0.8"/>
<line x1="220.65" y1="339.2" x2="220.65" y2="341.6" stroke="#222" stroke-width="0.8"/>
<line x1="225.47" y1="339.2" x2="225.47" y2="341.6" stroke="#222" stroke-width="0.8"/>
<line x1="230.28" y1="339.2" x2="230.28" y2="341.6" stroke="#222" stroke-width="0.8"/>
<line x1="235.09" y1="339.2" x2="235.09" y2="341.6" stroke="#222" stroke-width="0.8"/>
<line x1="239.91" y1="339.2" x2="239.91" y2="341.6" stroke="#222" stroke-width="0.8"/>
<line x1="244.72" y1="339.2" x2="244.72" y2="341.6" stroke="#222" stroke-width="0.8"/>
<line x1="249.53" y1="339.2" x2="249.53" y2="341.6" stroke="#222" stroke-width="0.8"/>
<line x1="254.35" y1="339.2" x2="254.35" y2="341.6" stroke="#222" stroke-width="0.8"/>
<line x1="259.16" y1="339.2" x2="259.16" y2="341.6" stroke="#222" stroke-width="0.8"/>
<line x1="263.97" y1="339.2" x2="263.97" y2="341.6" stroke="#222" stroke-width="0.8"/>
<line x1="268.79" y1="339.2" x2="268.79" y2="341.6" stroke="#222" stroke-width="0.8"/>
<line x1="273.6" y1="339.2" x2="273.6" y2="341.6" stroke="#222" stroke-width="0.8"/>
<g font-size="3.4" font-weight="bold" fill="#222" text-anchor="middle"><text x="22.4" y="345.9" transform="rotate(-45 22.4 344.7)">d0</text><text x="27.21" y="345.9" transform="rotate(-45 27.21 344.7)">d0</text><text x="32.03" y="345.9" transform="rotate(-45 32.03 344.7)">d0</text><text x="36.84" y="345.9" transform="rotate(-45 36.84 344.7)">d0</text><text x="41.65" y="345.9" transform="rotate(-45 41.65 344.7)">d0</text><text x="46.47" y="345.9" transform="rotate(-45 46.47 344.7)">d0</text><text x="51.28" y="345.9" transform="rotate(-45 51.28 344.7)">d0</text><text x="56.09" y="345.9" transform="rotate(-45 56.09 344.7)">d0</text><text x="60.91" y="345.9" transform="rotate(-45 60.91 344.7)">d0</text><text x="65.72" y="345.9" transform="rotate(-45 65.72 344.7)">d0</text><text x="70.53" y="345.9" transform="rotate(-45 70.53 344.7)">d0</text><text x="75.35" y="345.9" transform="rotate(-45 75.35 344.7)">d0</text><text x="80.16" y="345.9" transform="rotate(-45 80.16 344.7)">d0</text><text x="84.97" y="345.9" transform="rotate(-45 84.97 344.7)">d0</text><text x="89.79" y="345.9" transform="rotate(-45 89.79 344.7)">d0</text><text x="94.6" y="345.9" transform="rotate(-45 94.6 344.7)">d0</text><text x="99.42" y="345.9" transform="rotate(-45 99.42 344.7)">d0</text><text x="104.23" y="345.9" transform="rotate(-45 104.23 344.7)">d0</text><text x="109.04" y="345.9" transform="rotate(-45 109.04 344.7)">d0</text><text x="113.86" y="345.9" transform="rotate(-45 113.86 344.7)">7</text><text x="118.67" y="345.9" transform="rotate(-45 118.67 344.7)">7</text><text x="123.48" y="345.9" transform="rotate(-45 123.48 344.7)">7</text><text x="128.3" y="345.9" transform="rotate(-45 128.3 344.7)">7</text><text x="133.11" y="345.9" transform="rotate(-45 133.11 344.7)">7</text><text x="137.92" y="345.9" transform="rotate(-45 137.92 344.7)">7</text><text x="142.74" y="345.9" transform="rotate(-45 142.74 344.7)">7</text><text x="147.55" y="345.9" transform="rotate(-45 147.55 344.7)">7</text><text x="152.36" y="345.9" transform="rotate(-45 152.36 344.7)">7</text><text x="157.18" y="345.9" transform="rotate(-45 157.18 344.7)">7</text><text x="161.99" y="345.9" transform="rotate(-45 161.99 344.7)">7</text><text x="166.8" y="345.9" transform="rotate(-45 166.8 344.7)">7</text><text x="171.62" y="345.9" transform="rotate(-45 171.62 344.7)">7</text><text x="176.43" y="345.9" transform="rotate(-45 176.43 344.7)">7</text><text x="181.24" y="345.9" transform="rotate(-45 181.24 344.7)">7</text><text x="186.06" y="345.9" transform="rotate(-45 186.06 344.7)">7</text><text x="190.87" y="345.9" transform="rotate(-45 190.87 344.7)">7</text><text x="195.68" y="345.9" transform="rotate(-45 195.68 344.7)">d35</text><text x="200.5" y="345.9" transform="rotate(-45 200.5 344.7)">d35</text><text x="205.31" y="345.9" transform="rotate(-45 205.31 344.7)">d35</text><text x="210.13" y="345.9" transform="rotate(-45 210.13 344.7)">d35</text><text x="214.94" y="345.9" transform="rotate(-45 214.94 344.7)">d35</text><text x="219.75" y="345.9" transform="rotate(-45 219.75 344.7)">d35</text><text x="224.57" y="345.9" transform="rotate(-45 224.57 344.7)">d35</text><text x="229.38" y="345.9" transform="rotate(-45 229.38 344.7)">d35</text><text x="234.19" y="345.9" transform="rotate(-45 234.19 344.7)">d35</text><text x="239.01" y="345.9" transform="rotate(-45 239.01 344.7)">d35</text><text x="243.82" y="345.9" transform="rotate(-45 243.82 344.7)">d35</text><text x="248.63" y="345.9" transform="rotate(-45 248.63 344.7)">d35</text><text x="253.45" y="345.9" transform="rotate(-45 253.45 344.7)">d35</text><text x="258.26" y="345.9" transform="rotate(-45 258.26 344.7)">d35</text><text x="263.07" y="345.9" transform="rotate(-45 263.07 344.7)">d35</text><text x="267.89" y="345.9" transform="rotate(-45 267.89 344.7)">d35</text><text x="272.7" y="345.9" transform="rotate(-45 272.7 344.7)">d35</text></g>
<text x="152.8" y="354.8" font-size="8.2" text-anchor="middle" fill="#111" font-weight="bold">Day</text>
<rect x="226" y="284.3" width="5.2" height="2.3" fill="#2e8540"/>
<text x="234.2" y="287.05" font-size="4.7" fill="#222" textLength="18.6" lengthAdjust="spacingAndGlyphs">Collinsella</text>
<rect x="226" y="291.3" width="5.2" height="2.3" fill="#c98c55"/>
<text x="234.2" y="294.05" font-size="4.7" fill="#222" textLength="37.8" lengthAdjust="spacingAndGlyphs">Escherichia-Shigella</text>
<g fill="#2e8540"><rect x="113" y="319.14" width="1.0" height="20.06"/><rect x="114" y="331.19" width="1.0" height="8.01"/><rect x="115" y="330.52" width="1.0" height="8.68"/><rect x="116" y="307.68" width="1.0" height="31.52" fill-opacity="0.7"/><rect x="117" y="324.5" width="1.0" height="14.7"/><rect x="118" y="310.3" width="1.0" height="28.9"/><rect x="119" y="306.19" width="1.0" height="33.01" fill-opacity="0.51"/><rect x="120" y="326.58" width="1.0" height="12.62"/><rect x="121" y="323.43" width="1.0" height="15.77" fill-opacity="0.84"/><rect x="122" y="326.43" width="1.0" height="12.77"/><rect x="123" y="327" width="1.0" height="12.2"/><rect x="124" y="332.14" width="1.0" height="7.06" fill-opacity="0.75"/><rect x="125" y="326.24" width="1.0" height="12.96"/><rect x="126" y="312.61" width="1.0" height="26.59"/><rect x="127" y="334.5" width="1.0" height="4.7"/><rect x="128" y="310.36" width="1.0" height="28.84"/><rect x="129" y="322.37" width="1.0" height="16.83" fill-opacity="0.65"/><rect x="130" y="328.91" width="1.0" height="10.29"/><rect x="131" y="327.94" width="1.0" height="11.26"/><rect x="132" y="311.29" width="1.0" height="27.91"/><rect x="133" y="325.14" width="1.0" height="14.06"/><rect x="134" y="323.2" width="1.0" height="16"/><rect x="135" y="318.7" width="1.0" height="20.5"/><rect x="136" y="319.52" width="1.0" height="19.68"/><rect x="137" y="327.08" width="1.0" height="12.12" fill-opacity="0.67"/><rect x="138" y="321.95" width="1.0" height="17.25"/><rect x="139" y="319.18" width="1.0" height="20.02"/><rect x="140" y="316.78" width="1.0" height="22.42"/><rect x="141" y="311.02" width="1.0" height="28.18"/><rect x="142" y="319.91" width="1.0" height="19.29"/><rect x="143" y="326.33" width="1.0" height="12.87"/><rect x="144" y="320.26" width="1.0" height="18.94"/><rect x="145" y="333.62" width="1.0" height="5.58"/><rect x="146" y="320.67" width="1.0" height="18.53" fill-opacity="0.61"/><rect x="147" y="325.45" width="1.0" height="13.75" fill-opacity="0.7"/><rect x="148" y="330.2" width="1.0" height="9"/><rect x="149" y="322.89" width="1.0" height="16.31"/><rect x="150" y="309.49" width="1.0" height="29.71" fill-opacity="0.49"/><rect x="151" y="325.2" width="1.0" height="14"/><rect x="152" y="332.68" width="1.0" height="6.52"/><rect x="153" y="324" width="1.0" height="15.2"/><rect x="154" y="310.85" width="1.0" height="28.35" fill-opacity="0.7"/><rect x="155" y="328.48" width="1.0" height="10.72"/><rect x="156" y="307.49" width="1.0" height="31.71" fill-opacity="0.85"/><rect x="157" y="321.83" width="1.0" height="17.37"/><rect x="158" y="330.61" width="1.0" height="8.59"/><rect x="159" y="319.11" width="1.0" height="20.09"/><rect x="160" y="306.26" width="1.0" height="32.94"/><rect x="161" y="319.48" width="1.0" height="19.72"/><rect x="162" y="318.03" width="1.0" height="21.17"/><rect x="163" y="322.25" width="1.0" height="16.95"/><rect x="164" y="321.6" width="1.0" height="17.6"/><rect x="165" y="333.2" width="1.0" height="6"/><rect x="166" y="304.98" width="1.0" height="34.22"/><rect x="167" y="317.02" width="1.0" height="22.18"/><rect x="168" y="329.95" width="1.0" height="9.25"/><rect x="169" y="325.89" width="1.0" height="13.31"/><rect x="170" y="331.48" width="1.0" height="7.72"/><rect x="171" y="326.05" width="1.0" height="13.15"/><rect x="172" y="310.12" width="1.0" height="29.08"/><rect x="173" y="321.41" width="1.0" height="17.79"/><rect x="174" y="329.07" width="1.0" height="10.13"/><rect x="175" y="324.21" width="1.0" height="14.99"/><rect x="176" y="328.97" width="1.0" height="10.23"/><rect x="177" y="334.18" width="1.0" height="5.02"/><rect x="178" y="324.25" width="1.0" height="14.95"/><rect x="179" y="328.06" width="1.0" height="11.14"/><rect x="180" y="320.64" width="1.0" height="18.56"/><rect x="181" y="334.83" width="1.0" height="4.37"/><rect x="182" y="320.37" width="1.0" height="18.83" fill-opacity="0.51"/><rect x="183" y="317.75" width="1.0" height="21.45"/><rect x="184" y="331.05" width="1.0" height="8.15"/><rect x="185" y="319.83" width="1.0" height="19.37" fill-opacity="0.72"/><rect x="186" y="319.27" width="1.0" height="19.93" fill-opacity="0.54"/><rect x="187" y="312.32" width="1.0" height="26.88"/><rect x="188" y="324.97" width="1.0" height="14.23"/><rect x="189" y="316.79" width="1.0" height="22.41"/><rect x="190" y="330.48" width="1.0" height="8.72"/><rect x="191" y="321.67" width="1.0" height="17.53"/><rect x="192" y="332.99" width="1.0" height="6.21" fill-opacity="0.47"/><rect x="193" y="330.82" width="1.0" height="8.38" fill-opacity="0.58"/><rect x="194" y="309.61" width="1.0" height="29.59" fill-opacity="0.67"/><rect x="195" y="322.82" width="1.0" height="16.38"/><rect x="196" y="336.7" width="1.0" height="2.5"/><rect x="198" y="337.91" width="1.0" height="1.29"/><rect x="199" y="338.6" width="1.0" height="0.6" fill-opacity="0.62"/><rect x="203" y="336.75" width="1.0" height="2.45" fill-opacity="0.48"/><rect x="205" y="339.05" width="1.0" height="0.15"/><rect x="207" y="337.43" width="1.0" height="1.77"/><rect x="208" y="337.06" width="1.0" height="2.14"/><rect x="209" y="338.24" width="1.0" height="0.96"/><rect x="210" y="336.88" width="1.0" height="2.32"/><rect x="211" y="338.89" width="1.0" height="0.31"/><rect x="212" y="337.46" width="1.0" height="1.74"/><rect x="213" y="338.36" width="1.0" height="0.84"/><rect x="214" y="338.14" width="1.0" height="1.06"/><rect x="216" y="338.69" width="1.0" height="0.51"/><rect x="219" y="338.64" width="1.0" height="0.56"/><rect x="220" y="337.76" width="1.0" height="1.44"/><rect x="222" y="336.79" width="1.0" height="2.41"/><rect x="223" y="338.34" width="1.0" height="0.86"/><rect x="225" y="337.04" width="1.0" height="2.16"/><rect x="229" y="337.23" width="1.0" height="1.97"/><rect x="230" y="338.87" width="1.0" height="0.33"/><rect x="231" y="336.52" width="1.0" height="2.68"/><rect x="233" y="337.49" width="1.0" height="1.71"/><rect x="234" y="337.91" width="1.0" height="1.29"/><rect x="235" y="337.37" width="1.0" height="1.83"/><rect x="236" y="337.38" width="1.0" height="1.82"/><rect x="240" y="338.62" width="1.0" height="0.58" fill-opacity="0.7"/><rect x="243" y="338.89" width="1.0" height="0.31"/><rect x="245" y="338.84" width="1.0" height="0.36"/><rect x="246" y="336.29" width="1.0" height="2.91" fill-opacity="0.75"/><rect x="253" y="338.84" width="1.0" height="0.36" fill-opacity="0.76"/><rect x="254" y="338.95" width="1.0" height="0.25"/><rect x="255" y="338.98" width="1.0" height="0.22"/><rect x="256" y="338.92" width="1.0" height="0.28"/><rect x="257" y="338.8" width="1.0" height="0.4"/><rect x="264" y="338.82" width="1.0" height="0.38"/><rect x="265" y="338.37" width="1.0" height="0.83"/><rect x="269" y="339.09" width="1.0" height="0.11"/><rect x="65" y="338.52" width="1.0" height="0.68"/><rect x="70" y="337.74" width="1.0" height="1.46"/><rect x="75" y="338.99" width="1.0" height="0.21" fill-opacity="0.75"/><rect x="80" y="339.1" width="1.0" height="0.1"/><rect x="85" y="337.77" width="1.0" height="1.43"/><rect x="86" y="338.56" width="1.0" height="0.64"/><rect x="87" y="338.99" width="1.0" height="0.21"/><rect x="89" y="338.8" width="1.0" height="0.4"/><rect x="92" y="339.04" width="1.0" height="0.16"/><rect x="95" y="339.04" width="1.0" height="0.16"/><rect x="100" y="338.74" width="1.0" height="0.46"/><rect x="102" y="338.57" width="1.0" height="0.63"/><rect x="103" y="339.04" width="1.0" height="0.16"/><rect x="105" y="338.39" width="1.0" height="0.81" fill-opacity="0.84"/><rect x="218.7" y="334.16" width="1.0" height="5.04"/><rect x="244.6" y="333.16" width="1.0" height="6.04"/><rect x="113.4" y="304.96" width="1.0" height="34.24"/><rect x="195" y="304.96" width="1.0" height="34.24"/><rect x="194" y="308.99" width="1.0" height="30.21"/><rect x="174.5" y="319.06" width="1.0" height="20.14"/><rect x="183" y="324.09" width="1.0" height="15.11"/><rect x="188" y="329.13" width="1.0" height="10.07"/></g>
<g fill="#c98c55"><rect x="113" y="324.53" width="1.0" height="14.67"/><rect x="114" y="326.75" width="1.0" height="12.45" fill-opacity="0.64"/><rect x="115" y="337.61" width="1.0" height="1.59"/><rect x="116" y="332.87" width="1.0" height="6.33" fill-opacity="0.45"/><rect x="117" y="331.75" width="1.0" height="7.45"/><rect x="118" y="330.1" width="1.0" height="9.1"/><rect x="119" y="335.51" width="1.0" height="3.69" fill-opacity="0.57"/><rect x="120" y="329.1" width="1.0" height="10.1"/><rect x="121" y="333.43" width="1.0" height="5.77" fill-opacity="0.75"/><rect x="122" y="328.88" width="1.0" height="10.32" fill-opacity="0.47"/><rect x="123" y="333.12" width="1.0" height="6.08"/><rect x="124" y="333" width="1.0" height="6.2"/><rect x="125" y="330.96" width="1.0" height="8.24"/><rect x="126" y="327.53" width="1.0" height="11.67"/><rect x="127" y="333.53" width="1.0" height="5.67" fill-opacity="0.47"/><rect x="128" y="336.26" width="1.0" height="2.94"/><rect x="129" y="332.15" width="1.0" height="7.05"/><rect x="130" y="326.89" width="1.0" height="12.31" fill-opacity="0.62"/><rect x="131" y="334.95" width="1.0" height="4.25"/><rect x="132" y="333.28" width="1.0" height="5.92"/><rect x="133" y="331.72" width="1.0" height="7.48"/><rect x="134" y="336.04" width="1.0" height="3.16"/><rect x="135" y="326.4" width="1.0" height="12.8"/><rect x="136" y="334.75" width="1.0" height="4.45"/><rect x="137" y="327.26" width="1.0" height="11.94"/><rect x="138" y="326.76" width="1.0" height="12.44"/><rect x="139" y="329" width="1.0" height="10.2"/><rect x="140" y="317.57" width="1.0" height="21.63" fill-opacity="0.78"/><rect x="141" y="325.91" width="1.0" height="13.29" fill-opacity="0.76"/><rect x="142" y="326.88" width="1.0" height="12.32"/><rect x="143" y="335.41" width="1.0" height="3.79"/><rect x="144" y="335.29" width="1.0" height="3.91" fill-opacity="0.5"/><rect x="145" y="337.04" width="1.0" height="2.16"/><rect x="146" y="333.55" width="1.0" height="5.65"/><rect x="147" y="329.39" width="1.0" height="9.81" fill-opacity="0.67"/><rect x="148" y="315.67" width="1.0" height="23.53"/><rect x="149" y="334.79" width="1.0" height="4.41"/><rect x="150" y="324.16" width="1.0" height="15.04"/><rect x="151" y="324.18" width="1.0" height="15.02"/><rect x="152" y="319.65" width="1.0" height="19.55"/><rect x="153" y="318.59" width="1.0" height="20.61"/><rect x="154" y="335.26" width="1.0" height="3.94"/><rect x="155" y="333.03" width="1.0" height="6.17"/><rect x="156" y="336.11" width="1.0" height="3.09"/><rect x="157" y="327.08" width="1.0" height="12.12" fill-opacity="0.75"/><rect x="158" y="330.17" width="1.0" height="9.03"/><rect x="159" y="332.79" width="1.0" height="6.41"/><rect x="160" y="333.01" width="1.0" height="6.19"/><rect x="161" y="328.31" width="1.0" height="10.89"/><rect x="162" y="335.99" width="1.0" height="3.21" fill-opacity="0.78"/><rect x="163" y="334.04" width="1.0" height="5.16" fill-opacity="0.64"/><rect x="164" y="331.61" width="1.0" height="7.59"/><rect x="165" y="325.19" width="1.0" height="14.01" fill-opacity="0.74"/><rect x="166" y="332.67" width="1.0" height="6.53"/><rect x="167" y="331.8" width="1.0" height="7.4"/><rect x="168" y="331.53" width="1.0" height="7.67" fill-opacity="0.49"/><rect x="169" y="334.87" width="1.0" height="4.33"/><rect x="170" y="327.11" width="1.0" height="12.09"/><rect x="171" y="331.64" width="1.0" height="7.56"/><rect x="172" y="330.51" width="1.0" height="8.69"/><rect x="173" y="336.24" width="1.0" height="2.96"/><rect x="174" y="332.3" width="1.0" height="6.9" fill-opacity="0.5"/><rect x="175" y="328.32" width="1.0" height="10.88"/><rect x="176" y="336.58" width="1.0" height="2.62"/><rect x="177" y="317.06" width="1.0" height="22.14" fill-opacity="0.7"/><rect x="178" y="326.98" width="1.0" height="12.22"/><rect x="179" y="325.06" width="1.0" height="14.14"/><rect x="180" y="325.7" width="1.0" height="13.5" fill-opacity="0.46"/><rect x="181" y="318.73" width="1.0" height="20.47" fill-opacity="0.64"/><rect x="182" y="328.47" width="1.0" height="10.73" fill-opacity="0.6"/><rect x="183" y="336.16" width="1.0" height="3.04" fill-opacity="0.56"/><rect x="184" y="333.46" width="1.0" height="5.74"/><rect x="185" y="323.64" width="1.0" height="15.56"/><rect x="186" y="336.38" width="1.0" height="2.82" fill-opacity="0.61"/><rect x="187" y="328.44" width="1.0" height="10.76"/><rect x="188" y="334.48" width="1.0" height="4.72"/><rect x="189" y="336.94" width="1.0" height="2.26"/><rect x="190" y="318.38" width="1.0" height="20.82" fill-opacity="0.48"/><rect x="191" y="322.6" width="1.0" height="16.6" fill-opacity="0.61"/><rect x="192" y="330.08" width="1.0" height="9.12"/><rect x="193" y="327.81" width="1.0" height="11.39" fill-opacity="0.67"/><rect x="194" y="331" width="1.0" height="8.2"/><rect x="195" y="325.85" width="1.0" height="13.35"/><rect x="199" y="338.92" width="1.0" height="0.28"/><rect x="205" y="338.93" width="1.0" height="0.27"/><rect x="206" y="338.88" width="1.0" height="0.32"/><rect x="213" y="338.78" width="1.0" height="0.42"/><rect x="214" y="338.46" width="1.0" height="0.74"/><rect x="216" y="338.66" width="1.0" height="0.54"/><rect x="225" y="338.63" width="1.0" height="0.57"/><rect x="227" y="338.81" width="1.0" height="0.39"/><rect x="231" y="338.97" width="1.0" height="0.23"/><rect x="232" y="338.72" width="1.0" height="0.48"/><rect x="236" y="339.06" width="1.0" height="0.14"/><rect x="239" y="338.67" width="1.0" height="0.53"/><rect x="243" y="339.04" width="1.0" height="0.16"/><rect x="247" y="338.84" width="1.0" height="0.36"/><rect x="261" y="338.61" width="1.0" height="0.59"/><rect x="262" y="338.88" width="1.0" height="0.32"/><rect x="271" y="338.79" width="1.0" height="0.41" fill-opacity="0.64"/><rect x="272" y="338.62" width="1.0" height="0.58"/><rect x="274" y="338.98" width="1.0" height="0.22"/><rect x="58.2" y="320.57" width="1.0" height="18.63"/><rect x="105.1" y="336.93" width="1.0" height="2.27"/><rect x="113.4" y="334.16" width="1.0" height="5.04"/><rect x="195" y="311" width="1.0" height="28.2"/><rect x="194" y="324.09" width="1.0" height="15.11"/><rect x="174.5" y="305.97" width="1.0" height="33.23"/><rect x="183" y="311.51" width="1.0" height="27.69"/><rect x="188" y="315.03" width="1.0" height="24.17"/></g>
<text x="2.6" y="385.6" font-size="10.4" text-anchor="start" fill="#111" font-weight="bold">e</text>
<line x1="23.3" y1="385.05" x2="23.3" y2="435.8" stroke="#555" stroke-width="0.8"/>
<line x1="20.5" y1="435.4" x2="23.3" y2="435.4" stroke="#444" stroke-width="0.6"/>
<text x="20.2" y="436.75" font-size="3.9" text-anchor="end" fill="#333" font-weight="bold">0.0</text>
<line x1="20.5" y1="425.33" x2="23.3" y2="425.33" stroke="#444" stroke-width="0.6"/>
<text x="20.2" y="426.68" font-size="3.9" text-anchor="end" fill="#333" font-weight="bold">0.2</text>
<line x1="20.5" y1="415.26" x2="23.3" y2="415.26" stroke="#444" stroke-width="0.6"/>
<text x="20.2" y="416.61" font-size="3.9" text-anchor="end" fill="#333" font-weight="bold">0.4</text>
<line x1="20.5" y1="405.19" x2="23.3" y2="405.19" stroke="#444" stroke-width="0.6"/>
<text x="20.2" y="406.54" font-size="3.9" text-anchor="end" fill="#333" font-weight="bold">0.6</text>
<line x1="20.5" y1="395.12" x2="23.3" y2="395.12" stroke="#444" stroke-width="0.6"/>
<text x="20.2" y="396.47" font-size="3.9" text-anchor="end" fill="#333" font-weight="bold">0.8</text>
<line x1="20.5" y1="385.05" x2="23.3" y2="385.05" stroke="#444" stroke-width="0.6"/>
<text x="20.2" y="386.4" font-size="3.9" text-anchor="end" fill="#333" font-weight="bold">1.0</text>
<text x="12.9" y="409.72" font-size="4.6" fill="#000" text-anchor="middle" transform="rotate(-90 12.9 409.72)" textLength="36.5" lengthAdjust="spacingAndGlyphs">relative abundance</text>
<line x1="22.9" y1="435.4" x2="275" y2="435.4" stroke="#222" stroke-width="0.85"/>
<line x1="23.3" y1="435.4" x2="23.3" y2="437.8" stroke="#222" stroke-width="0.8"/>
<line x1="28.25" y1="435.4" x2="28.25" y2="437.8" stroke="#222" stroke-width="0.8"/>
<line x1="33.19" y1="435.4" x2="33.19" y2="437.8" stroke="#222" stroke-width="0.8"/>
<line x1="38.14" y1="435.4" x2="38.14" y2="437.8" stroke="#222" stroke-width="0.8"/>
<line x1="43.08" y1="435.4" x2="43.08" y2="437.8" stroke="#222" stroke-width="0.8"/>
<line x1="48.03" y1="435.4" x2="48.03" y2="437.8" stroke="#222" stroke-width="0.8"/>
<line x1="52.98" y1="435.4" x2="52.98" y2="437.8" stroke="#222" stroke-width="0.8"/>
<line x1="57.92" y1="435.4" x2="57.92" y2="437.8" stroke="#222" stroke-width="0.8"/>
<line x1="62.87" y1="435.4" x2="62.87" y2="437.8" stroke="#222" stroke-width="0.8"/>
<line x1="67.81" y1="435.4" x2="67.81" y2="437.8" stroke="#222" stroke-width="0.8"/>
<line x1="72.76" y1="435.4" x2="72.76" y2="437.8" stroke="#222" stroke-width="0.8"/>
<line x1="77.71" y1="435.4" x2="77.71" y2="437.8" stroke="#222" stroke-width="0.8"/>
<line x1="82.65" y1="435.4" x2="82.65" y2="437.8" stroke="#222" stroke-width="0.8"/>
<line x1="87.6" y1="435.4" x2="87.6" y2="437.8" stroke="#222" stroke-width="0.8"/>
<line x1="92.54" y1="435.4" x2="92.54" y2="437.8" stroke="#222" stroke-width="0.8"/>
<line x1="97.49" y1="435.4" x2="97.49" y2="437.8" stroke="#222" stroke-width="0.8"/>
<line x1="102.44" y1="435.4" x2="102.44" y2="437.8" stroke="#222" stroke-width="0.8"/>
<line x1="107.38" y1="435.4" x2="107.38" y2="437.8" stroke="#222" stroke-width="0.8"/>
<line x1="112.33" y1="435.4" x2="112.33" y2="437.8" stroke="#222" stroke-width="0.8"/>
<line x1="117.27" y1="435.4" x2="117.27" y2="437.8" stroke="#222" stroke-width="0.8"/>
<line x1="122.22" y1="435.4" x2="122.22" y2="437.8" stroke="#222" stroke-width="0.8"/>
<line x1="127.17" y1="435.4" x2="127.17" y2="437.8" stroke="#222" stroke-width="0.8"/>
<line x1="132.11" y1="435.4" x2="132.11" y2="437.8" stroke="#222" stroke-width="0.8"/>
<line x1="137.06" y1="435.4" x2="137.06" y2="437.8" stroke="#222" stroke-width="0.8"/>
<line x1="142" y1="435.4" x2="142" y2="437.8" stroke="#222" stroke-width="0.8"/>
<line x1="146.95" y1="435.4" x2="146.95" y2="437.8" stroke="#222" stroke-width="0.8"/>
<line x1="151.9" y1="435.4" x2="151.9" y2="437.8" stroke="#222" stroke-width="0.8"/>
<line x1="156.84" y1="435.4" x2="156.84" y2="437.8" stroke="#222" stroke-width="0.8"/>
<line x1="161.79" y1="435.4" x2="161.79" y2="437.8" stroke="#222" stroke-width="0.8"/>
<line x1="166.73" y1="435.4" x2="166.73" y2="437.8" stroke="#222" stroke-width="0.8"/>
<line x1="171.68" y1="435.4" x2="171.68" y2="437.8" stroke="#222" stroke-width="0.8"/>
<line x1="176.63" y1="435.4" x2="176.63" y2="437.8" stroke="#222" stroke-width="0.8"/>
<line x1="181.57" y1="435.4" x2="181.57" y2="437.8" stroke="#222" stroke-width="0.8"/>
<line x1="186.52" y1="435.4" x2="186.52" y2="437.8" stroke="#222" stroke-width="0.8"/>
<line x1="191.46" y1="435.4" x2="191.46" y2="437.8" stroke="#222" stroke-width="0.8"/>
<line x1="196.41" y1="435.4" x2="196.41" y2="437.8" stroke="#222" stroke-width="0.8"/>
<line x1="201.36" y1="435.4" x2="201.36" y2="437.8" stroke="#222" stroke-width="0.8"/>
<line x1="206.3" y1="435.4" x2="206.3" y2="437.8" stroke="#222" stroke-width="0.8"/>
<line x1="211.25" y1="435.4" x2="211.25" y2="437.8" stroke="#222" stroke-width="0.8"/>
<line x1="216.19" y1="435.4" x2="216.19" y2="437.8" stroke="#222" stroke-width="0.8"/>
<line x1="221.14" y1="435.4" x2="221.14" y2="437.8" stroke="#222" stroke-width="0.8"/>
<line x1="226.09" y1="435.4" x2="226.09" y2="437.8" stroke="#222" stroke-width="0.8"/>
<line x1="231.03" y1="435.4" x2="231.03" y2="437.8" stroke="#222" stroke-width="0.8"/>
<line x1="235.98" y1="435.4" x2="235.98" y2="437.8" stroke="#222" stroke-width="0.8"/>
<line x1="240.92" y1="435.4" x2="240.92" y2="437.8" stroke="#222" stroke-width="0.8"/>
<line x1="245.87" y1="435.4" x2="245.87" y2="437.8" stroke="#222" stroke-width="0.8"/>
<line x1="250.82" y1="435.4" x2="250.82" y2="437.8" stroke="#222" stroke-width="0.8"/>
<line x1="255.76" y1="435.4" x2="255.76" y2="437.8" stroke="#222" stroke-width="0.8"/>
<line x1="260.71" y1="435.4" x2="260.71" y2="437.8" stroke="#222" stroke-width="0.8"/>
<line x1="265.65" y1="435.4" x2="265.65" y2="437.8" stroke="#222" stroke-width="0.8"/>
<line x1="270.6" y1="435.4" x2="270.6" y2="437.8" stroke="#222" stroke-width="0.8"/>
<g font-size="3.4" font-weight="bold" fill="#222" text-anchor="middle"><text x="22.4" y="442.1" transform="rotate(-45 22.4 440.9)">d0</text><text x="27.35" y="442.1" transform="rotate(-45 27.35 440.9)">d0</text><text x="32.29" y="442.1" transform="rotate(-45 32.29 440.9)">d0</text><text x="37.24" y="442.1" transform="rotate(-45 37.24 440.9)">d0</text><text x="42.18" y="442.1" transform="rotate(-45 42.18 440.9)">d0</text><text x="47.13" y="442.1" transform="rotate(-45 47.13 440.9)">d0</text><text x="52.08" y="442.1" transform="rotate(-45 52.08 440.9)">d0</text><text x="57.02" y="442.1" transform="rotate(-45 57.02 440.9)">d0</text><text x="61.97" y="442.1" transform="rotate(-45 61.97 440.9)">d0</text><text x="66.91" y="442.1" transform="rotate(-45 66.91 440.9)">d0</text><text x="71.86" y="442.1" transform="rotate(-45 71.86 440.9)">d0</text><text x="76.81" y="442.1" transform="rotate(-45 76.81 440.9)">d0</text><text x="81.75" y="442.1" transform="rotate(-45 81.75 440.9)">d0</text><text x="86.7" y="442.1" transform="rotate(-45 86.7 440.9)">d0</text><text x="91.64" y="442.1" transform="rotate(-45 91.64 440.9)">d0</text><text x="96.59" y="442.1" transform="rotate(-45 96.59 440.9)">d0</text><text x="101.54" y="442.1" transform="rotate(-45 101.54 440.9)">d0</text><text x="106.48" y="442.1" transform="rotate(-45 106.48 440.9)">d0</text><text x="111.43" y="442.1" transform="rotate(-45 111.43 440.9)">d0</text><text x="116.37" y="442.1" transform="rotate(-45 116.37 440.9)">7</text><text x="121.32" y="442.1" transform="rotate(-45 121.32 440.9)">7</text><text x="126.27" y="442.1" transform="rotate(-45 126.27 440.9)">7</text><text x="131.21" y="442.1" transform="rotate(-45 131.21 440.9)">7</text><text x="136.16" y="442.1" transform="rotate(-45 136.16 440.9)">7</text><text x="141.1" y="442.1" transform="rotate(-45 141.1 440.9)">7</text><text x="146.05" y="442.1" transform="rotate(-45 146.05 440.9)">7</text><text x="151" y="442.1" transform="rotate(-45 151 440.9)">7</text><text x="155.94" y="442.1" transform="rotate(-45 155.94 440.9)">7</text><text x="160.89" y="442.1" transform="rotate(-45 160.89 440.9)">7</text><text x="165.83" y="442.1" transform="rotate(-45 165.83 440.9)">7</text><text x="170.78" y="442.1" transform="rotate(-45 170.78 440.9)">7</text><text x="175.73" y="442.1" transform="rotate(-45 175.73 440.9)">7</text><text x="180.67" y="442.1" transform="rotate(-45 180.67 440.9)">7</text><text x="185.62" y="442.1" transform="rotate(-45 185.62 440.9)">7</text><text x="190.56" y="442.1" transform="rotate(-45 190.56 440.9)">7</text><text x="195.51" y="442.1" transform="rotate(-45 195.51 440.9)">d35</text><text x="200.46" y="442.1" transform="rotate(-45 200.46 440.9)">d35</text><text x="205.4" y="442.1" transform="rotate(-45 205.4 440.9)">d35</text><text x="210.35" y="442.1" transform="rotate(-45 210.35 440.9)">d35</text><text x="215.29" y="442.1" transform="rotate(-45 215.29 440.9)">d35</text><text x="220.24" y="442.1" transform="rotate(-45 220.24 440.9)">d35</text><text x="225.19" y="442.1" transform="rotate(-45 225.19 440.9)">d35</text><text x="230.13" y="442.1" transform="rotate(-45 230.13 440.9)">d35</text><text x="235.08" y="442.1" transform="rotate(-45 235.08 440.9)">d35</text><text x="240.02" y="442.1" transform="rotate(-45 240.02 440.9)">d35</text><text x="244.97" y="442.1" transform="rotate(-45 244.97 440.9)">d35</text><text x="249.92" y="442.1" transform="rotate(-45 249.92 440.9)">d35</text><text x="254.86" y="442.1" transform="rotate(-45 254.86 440.9)">d35</text><text x="259.81" y="442.1" transform="rotate(-45 259.81 440.9)">d35</text><text x="264.75" y="442.1" transform="rotate(-45 264.75 440.9)">d35</text><text x="269.7" y="442.1" transform="rotate(-45 269.7 440.9)">d35</text></g>
<text x="152.8" y="451" font-size="8.2" text-anchor="middle" fill="#111" font-weight="bold">Day</text>
<rect x="226" y="380.5" width="5.2" height="2.3" fill="#7aaee2"/>
<text x="234.2" y="383.25" font-size="4.7" fill="#222" textLength="28.6" lengthAdjust="spacingAndGlyphs">Bifidobacterium</text>
<rect x="226" y="387.5" width="5.2" height="2.3" fill="#f0642c"/>
<text x="234.2" y="390.25" font-size="4.7" fill="#222" textLength="23.8" lengthAdjust="spacingAndGlyphs">Lactobacillus</text>
<g fill="#7aaee2"><rect x="68" y="413.82" width="1.0" height="21.58"/><rect x="69" y="425.05" width="1.0" height="10.35"/><rect x="70" y="421.57" width="1.0" height="13.83"/><rect x="71" y="423.79" width="1.0" height="11.61"/><rect x="73" y="430.88" width="1.0" height="4.52" fill-opacity="0.7"/><rect x="74" y="432.62" width="1.0" height="2.78"/><rect x="75" y="423.17" width="1.0" height="12.23"/><rect x="76" y="412.88" width="1.0" height="22.52"/><rect x="77" y="407.96" width="1.0" height="27.44" fill-opacity="0.71"/><rect x="78" y="411.18" width="1.0" height="24.22"/><rect x="79" y="409.09" width="1.0" height="26.31"/><rect x="80" y="410.19" width="1.0" height="25.21"/><rect x="81" y="405.34" width="1.0" height="30.06"/><rect x="82" y="406.92" width="1.0" height="28.48"/><rect x="84" y="432.36" width="1.0" height="3.04"/><rect x="85" y="413.67" width="1.0" height="21.73"/><rect x="87" y="428.43" width="1.0" height="6.97"/><rect x="88" y="417.96" width="1.0" height="17.44"/><rect x="90" y="413.87" width="1.0" height="21.53"/><rect x="92" y="416.76" width="1.0" height="18.64"/><rect x="94" y="426.48" width="1.0" height="8.92"/><rect x="97" y="426.34" width="1.0" height="9.06"/><rect x="101" y="432.17" width="1.0" height="3.23"/><rect x="103" y="431.51" width="1.0" height="3.89"/><rect x="104" y="434.35" width="1.0" height="1.05"/><rect x="113" y="416.21" width="1.0" height="19.19"/><rect x="114" y="403.93" width="1.0" height="31.47"/><rect x="115" y="426.83" width="1.0" height="8.57"/><rect x="116" y="412.84" width="1.0" height="22.56"/><rect x="117" y="419.22" width="1.0" height="16.18"/><rect x="118" y="394.83" width="1.0" height="40.57" fill-opacity="0.59"/><rect x="119" y="403.22" width="1.0" height="32.18"/><rect x="120" y="403.11" width="1.0" height="32.29"/><rect x="121" y="405.63" width="1.0" height="29.77" fill-opacity="0.46"/><rect x="122" y="412.29" width="1.0" height="23.11" fill-opacity="0.51"/><rect x="123" y="408.54" width="1.0" height="26.86"/><rect x="124" y="400.53" width="1.0" height="34.87"/><rect x="125" y="411.8" width="1.0" height="23.6"/><rect x="126" y="420.56" width="1.0" height="14.84" fill-opacity="0.7"/><rect x="127" y="420.05" width="1.0" height="15.35" fill-opacity="0.66"/><rect x="128" y="399.77" width="1.0" height="35.63"/><rect x="129" y="417.15" width="1.0" height="18.25"/><rect x="130" y="414.6" width="1.0" height="20.8"/><rect x="131" y="419.47" width="1.0" height="15.93"/><rect x="132" y="410.47" width="1.0" height="24.93" fill-opacity="0.73"/><rect x="133" y="401.84" width="1.0" height="33.56"/><rect x="134" y="404.49" width="1.0" height="30.91"/><rect x="135" y="412.24" width="1.0" height="23.16"/><rect x="136" y="421.2" width="1.0" height="14.2"/><rect x="137" y="419.15" width="1.0" height="16.25"/><rect x="138" y="408.94" width="1.0" height="26.46"/><rect x="139" y="388.95" width="1.0" height="46.45"/><rect x="140" y="420.16" width="1.0" height="15.24"/><rect x="141" y="415.47" width="1.0" height="19.93" fill-opacity="0.8"/><rect x="142" y="417.76" width="1.0" height="17.64"/><rect x="143" y="411.93" width="1.0" height="23.47"/><rect x="144" y="406.67" width="1.0" height="28.73"/><rect x="145" y="418.73" width="1.0" height="16.67"/><rect x="146" y="410.9" width="1.0" height="24.5"/><rect x="147" y="394.53" width="1.0" height="40.87" fill-opacity="0.73"/><rect x="148" y="406.81" width="1.0" height="28.59" fill-opacity="0.8"/><rect x="149" y="411.16" width="1.0" height="24.24"/><rect x="150" y="403.02" width="1.0" height="32.38"/><rect x="151" y="398.08" width="1.0" height="37.32"/><rect x="152" y="406.05" width="1.0" height="29.35"/><rect x="153" y="419.55" width="1.0" height="15.85"/><rect x="154" y="422.01" width="1.0" height="13.39"/><rect x="155" y="417.49" width="1.0" height="17.91" fill-opacity="0.75"/><rect x="156" y="413.74" width="1.0" height="21.66"/><rect x="157" y="410.82" width="1.0" height="24.58" fill-opacity="0.55"/><rect x="158" y="402.88" width="1.0" height="32.52" fill-opacity="0.69"/><rect x="159" y="406.05" width="1.0" height="29.35"/><rect x="160" y="397.62" width="1.0" height="37.78" fill-opacity="0.6"/><rect x="161" y="416.41" width="1.0" height="18.99"/><rect x="162" y="410.03" width="1.0" height="25.37"/><rect x="163" y="400.95" width="1.0" height="34.45"/><rect x="164" y="419.03" width="1.0" height="16.37"/><rect x="165" y="411.86" width="1.0" height="23.54" fill-opacity="0.71"/><rect x="166" y="413.81" width="1.0" height="21.59"/><rect x="167" y="421.93" width="1.0" height="13.47"/><rect x="168" y="398.77" width="1.0" height="36.63" fill-opacity="0.54"/><rect x="169" y="420.19" width="1.0" height="15.21"/><rect x="170" y="422.35" width="1.0" height="13.05"/><rect x="171" y="412.61" width="1.0" height="22.79" fill-opacity="0.81"/><rect x="172" y="419.64" width="1.0" height="15.76" fill-opacity="0.68"/><rect x="173" y="410.61" width="1.0" height="24.79"/><rect x="174" y="405.27" width="1.0" height="30.13"/><rect x="175" y="394.68" width="1.0" height="40.72"/><rect x="176" y="414.15" width="1.0" height="21.25" fill-opacity="0.51"/><rect x="177" y="410.9" width="1.0" height="24.5"/><rect x="178" y="416.83" width="1.0" height="18.57"/><rect x="179" y="412.4" width="1.0" height="23"/><rect x="180" y="409.32" width="1.0" height="26.08" fill-opacity="0.78"/><rect x="181" y="400.99" width="1.0" height="34.41"/><rect x="182" y="399.6" width="1.0" height="35.8"/><rect x="183" y="417.61" width="1.0" height="17.79" fill-opacity="0.47"/><rect x="184" y="419.11" width="1.0" height="16.29"/><rect x="185" y="393.29" width="1.0" height="42.11"/><rect x="186" y="427.48" width="1.0" height="7.92" fill-opacity="0.81"/><rect x="187" y="418.45" width="1.0" height="16.95"/><rect x="188" y="419.96" width="1.0" height="15.44" fill-opacity="0.75"/><rect x="189" y="410.52" width="1.0" height="24.88"/><rect x="190" y="403.5" width="1.0" height="31.9" fill-opacity="0.6"/><rect x="191" y="409.14" width="1.0" height="26.26"/><rect x="192" y="397.48" width="1.0" height="37.92"/><rect x="193" y="425.66" width="1.0" height="9.74"/><rect x="194" y="411.38" width="1.0" height="24.02"/><rect x="195" y="419.25" width="1.0" height="16.15"/><rect x="196" y="418.51" width="1.0" height="16.89"/><rect x="197" y="410.19" width="1.0" height="25.21"/><rect x="198" y="418.14" width="1.0" height="17.26" fill-opacity="0.79"/><rect x="199" y="406.9" width="1.0" height="28.5"/><rect x="200" y="398.34" width="1.0" height="37.06"/><rect x="201" y="391.4" width="1.0" height="44" fill-opacity="0.8"/><rect x="202" y="409.07" width="1.0" height="26.33" fill-opacity="0.54"/><rect x="203" y="412.39" width="1.0" height="23.01"/><rect x="204" y="402.92" width="1.0" height="32.48" fill-opacity="0.66"/><rect x="205" y="404.96" width="1.0" height="30.44" fill-opacity="0.66"/><rect x="206" y="405.57" width="1.0" height="29.83" fill-opacity="0.47"/><rect x="207" y="410.87" width="1.0" height="24.53"/><rect x="208" y="404.19" width="1.0" height="31.21"/><rect x="209" y="410" width="1.0" height="25.4" fill-opacity="0.53"/><rect x="210" y="408.98" width="1.0" height="26.42" fill-opacity="0.46"/><rect x="211" y="409.09" width="1.0" height="26.31"/><rect x="212" y="412.54" width="1.0" height="22.86"/><rect x="219" y="427.13" width="1.0" height="8.27"/><rect x="220" y="432.44" width="1.0" height="2.96"/><rect x="222" y="425.68" width="1.0" height="9.72" fill-opacity="0.73"/><rect x="227" y="428" width="1.0" height="7.4"/><rect x="229" y="425.57" width="1.0" height="9.83"/><rect x="233" y="428.48" width="1.0" height="6.92" fill-opacity="0.48"/><rect x="234" y="426.16" width="1.0" height="9.24" fill-opacity="0.6"/><rect x="238" y="425.96" width="1.0" height="9.44"/><rect x="243" y="428.17" width="1.0" height="7.23"/><rect x="248" y="426.63" width="1.0" height="8.77"/><rect x="249" y="432.63" width="1.0" height="2.77"/><rect x="216.6" y="422.81" width="1.0" height="12.59"/><rect x="219.3" y="420.29" width="1.0" height="15.11"/><rect x="223.6" y="416.27" width="1.0" height="19.13"/><rect x="233" y="418.78" width="1.0" height="16.62"/><rect x="238.8" y="421.81" width="1.0" height="13.59"/><rect x="240.5" y="410.22" width="1.0" height="25.18"/><rect x="241.7" y="395.62" width="1.0" height="39.78"/><rect x="243" y="405.19" width="1.0" height="30.21"/><rect x="244.6" y="401.16" width="1.0" height="34.24"/><rect x="246.4" y="430.36" width="1.0" height="5.04"/><rect x="39.2" y="430.36" width="1.0" height="5.04"/><rect x="252.1" y="405.19" width="1.0" height="30.21"/><rect x="254.3" y="416.77" width="1.0" height="18.63"/><rect x="80.4" y="401.67" width="1.0" height="33.73"/><rect x="200.3" y="388.57" width="1.0" height="46.83"/><rect x="202.6" y="387.06" width="1.0" height="48.34"/><rect x="196.2" y="397.64" width="1.0" height="37.76"/></g>
<g fill="#f0642c"><rect x="23.4" y="434.08" width="1.0" height="1.32" fill-opacity="0.65"/><rect x="25.4" y="434.06" width="1.0" height="1.34"/><rect x="28.4" y="432.77" width="1.0" height="2.63"/><rect x="30.4" y="434.41" width="1.0" height="0.99"/><rect x="33.4" y="433.3" width="1.0" height="2.1"/><rect x="35.4" y="432.15" width="1.0" height="3.25"/><rect x="36.4" y="435.07" width="1.0" height="0.33" fill-opacity="0.69"/><rect x="38.4" y="434.45" width="1.0" height="0.95"/><rect x="39.4" y="432.91" width="1.0" height="2.49"/><rect x="40.4" y="435.25" width="1.0" height="0.15"/><rect x="41.4" y="432.67" width="1.0" height="2.73"/><rect x="42.4" y="433.81" width="1.0" height="1.59"/><rect x="44.4" y="434.65" width="1.0" height="0.75"/><rect x="45.4" y="433.18" width="1.0" height="2.22" fill-opacity="0.76"/><rect x="47.4" y="432.8" width="1.0" height="2.6"/><rect x="66" y="433.15" width="1.0" height="2.25"/><rect x="67" y="430.3" width="1.0" height="5.1" fill-opacity="0.84"/><rect x="70" y="434.88" width="1.0" height="0.52"/><rect x="72" y="431.08" width="1.0" height="4.32"/><rect x="73" y="432.2" width="1.0" height="3.2" fill-opacity="0.76"/><rect x="74" y="432.64" width="1.0" height="2.76"/><rect x="83" y="435.01" width="1.0" height="0.39"/><rect x="86" y="433.29" width="1.0" height="2.11"/><rect x="87" y="434.67" width="1.0" height="0.73"/><rect x="89" y="433.85" width="1.0" height="1.55"/><rect x="90" y="434.78" width="1.0" height="0.62" fill-opacity="0.55"/><rect x="94" y="431.75" width="1.0" height="3.65"/><rect x="95" y="434.14" width="1.0" height="1.26"/><rect x="97" y="432.11" width="1.0" height="3.29"/><rect x="98" y="431.62" width="1.0" height="3.78"/><rect x="113" y="425.84" width="1.0" height="9.56"/><rect x="114" y="433.45" width="1.0" height="1.95"/><rect x="115" y="427.08" width="1.0" height="8.32" fill-opacity="0.53"/><rect x="116" y="424.33" width="1.0" height="11.07"/><rect x="117" y="421.72" width="1.0" height="13.68"/><rect x="118" y="416.59" width="1.0" height="18.81"/><rect x="119" y="431.72" width="1.0" height="3.68"/><rect x="120" y="434.11" width="1.0" height="1.29"/><rect x="121" y="416.41" width="1.0" height="18.99"/><rect x="122" y="427.49" width="1.0" height="7.91"/><rect x="123" y="422.88" width="1.0" height="12.52"/><rect x="124" y="433.49" width="1.0" height="1.91"/><rect x="125" y="434.49" width="1.0" height="0.91"/><rect x="126" y="432.78" width="1.0" height="2.62"/><rect x="127" y="434.4" width="1.0" height="1"/><rect x="129" y="432.2" width="1.0" height="3.2"/><rect x="130" y="430.79" width="1.0" height="4.61" fill-opacity="0.75"/><rect x="132" y="428.71" width="1.0" height="6.69"/><rect x="133" y="427.04" width="1.0" height="8.36"/><rect x="134" y="426.99" width="1.0" height="8.41" fill-opacity="0.84"/><rect x="135" y="425.14" width="1.0" height="10.26"/><rect x="136" y="427.78" width="1.0" height="7.62" fill-opacity="0.55"/><rect x="137" y="421.22" width="1.0" height="14.18" fill-opacity="0.71"/><rect x="138" y="425.14" width="1.0" height="10.26"/><rect x="139" y="430.58" width="1.0" height="4.82" fill-opacity="0.46"/><rect x="140" y="434.8" width="1.0" height="0.6" fill-opacity="0.69"/><rect x="141" y="430.52" width="1.0" height="4.88"/><rect x="142" y="431.65" width="1.0" height="3.75" fill-opacity="0.64"/><rect x="143" y="431.61" width="1.0" height="3.79"/><rect x="144" y="433.07" width="1.0" height="2.33"/><rect x="145" y="412.46" width="1.0" height="22.94" fill-opacity="0.64"/><rect x="146" y="431.14" width="1.0" height="4.26"/><rect x="147" y="434.32" width="1.0" height="1.08" fill-opacity="0.84"/><rect x="148" y="433.45" width="1.0" height="1.95"/><rect x="149" y="430.14" width="1.0" height="5.26"/><rect x="150" y="430.54" width="1.0" height="4.86"/><rect x="151" y="418.69" width="1.0" height="16.71" fill-opacity="0.77"/><rect x="152" y="432.31" width="1.0" height="3.09"/><rect x="153" y="419.47" width="1.0" height="15.93"/><rect x="154" y="410.63" width="1.0" height="24.77" fill-opacity="0.47"/><rect x="155" y="429.81" width="1.0" height="5.59"/><rect x="156" y="403.85" width="1.0" height="31.55"/><rect x="157" y="418.14" width="1.0" height="17.26"/><rect x="158" y="412.67" width="1.0" height="22.73" fill-opacity="0.65"/><rect x="159" y="407.56" width="1.0" height="27.84" fill-opacity="0.58"/><rect x="160" y="429.52" width="1.0" height="5.88"/><rect x="161" y="421.36" width="1.0" height="14.04"/><rect x="162" y="434.08" width="1.0" height="1.32" fill-opacity="0.51"/><rect x="163" y="428.84" width="1.0" height="6.56"/><rect x="164" y="429.07" width="1.0" height="6.33"/><rect x="165" y="431.04" width="1.0" height="4.36" fill-opacity="0.64"/><rect x="166" y="427.94" width="1.0" height="7.46"/><rect x="167" y="426.86" width="1.0" height="8.54"/><rect x="168" y="432.69" width="1.0" height="2.71" fill-opacity="0.45"/><rect x="169" y="432.98" width="1.0" height="2.42"/><rect x="170" y="434.44" width="1.0" height="0.96"/><rect x="171" y="430.46" width="1.0" height="4.94" fill-opacity="0.49"/><rect x="172" y="431.22" width="1.0" height="4.18" fill-opacity="0.59"/><rect x="173" y="434.05" width="1.0" height="1.35" fill-opacity="0.47"/><rect x="174" y="431.55" width="1.0" height="3.85"/><rect x="175" y="434.51" width="1.0" height="0.89"/><rect x="176" y="435.03" width="1.0" height="0.37"/><rect x="177" y="433.8" width="1.0" height="1.6"/><rect x="178" y="430.38" width="1.0" height="5.02"/><rect x="179" y="433.03" width="1.0" height="2.37"/><rect x="180" y="432.03" width="1.0" height="3.37" fill-opacity="0.55"/><rect x="181" y="434.01" width="1.0" height="1.39"/><rect x="182" y="432.17" width="1.0" height="3.23"/><rect x="183" y="435.05" width="1.0" height="0.35"/><rect x="184" y="425.42" width="1.0" height="9.98"/><rect x="185" y="430.27" width="1.0" height="5.13"/><rect x="186" y="429.96" width="1.0" height="5.44"/><rect x="187" y="432.35" width="1.0" height="3.05" fill-opacity="0.66"/><rect x="188" y="421.23" width="1.0" height="14.17"/><rect x="189" y="425.94" width="1.0" height="9.46"/><rect x="190" y="433.45" width="1.0" height="1.95"/><rect x="191" y="426.96" width="1.0" height="8.44"/><rect x="192" y="411.33" width="1.0" height="24.07"/><rect x="193" y="419.23" width="1.0" height="16.17"/><rect x="194" y="434.1" width="1.0" height="1.3"/><rect x="195" y="432.37" width="1.0" height="3.03"/><rect x="196" y="432.89" width="1.0" height="2.51"/><rect x="197" y="433.01" width="1.0" height="2.39"/><rect x="198" y="434.88" width="1.0" height="0.52"/><rect x="199" y="432.73" width="1.0" height="2.67"/><rect x="200" y="434.13" width="1.0" height="1.27"/><rect x="201" y="416.09" width="1.0" height="19.31" fill-opacity="0.57"/><rect x="202" y="433.83" width="1.0" height="1.57"/><rect x="203" y="420.17" width="1.0" height="15.23"/><rect x="204" y="430.03" width="1.0" height="5.37"/><rect x="205" y="427.45" width="1.0" height="7.95"/><rect x="206" y="430.83" width="1.0" height="4.57" fill-opacity="0.84"/><rect x="207" y="432.46" width="1.0" height="2.94" fill-opacity="0.69"/><rect x="208" y="428.8" width="1.0" height="6.6" fill-opacity="0.47"/><rect x="209" y="427.12" width="1.0" height="8.28"/><rect x="210" y="432.97" width="1.0" height="2.43"/><rect x="211" y="431.02" width="1.0" height="4.38"/><rect x="212" y="426.02" width="1.0" height="9.38" fill-opacity="0.74"/><rect x="213" y="433.41" width="1.0" height="1.99" fill-opacity="0.78"/><rect x="214" y="433.98" width="1.0" height="1.42" fill-opacity="0.66"/><rect x="215" y="433.9" width="1.0" height="1.5"/><rect x="216" y="432.38" width="1.0" height="3.02" fill-opacity="0.77"/><rect x="218" y="433.23" width="1.0" height="2.17"/><rect x="221" y="433.06" width="1.0" height="2.34" fill-opacity="0.7"/><rect x="226" y="433.43" width="1.0" height="1.97"/><rect x="229" y="434.94" width="1.0" height="0.46" fill-opacity="0.68"/><rect x="230" y="435.25" width="1.0" height="0.15"/><rect x="231" y="434.39" width="1.0" height="1.01" fill-opacity="0.8"/><rect x="235" y="432.92" width="1.0" height="2.48"/><rect x="240" y="434.33" width="1.0" height="1.07"/><rect x="245" y="432.82" width="1.0" height="2.58"/><rect x="219.3" y="433.89" width="1.0" height="1.51"/><rect x="223.6" y="432.88" width="1.0" height="2.52"/><rect x="233" y="432.88" width="1.0" height="2.52"/><rect x="238.8" y="432.88" width="1.0" height="2.52"/><rect x="240.5" y="431.37" width="1.0" height="4.03"/><rect x="241.7" y="433.39" width="1.0" height="2.01"/><rect x="244.6" y="434.39" width="1.0" height="1.01"/><rect x="252.1" y="426.34" width="1.0" height="9.06"/><rect x="80.4" y="408.71" width="1.0" height="26.69"/><rect x="200.3" y="408.71" width="1.0" height="26.69"/><rect x="202.6" y="414.25" width="1.0" height="21.15"/><rect x="196.2" y="430.36" width="1.0" height="5.04"/></g>
<text x="2.6" y="479.7" font-size="10.4" text-anchor="start" fill="#111" font-weight="bold">f</text>
<line x1="23.3" y1="481.05" x2="23.3" y2="531.8" stroke="#555" stroke-width="0.8"/>
<line x1="20.5" y1="531.4" x2="23.3" y2="531.4" stroke="#444" stroke-width="0.6"/>
<text x="20.2" y="532.75" font-size="3.9" text-anchor="end" fill="#333" font-weight="bold">0.0</text>
<line x1="20.5" y1="521.33" x2="23.3" y2="521.33" stroke="#444" stroke-width="0.6"/>
<text x="20.2" y="522.68" font-size="3.9" text-anchor="end" fill="#333" font-weight="bold">0.2</text>
<line x1="20.5" y1="511.26" x2="23.3" y2="511.26" stroke="#444" stroke-width="0.6"/>
<text x="20.2" y="512.61" font-size="3.9" text-anchor="end" fill="#333" font-weight="bold">0.4</text>
<line x1="20.5" y1="501.19" x2="23.3" y2="501.19" stroke="#444" stroke-width="0.6"/>
<text x="20.2" y="502.54" font-size="3.9" text-anchor="end" fill="#333" font-weight="bold">0.6</text>
<line x1="20.5" y1="491.12" x2="23.3" y2="491.12" stroke="#444" stroke-width="0.6"/>
<text x="20.2" y="492.47" font-size="3.9" text-anchor="end" fill="#333" font-weight="bold">0.8</text>
<line x1="20.5" y1="481.05" x2="23.3" y2="481.05" stroke="#444" stroke-width="0.6"/>
<text x="20.2" y="482.4" font-size="3.9" text-anchor="end" fill="#333" font-weight="bold">1.0</text>
<text x="12.9" y="505.72" font-size="4.6" fill="#000" text-anchor="middle" transform="rotate(-90 12.9 505.72)" textLength="36.5" lengthAdjust="spacingAndGlyphs">relative abundance</text>
<line x1="22.9" y1="531.4" x2="275" y2="531.4" stroke="#222" stroke-width="0.85"/>
<line x1="23.3" y1="531.4" x2="23.3" y2="533.8" stroke="#222" stroke-width="0.8"/>
<line x1="28.11" y1="531.4" x2="28.11" y2="533.8" stroke="#222" stroke-width="0.8"/>
<line x1="32.93" y1="531.4" x2="32.93" y2="533.8" stroke="#222" stroke-width="0.8"/>
<line x1="37.74" y1="531.4" x2="37.74" y2="533.8" stroke="#222" stroke-width="0.8"/>
<line x1="42.55" y1="531.4" x2="42.55" y2="533.8" stroke="#222" stroke-width="0.8"/>
<line x1="47.37" y1="531.4" x2="47.37" y2="533.8" stroke="#222" stroke-width="0.8"/>
<line x1="52.18" y1="531.4" x2="52.18" y2="533.8" stroke="#222" stroke-width="0.8"/>
<line x1="56.99" y1="531.4" x2="56.99" y2="533.8" stroke="#222" stroke-width="0.8"/>
<line x1="61.81" y1="531.4" x2="61.81" y2="533.8" stroke="#222" stroke-width="0.8"/>
<line x1="66.62" y1="531.4" x2="66.62" y2="533.8" stroke="#222" stroke-width="0.8"/>
<line x1="71.43" y1="531.4" x2="71.43" y2="533.8" stroke="#222" stroke-width="0.8"/>
<line x1="76.25" y1="531.4" x2="76.25" y2="533.8" stroke="#222" stroke-width="0.8"/>
<line x1="81.06" y1="531.4" x2="81.06" y2="533.8" stroke="#222" stroke-width="0.8"/>
<line x1="85.88" y1="531.4" x2="85.88" y2="533.8" stroke="#222" stroke-width="0.8"/>
<line x1="90.69" y1="531.4" x2="90.69" y2="533.8" stroke="#222" stroke-width="0.8"/>
<line x1="95.5" y1="531.4" x2="95.5" y2="533.8" stroke="#222" stroke-width="0.8"/>
<line x1="100.32" y1="531.4" x2="100.32" y2="533.8" stroke="#222" stroke-width="0.8"/>
<line x1="105.13" y1="531.4" x2="105.13" y2="533.8" stroke="#222" stroke-width="0.8"/>
<line x1="109.94" y1="531.4" x2="109.94" y2="533.8" stroke="#222" stroke-width="0.8"/>
<line x1="114.76" y1="531.4" x2="114.76" y2="533.8" stroke="#222" stroke-width="0.8"/>
<line x1="119.57" y1="531.4" x2="119.57" y2="533.8" stroke="#222" stroke-width="0.8"/>
<line x1="124.38" y1="531.4" x2="124.38" y2="533.8" stroke="#222" stroke-width="0.8"/>
<line x1="129.2" y1="531.4" x2="129.2" y2="533.8" stroke="#222" stroke-width="0.8"/>
<line x1="134.01" y1="531.4" x2="134.01" y2="533.8" stroke="#222" stroke-width="0.8"/>
<line x1="138.82" y1="531.4" x2="138.82" y2="533.8" stroke="#222" stroke-width="0.8"/>
<line x1="143.64" y1="531.4" x2="143.64" y2="533.8" stroke="#222" stroke-width="0.8"/>
<line x1="148.45" y1="531.4" x2="148.45" y2="533.8" stroke="#222" stroke-width="0.8"/>
<line x1="153.26" y1="531.4" x2="153.26" y2="533.8" stroke="#222" stroke-width="0.8"/>
<line x1="158.08" y1="531.4" x2="158.08" y2="533.8" stroke="#222" stroke-width="0.8"/>
<line x1="162.89" y1="531.4" x2="162.89" y2="533.8" stroke="#222" stroke-width="0.8"/>
<line x1="167.7" y1="531.4" x2="167.7" y2="533.8" stroke="#222" stroke-width="0.8"/>
<line x1="172.52" y1="531.4" x2="172.52" y2="533.8" stroke="#222" stroke-width="0.8"/>
<line x1="177.33" y1="531.4" x2="177.33" y2="533.8" stroke="#222" stroke-width="0.8"/>
<line x1="182.14" y1="531.4" x2="182.14" y2="533.8" stroke="#222" stroke-width="0.8"/>
<line x1="186.96" y1="531.4" x2="186.96" y2="533.8" stroke="#222" stroke-width="0.8"/>
<line x1="191.77" y1="531.4" x2="191.77" y2="533.8" stroke="#222" stroke-width="0.8"/>
<line x1="196.58" y1="531.4" x2="196.58" y2="533.8" stroke="#222" stroke-width="0.8"/>
<line x1="201.4" y1="531.4" x2="201.4" y2="533.8" stroke="#222" stroke-width="0.8"/>
<line x1="206.21" y1="531.4" x2="206.21" y2="533.8" stroke="#222" stroke-width="0.8"/>
<line x1="211.03" y1="531.4" x2="211.03" y2="533.8" stroke="#222" stroke-width="0.8"/>
<line x1="215.84" y1="531.4" x2="215.84" y2="533.8" stroke="#222" stroke-width="0.8"/>
<line x1="220.65" y1="531.4" x2="220.65" y2="533.8" stroke="#222" stroke-width="0.8"/>
<line x1="225.47" y1="531.4" x2="225.47" y2="533.8" stroke="#222" stroke-width="0.8"/>
<line x1="230.28" y1="531.4" x2="230.28" y2="533.8" stroke="#222" stroke-width="0.8"/>
<line x1="235.09" y1="531.4" x2="235.09" y2="533.8" stroke="#222" stroke-width="0.8"/>
<line x1="239.91" y1="531.4" x2="239.91" y2="533.8" stroke="#222" stroke-width="0.8"/>
<line x1="244.72" y1="531.4" x2="244.72" y2="533.8" stroke="#222" stroke-width="0.8"/>
<line x1="249.53" y1="531.4" x2="249.53" y2="533.8" stroke="#222" stroke-width="0.8"/>
<line x1="254.35" y1="531.4" x2="254.35" y2="533.8" stroke="#222" stroke-width="0.8"/>
<line x1="259.16" y1="531.4" x2="259.16" y2="533.8" stroke="#222" stroke-width="0.8"/>
<line x1="263.97" y1="531.4" x2="263.97" y2="533.8" stroke="#222" stroke-width="0.8"/>
<line x1="268.79" y1="531.4" x2="268.79" y2="533.8" stroke="#222" stroke-width="0.8"/>
<line x1="273.6" y1="531.4" x2="273.6" y2="533.8" stroke="#222" stroke-width="0.8"/>
<g font-size="3.4" font-weight="bold" fill="#222" text-anchor="middle"><text x="22.4" y="538.1" transform="rotate(-45 22.4 536.9)">d0</text><text x="27.21" y="538.1" transform="rotate(-45 27.21 536.9)">d0</text><text x="32.03" y="538.1" transform="rotate(-45 32.03 536.9)">d0</text><text x="36.84" y="538.1" transform="rotate(-45 36.84 536.9)">d0</text><text x="41.65" y="538.1" transform="rotate(-45 41.65 536.9)">d0</text><text x="46.47" y="538.1" transform="rotate(-45 46.47 536.9)">d0</text><text x="51.28" y="538.1" transform="rotate(-45 51.28 536.9)">d0</text><text x="56.09" y="538.1" transform="rotate(-45 56.09 536.9)">d0</text><text x="60.91" y="538.1" transform="rotate(-45 60.91 536.9)">d0</text><text x="65.72" y="538.1" transform="rotate(-45 65.72 536.9)">d0</text><text x="70.53" y="538.1" transform="rotate(-45 70.53 536.9)">d0</text><text x="75.35" y="538.1" transform="rotate(-45 75.35 536.9)">d0</text><text x="80.16" y="538.1" transform="rotate(-45 80.16 536.9)">d0</text><text x="84.97" y="538.1" transform="rotate(-45 84.97 536.9)">d0</text><text x="89.79" y="538.1" transform="rotate(-45 89.79 536.9)">d0</text><text x="94.6" y="538.1" transform="rotate(-45 94.6 536.9)">d0</text><text x="99.42" y="538.1" transform="rotate(-45 99.42 536.9)">d0</text><text x="104.23" y="538.1" transform="rotate(-45 104.23 536.9)">d0</text><text x="109.04" y="538.1" transform="rotate(-45 109.04 536.9)">d0</text><text x="113.86" y="538.1" transform="rotate(-45 113.86 536.9)">7</text><text x="118.67" y="538.1" transform="rotate(-45 118.67 536.9)">7</text><text x="123.48" y="538.1" transform="rotate(-45 123.48 536.9)">7</text><text x="128.3" y="538.1" transform="rotate(-45 128.3 536.9)">7</text><text x="133.11" y="538.1" transform="rotate(-45 133.11 536.9)">7</text><text x="137.92" y="538.1" transform="rotate(-45 137.92 536.9)">7</text><text x="142.74" y="538.1" transform="rotate(-45 142.74 536.9)">7</text><text x="147.55" y="538.1" transform="rotate(-45 147.55 536.9)">7</text><text x="152.36" y="538.1" transform="rotate(-45 152.36 536.9)">7</text><text x="157.18" y="538.1" transform="rotate(-45 157.18 536.9)">7</text><text x="161.99" y="538.1" transform="rotate(-45 161.99 536.9)">7</text><text x="166.8" y="538.1" transform="rotate(-45 166.8 536.9)">7</text><text x="171.62" y="538.1" transform="rotate(-45 171.62 536.9)">7</text><text x="176.43" y="538.1" transform="rotate(-45 176.43 536.9)">7</text><text x="181.24" y="538.1" transform="rotate(-45 181.24 536.9)">7</text><text x="186.06" y="538.1" transform="rotate(-45 186.06 536.9)">7</text><text x="190.87" y="538.1" transform="rotate(-45 190.87 536.9)">7</text><text x="195.68" y="538.1" transform="rotate(-45 195.68 536.9)">d35</text><text x="200.5" y="538.1" transform="rotate(-45 200.5 536.9)">d35</text><text x="205.31" y="538.1" transform="rotate(-45 205.31 536.9)">d35</text><text x="210.13" y="538.1" transform="rotate(-45 210.13 536.9)">d35</text><text x="214.94" y="538.1" transform="rotate(-45 214.94 536.9)">d35</text><text x="219.75" y="538.1" transform="rotate(-45 219.75 536.9)">d35</text><text x="224.57" y="538.1" transform="rotate(-45 224.57 536.9)">d35</text><text x="229.38" y="538.1" transform="rotate(-45 229.38 536.9)">d35</text><text x="234.19" y="538.1" transform="rotate(-45 234.19 536.9)">d35</text><text x="239.01" y="538.1" transform="rotate(-45 239.01 536.9)">d35</text><text x="243.82" y="538.1" transform="rotate(-45 243.82 536.9)">d35</text><text x="248.63" y="538.1" transform="rotate(-45 248.63 536.9)">d35</text><text x="253.45" y="538.1" transform="rotate(-45 253.45 536.9)">d35</text><text x="258.26" y="538.1" transform="rotate(-45 258.26 536.9)">d35</text><text x="263.07" y="538.1" transform="rotate(-45 263.07 536.9)">d35</text><text x="267.89" y="538.1" transform="rotate(-45 267.89 536.9)">d35</text><text x="272.7" y="538.1" transform="rotate(-45 272.7 536.9)">d35</text></g>
<text x="152.8" y="547" font-size="8.2" text-anchor="middle" fill="#111" font-weight="bold">Day</text>
<rect x="226" y="476.5" width="5.2" height="2.3" fill="#2a8fa7"/>
<text x="234.2" y="479.25" font-size="4.7" fill="#222" textLength="12.7" lengthAdjust="spacingAndGlyphs">Blautia</text>
<rect x="226" y="483.5" width="5.2" height="2.3" fill="#f04850"/>
<text x="234.2" y="486.25" font-size="4.7" fill="#222" textLength="21.8" lengthAdjust="spacingAndGlyphs">Bacteroides</text>
<g fill="#2a8fa7"><rect x="58.2" y="527.88" width="1.0" height="3.52"/><rect x="64.6" y="527.37" width="1.0" height="4.03"/><rect x="69.9" y="524.35" width="1.0" height="7.05"/><rect x="70.9" y="526.37" width="1.0" height="5.04"/><rect x="75.2" y="522.34" width="1.0" height="9.06"/><rect x="76.2" y="525.36" width="1.0" height="6.04"/><rect x="81.5" y="523.34" width="1.0" height="8.06"/><rect x="82.5" y="526.37" width="1.0" height="5.04"/><rect x="86.8" y="527.37" width="1.0" height="4.03"/><rect x="96.3" y="522.84" width="1.0" height="8.56"/><rect x="98.4" y="520.32" width="1.0" height="11.08"/><rect x="104.8" y="521.33" width="1.0" height="10.07"/><rect x="110" y="528.88" width="1.0" height="2.52"/><rect x="61.4" y="526.37" width="1.0" height="5.04"/><rect x="113.2" y="520.51" width="1.0" height="10.89"/><rect x="114.2" y="512.77" width="1.0" height="18.63" fill-opacity="0.8"/><rect x="115.2" y="503.93" width="1.0" height="27.47" fill-opacity="0.45"/><rect x="116.2" y="514.01" width="1.0" height="17.39"/><rect x="117.2" y="514.68" width="1.0" height="16.72"/><rect x="118.2" y="507.24" width="1.0" height="24.16"/><rect x="119.2" y="510.61" width="1.0" height="20.79" fill-opacity="0.62"/><rect x="120.2" y="503.7" width="1.0" height="27.7"/><rect x="121.2" y="504.96" width="1.0" height="26.44"/><rect x="122.2" y="513.45" width="1.0" height="17.95"/><rect x="123.2" y="521.21" width="1.0" height="10.19"/><rect x="124.2" y="507.72" width="1.0" height="23.68"/><rect x="125.2" y="509.91" width="1.0" height="21.49"/><rect x="126.2" y="510.22" width="1.0" height="21.18"/><rect x="127.2" y="509.53" width="1.0" height="21.87"/><rect x="128.2" y="512.68" width="1.0" height="18.72"/><rect x="129.2" y="515.75" width="1.0" height="15.65"/><rect x="130.2" y="499.55" width="1.0" height="31.85" fill-opacity="0.68"/><rect x="131.2" y="493.81" width="1.0" height="37.59" fill-opacity="0.64"/><rect x="132.2" y="519.87" width="1.0" height="11.53" fill-opacity="0.46"/><rect x="133.2" y="502.88" width="1.0" height="28.52" fill-opacity="0.7"/><rect x="134.2" y="522.79" width="1.0" height="8.61"/><rect x="135.2" y="515.12" width="1.0" height="16.28" fill-opacity="0.7"/><rect x="136.2" y="504.95" width="1.0" height="26.45" fill-opacity="0.72"/><rect x="137.2" y="505.42" width="1.0" height="25.98" fill-opacity="0.67"/><rect x="138.2" y="516.29" width="1.0" height="15.11"/><rect x="139.2" y="512.2" width="1.0" height="19.2"/><rect x="140.2" y="521.09" width="1.0" height="10.31"/><rect x="141.2" y="496.01" width="1.0" height="35.39"/><rect x="142.2" y="505.16" width="1.0" height="26.24"/><rect x="143.2" y="494.6" width="1.0" height="36.8"/><rect x="144.2" y="511.99" width="1.0" height="19.41" fill-opacity="0.53"/><rect x="145.2" y="515.59" width="1.0" height="15.81"/><rect x="146.2" y="515.22" width="1.0" height="16.18" fill-opacity="0.7"/><rect x="147.2" y="516.7" width="1.0" height="14.7" fill-opacity="0.77"/><rect x="148.2" y="509.8" width="1.0" height="21.6"/><rect x="149.2" y="504.67" width="1.0" height="26.73"/><rect x="150.2" y="514.84" width="1.0" height="16.56" fill-opacity="0.59"/><rect x="151.2" y="503.58" width="1.0" height="27.82"/><rect x="152.2" y="500.46" width="1.0" height="30.94" fill-opacity="0.8"/><rect x="153.2" y="507.83" width="1.0" height="23.57"/><rect x="154.2" y="517.1" width="1.0" height="14.3" fill-opacity="0.52"/><rect x="155.2" y="513.43" width="1.0" height="17.97"/><rect x="156.2" y="509.93" width="1.0" height="21.47"/><rect x="157.2" y="509.05" width="1.0" height="22.35"/><rect x="158.2" y="506.97" width="1.0" height="24.43"/><rect x="159.2" y="502.02" width="1.0" height="29.38"/><rect x="160.2" y="503.3" width="1.0" height="28.1" fill-opacity="0.79"/><rect x="161.2" y="508.44" width="1.0" height="22.96"/><rect x="162.2" y="510.76" width="1.0" height="20.64"/><rect x="163.2" y="511.96" width="1.0" height="19.44" fill-opacity="0.52"/><rect x="164.2" y="522.1" width="1.0" height="9.3" fill-opacity="0.57"/><rect x="165.2" y="523.17" width="1.0" height="8.23"/><rect x="166.2" y="521.89" width="1.0" height="9.51" fill-opacity="0.78"/><rect x="167.2" y="522.31" width="1.0" height="9.09"/><rect x="168.2" y="515.09" width="1.0" height="16.31"/><rect x="169.2" y="511.86" width="1.0" height="19.54" fill-opacity="0.81"/><rect x="170.2" y="509.22" width="1.0" height="22.18"/><rect x="171.2" y="503.65" width="1.0" height="27.75"/><rect x="172.2" y="512.23" width="1.0" height="19.17"/><rect x="173.2" y="504.12" width="1.0" height="27.28" fill-opacity="0.62"/><rect x="174.2" y="506.48" width="1.0" height="24.92"/><rect x="175.2" y="492.86" width="1.0" height="38.54"/><rect x="176.2" y="511.69" width="1.0" height="19.71" fill-opacity="0.67"/><rect x="177.2" y="501.15" width="1.0" height="30.25"/><rect x="178.2" y="511.79" width="1.0" height="19.61"/><rect x="179.2" y="520.91" width="1.0" height="10.49"/><rect x="180.2" y="495.41" width="1.0" height="35.99"/><rect x="181.2" y="516.69" width="1.0" height="14.71"/><rect x="182.2" y="507.81" width="1.0" height="23.59" fill-opacity="0.47"/><rect x="183.2" y="502.41" width="1.0" height="28.99"/><rect x="184.2" y="505.79" width="1.0" height="25.61" fill-opacity="0.71"/><rect x="185.2" y="498.41" width="1.0" height="32.99"/><rect x="186.2" y="520.94" width="1.0" height="10.46"/><rect x="187.2" y="501.32" width="1.0" height="30.08"/><rect x="188.2" y="497.44" width="1.0" height="33.96"/><rect x="189.2" y="495.51" width="1.0" height="35.89"/><rect x="190.2" y="510.39" width="1.0" height="21.01"/><rect x="191.2" y="511.39" width="1.0" height="20.01"/><rect x="192.2" y="506.13" width="1.0" height="25.27"/><rect x="193.2" y="508.38" width="1.0" height="23.02" fill-opacity="0.54"/><rect x="194.2" y="512.64" width="1.0" height="18.76" fill-opacity="0.72"/><rect x="195.2" y="503.25" width="1.0" height="28.15"/><rect x="196.2" y="511.51" width="1.0" height="19.89"/><rect x="197.2" y="511.55" width="1.0" height="19.85"/><rect x="198.2" y="496.84" width="1.0" height="34.56"/><rect x="199.2" y="502.83" width="1.0" height="28.57"/><rect x="200.2" y="501.51" width="1.0" height="29.89"/><rect x="201.2" y="509.85" width="1.0" height="21.55"/><rect x="202.2" y="490.3" width="1.0" height="41.1" fill-opacity="0.69"/><rect x="203.2" y="495" width="1.0" height="36.4" fill-opacity="0.68"/><rect x="204.2" y="520.06" width="1.0" height="11.34" fill-opacity="0.63"/><rect x="205.2" y="517.55" width="1.0" height="13.85" fill-opacity="0.8"/><rect x="206.2" y="502.58" width="1.0" height="28.82" fill-opacity="0.55"/><rect x="207.2" y="518.74" width="1.0" height="12.66"/><rect x="208.2" y="501.59" width="1.0" height="29.81"/><rect x="209.2" y="501.79" width="1.0" height="29.61"/><rect x="210.2" y="500.65" width="1.0" height="30.75" fill-opacity="0.55"/><rect x="211.2" y="501.88" width="1.0" height="29.52"/><rect x="212.2" y="497.36" width="1.0" height="34.04"/><rect x="213.2" y="510.84" width="1.0" height="20.56"/><rect x="214.2" y="521.94" width="1.0" height="9.46"/><rect x="215.2" y="512.01" width="1.0" height="19.39"/><rect x="216.2" y="490.44" width="1.0" height="40.96"/><rect x="217.2" y="499.79" width="1.0" height="31.61" fill-opacity="0.69"/><rect x="218.2" y="505.07" width="1.0" height="26.33" fill-opacity="0.83"/><rect x="219.2" y="511.72" width="1.0" height="19.68" fill-opacity="0.46"/><rect x="220.2" y="508.21" width="1.0" height="23.19" fill-opacity="0.51"/><rect x="221.2" y="514.59" width="1.0" height="16.81"/><rect x="222.2" y="520" width="1.0" height="11.4" fill-opacity="0.68"/><rect x="223.2" y="495.39" width="1.0" height="36.01" fill-opacity="0.55"/><rect x="224.2" y="514.12" width="1.0" height="17.28"/><rect x="225.2" y="499.26" width="1.0" height="32.14"/><rect x="226.2" y="504.77" width="1.0" height="26.63"/><rect x="227.2" y="502.94" width="1.0" height="28.46" fill-opacity="0.5"/><rect x="228.2" y="511.53" width="1.0" height="19.87"/><rect x="229.2" y="506.81" width="1.0" height="24.59"/><rect x="230.2" y="517.7" width="1.0" height="13.7" fill-opacity="0.52"/><rect x="231.2" y="518.71" width="1.0" height="12.69"/><rect x="232.2" y="510.86" width="1.0" height="20.54" fill-opacity="0.61"/><rect x="233.2" y="502.9" width="1.0" height="28.5"/><rect x="234.2" y="507.23" width="1.0" height="24.17" fill-opacity="0.58"/><rect x="235.2" y="493.06" width="1.0" height="38.34" fill-opacity="0.53"/><rect x="236.2" y="508.12" width="1.0" height="23.28"/><rect x="237.2" y="509.51" width="1.0" height="21.89"/><rect x="238.2" y="515.21" width="1.0" height="16.19" fill-opacity="0.68"/><rect x="239.2" y="514.79" width="1.0" height="16.61"/><rect x="240.2" y="498.02" width="1.0" height="33.38"/><rect x="241.2" y="515.48" width="1.0" height="15.92"/><rect x="242.2" y="506.01" width="1.0" height="25.39" fill-opacity="0.58"/><rect x="243.2" y="521.24" width="1.0" height="10.16"/><rect x="244.2" y="503.9" width="1.0" height="27.5"/><rect x="245.2" y="508.72" width="1.0" height="22.68" fill-opacity="0.79"/><rect x="246" y="524.75" width="1.0" height="6.65"/><rect x="247" y="523.48" width="1.0" height="7.92" fill-opacity="0.47"/><rect x="248" y="523.23" width="1.0" height="8.17"/><rect x="249" y="524.11" width="1.0" height="7.29"/><rect x="250" y="522.88" width="1.0" height="8.52"/><rect x="251" y="520.41" width="1.0" height="10.99"/><rect x="252" y="524.59" width="1.0" height="6.81"/><rect x="253" y="523.76" width="1.0" height="7.64" fill-opacity="0.72"/><rect x="254" y="525.88" width="1.0" height="5.52"/><rect x="255" y="524.74" width="1.0" height="6.66"/><rect x="256" y="522.97" width="1.0" height="8.43"/><rect x="257" y="522.74" width="1.0" height="8.66"/><rect x="258" y="524.7" width="1.0" height="6.7"/><rect x="259" y="524.16" width="1.0" height="7.24"/><rect x="260" y="525.11" width="1.0" height="6.29" fill-opacity="0.51"/><rect x="261" y="522.33" width="1.0" height="9.07" fill-opacity="0.74"/><rect x="262" y="524.39" width="1.0" height="7.01"/><rect x="263" y="526.04" width="1.0" height="5.36"/><rect x="264" y="520.86" width="1.0" height="10.54"/><rect x="265" y="526.22" width="1.0" height="5.18"/><rect x="266" y="525.68" width="1.0" height="5.72"/><rect x="267" y="522.34" width="1.0" height="9.06"/><rect x="268" y="522.29" width="1.0" height="9.11"/><rect x="269" y="520.73" width="1.0" height="10.67"/><rect x="270" y="523.77" width="1.0" height="7.63"/><rect x="271" y="524.34" width="1.0" height="7.06"/><rect x="272" y="526.35" width="1.0" height="5.05"/><rect x="273" y="526.35" width="1.0" height="5.05"/><rect x="274" y="521.87" width="1.0" height="9.53" fill-opacity="0.79"/><rect x="256.3" y="506.22" width="1.0" height="25.18"/></g>
<g fill="#f04850"><rect x="23" y="527.95" width="1.0" height="3.45"/><rect x="24" y="530.24" width="1.0" height="1.16"/><rect x="25" y="528.72" width="1.0" height="2.68"/><rect x="26" y="527.18" width="1.0" height="4.22" fill-opacity="0.56"/><rect x="27" y="527.01" width="1.0" height="4.39"/><rect x="30" y="527.6" width="1.0" height="3.8"/><rect x="31" y="529.24" width="1.0" height="2.16" fill-opacity="0.78"/><rect x="33" y="527.63" width="1.0" height="3.77"/><rect x="34" y="530.38" width="1.0" height="1.02"/><rect x="35" y="528.35" width="1.0" height="3.05" fill-opacity="0.65"/><rect x="36" y="530.21" width="1.0" height="1.19"/><rect x="37" y="528.12" width="1.0" height="3.28"/><rect x="38" y="526.7" width="1.0" height="4.7"/><rect x="41" y="527.1" width="1.0" height="4.3"/><rect x="42" y="526.51" width="1.0" height="4.89"/><rect x="43" y="528.29" width="1.0" height="3.11"/><rect x="44" y="527.74" width="1.0" height="3.66"/><rect x="45" y="527.96" width="1.0" height="3.44" fill-opacity="0.71"/><rect x="46" y="528.66" width="1.0" height="2.74"/><rect x="48" y="528.39" width="1.0" height="3.01"/><rect x="51" y="529.91" width="1.0" height="1.49"/><rect x="52" y="530.1" width="1.0" height="1.3"/><rect x="53" y="528.44" width="1.0" height="2.96"/><rect x="54" y="530.37" width="1.0" height="1.03" fill-opacity="0.61"/><rect x="55" y="527.58" width="1.0" height="3.82" fill-opacity="0.76"/><rect x="56" y="528.98" width="1.0" height="2.42"/><rect x="57" y="529.21" width="1.0" height="2.19" fill-opacity="0.78"/><rect x="58" y="529.87" width="1.0" height="1.53" fill-opacity="0.5"/><rect x="59" y="529.18" width="1.0" height="2.22"/><rect x="60" y="528.71" width="1.0" height="2.69"/><rect x="62" y="527.03" width="1.0" height="4.37"/><rect x="63" y="527.36" width="1.0" height="4.04"/><rect x="64" y="526.69" width="1.0" height="4.71"/><rect x="65" y="528.51" width="1.0" height="2.89"/><rect x="69" y="527.74" width="1.0" height="3.66"/><rect x="71" y="527.21" width="1.0" height="4.19"/><rect x="73" y="530.05" width="1.0" height="1.35"/><rect x="74" y="531.25" width="1.0" height="0.15"/><rect x="78" y="526.86" width="1.0" height="4.54"/><rect x="79" y="529" width="1.0" height="2.4"/><rect x="80" y="527.27" width="1.0" height="4.13"/><rect x="81" y="526.94" width="1.0" height="4.46"/><rect x="83" y="529.24" width="1.0" height="2.16" fill-opacity="0.79"/><rect x="84" y="527.17" width="1.0" height="4.23"/><rect x="86" y="530.17" width="1.0" height="1.23" fill-opacity="0.63"/><rect x="88" y="527.87" width="1.0" height="3.53"/><rect x="89" y="530.89" width="1.0" height="0.51"/><rect x="91" y="528.04" width="1.0" height="3.36"/><rect x="92" y="527.74" width="1.0" height="3.66" fill-opacity="0.71"/><rect x="93" y="528.82" width="1.0" height="2.58"/><rect x="94" y="527.3" width="1.0" height="4.1"/><rect x="95" y="526.7" width="1.0" height="4.7"/><rect x="96" y="528.01" width="1.0" height="3.39"/><rect x="97" y="531.01" width="1.0" height="0.39"/><rect x="99" y="529.33" width="1.0" height="2.07"/><rect x="100" y="530.32" width="1.0" height="1.08"/><rect x="102" y="530.37" width="1.0" height="1.03" fill-opacity="0.5"/><rect x="103" y="531.06" width="1.0" height="0.34"/><rect x="105" y="526.95" width="1.0" height="4.45"/><rect x="106" y="527.39" width="1.0" height="4.01" fill-opacity="0.47"/><rect x="107" y="528.79" width="1.0" height="2.61"/><rect x="108" y="527.84" width="1.0" height="3.56"/><rect x="109" y="529.98" width="1.0" height="1.42"/><rect x="111" y="528.12" width="1.0" height="3.28"/><rect x="112" y="527.33" width="1.0" height="4.07"/><rect x="58.2" y="529.89" width="1.0" height="1.51"/><rect x="64.6" y="530.39" width="1.0" height="1.01"/><rect x="69.9" y="528.88" width="1.0" height="2.52"/><rect x="70.9" y="529.39" width="1.0" height="2.01"/><rect x="75.2" y="528.38" width="1.0" height="3.02"/><rect x="76.2" y="528.88" width="1.0" height="2.52"/><rect x="81.5" y="529.39" width="1.0" height="2.01"/><rect x="82.5" y="528.88" width="1.0" height="2.52"/><rect x="86.8" y="528.38" width="1.0" height="3.02"/><rect x="96.3" y="528.88" width="1.0" height="2.52"/><rect x="98.4" y="520.83" width="1.0" height="10.57"/><rect x="104.8" y="521.83" width="1.0" height="9.57"/><rect x="110" y="529.89" width="1.0" height="1.51"/><rect x="61.4" y="526.37" width="1.0" height="5.04"/><rect x="113.2" y="525.28" width="1.0" height="6.12"/><rect x="114.2" y="527.51" width="1.0" height="3.89" fill-opacity="0.49"/><rect x="115.2" y="527.13" width="1.0" height="4.27"/><rect x="116.2" y="523.21" width="1.0" height="8.19"/><rect x="117.2" y="526.2" width="1.0" height="5.2"/><rect x="118.2" y="519.88" width="1.0" height="11.52"/><rect x="119.2" y="524.72" width="1.0" height="6.68" fill-opacity="0.67"/><rect x="120.2" y="526.23" width="1.0" height="5.17"/><rect x="121.2" y="525.02" width="1.0" height="6.38"/><rect x="122.2" y="527.05" width="1.0" height="4.35"/><rect x="123.2" y="526.89" width="1.0" height="4.51" fill-opacity="0.76"/><rect x="124.2" y="527.25" width="1.0" height="4.15"/><rect x="125.2" y="525.31" width="1.0" height="6.09"/><rect x="126.2" y="522.41" width="1.0" height="8.99" fill-opacity="0.84"/><rect x="127.2" y="519.73" width="1.0" height="11.67" fill-opacity="0.77"/><rect x="128.2" y="527.14" width="1.0" height="4.26"/><rect x="129.2" y="521.92" width="1.0" height="9.48"/><rect x="130.2" y="518.27" width="1.0" height="13.13" fill-opacity="0.73"/><rect x="131.2" y="525.94" width="1.0" height="5.46" fill-opacity="0.74"/><rect x="132.2" y="526.2" width="1.0" height="5.2"/><rect x="133.2" y="523.37" width="1.0" height="8.03"/><rect x="134.2" y="526.46" width="1.0" height="4.94"/><rect x="135.2" y="526.54" width="1.0" height="4.86" fill-opacity="0.57"/><rect x="136.2" y="526.99" width="1.0" height="4.41"/><rect x="137.2" y="528.46" width="1.0" height="2.94"/><rect x="138.2" y="519.25" width="1.0" height="12.15" fill-opacity="0.63"/><rect x="139.2" y="524.14" width="1.0" height="7.26" fill-opacity="0.81"/><rect x="140.2" y="525.54" width="1.0" height="5.86" fill-opacity="0.68"/><rect x="141.2" y="526.84" width="1.0" height="4.56"/><rect x="142.2" y="524.08" width="1.0" height="7.32"/><rect x="143.2" y="514.73" width="1.0" height="16.67" fill-opacity="0.68"/><rect x="144.2" y="520.4" width="1.0" height="11"/><rect x="145.2" y="523.51" width="1.0" height="7.89"/><rect x="146.2" y="528.51" width="1.0" height="2.89"/><rect x="147.2" y="528.8" width="1.0" height="2.6"/><rect x="148.2" y="522.4" width="1.0" height="9" fill-opacity="0.51"/><rect x="149.2" y="528.26" width="1.0" height="3.14"/><rect x="150.2" y="515.73" width="1.0" height="15.67"/><rect x="151.2" y="529.81" width="1.0" height="1.59" fill-opacity="0.83"/><rect x="152.2" y="528.31" width="1.0" height="3.09"/><rect x="153.2" y="527.12" width="1.0" height="4.28"/><rect x="154.2" y="528.54" width="1.0" height="2.86" fill-opacity="0.71"/><rect x="155.2" y="529.08" width="1.0" height="2.32"/><rect x="156.2" y="527.49" width="1.0" height="3.91" fill-opacity="0.57"/><rect x="157.2" y="528.94" width="1.0" height="2.46"/><rect x="158.2" y="527.56" width="1.0" height="3.84"/><rect x="159.2" y="528.49" width="1.0" height="2.91"/><rect x="160.2" y="525.19" width="1.0" height="6.21"/><rect x="161.2" y="526.18" width="1.0" height="5.22"/><rect x="162.2" y="528.03" width="1.0" height="3.37"/><rect x="163.2" y="524.24" width="1.0" height="7.16" fill-opacity="0.48"/><rect x="164.2" y="523.81" width="1.0" height="7.59"/><rect x="165.2" y="526.85" width="1.0" height="4.55"/><rect x="166.2" y="528.33" width="1.0" height="3.07" fill-opacity="0.62"/><rect x="167.2" y="516.57" width="1.0" height="14.83" fill-opacity="0.67"/><rect x="168.2" y="525.89" width="1.0" height="5.51"/><rect x="169.2" y="519.32" width="1.0" height="12.08"/><rect x="170.2" y="518.19" width="1.0" height="13.21"/><rect x="171.2" y="524.18" width="1.0" height="7.22"/><rect x="172.2" y="523.85" width="1.0" height="7.55" fill-opacity="0.53"/><rect x="173.2" y="517.99" width="1.0" height="13.41"/><rect x="174.2" y="526.75" width="1.0" height="4.65"/><rect x="175.2" y="524.18" width="1.0" height="7.22" fill-opacity="0.62"/><rect x="176.2" y="524.75" width="1.0" height="6.65" fill-opacity="0.63"/><rect x="177.2" y="523.99" width="1.0" height="7.41"/><rect x="178.2" y="526.09" width="1.0" height="5.31"/><rect x="179.2" y="516.91" width="1.0" height="14.49"/><rect x="180.2" y="529.21" width="1.0" height="2.19" fill-opacity="0.66"/><rect x="181.2" y="525.74" width="1.0" height="5.66"/><rect x="182.2" y="529.39" width="1.0" height="2.01"/><rect x="183.2" y="523.63" width="1.0" height="7.77" fill-opacity="0.48"/><rect x="184.2" y="523.93" width="1.0" height="7.47"/><rect x="185.2" y="523.16" width="1.0" height="8.24" fill-opacity="0.66"/><rect x="186.2" y="526.86" width="1.0" height="4.54" fill-opacity="0.52"/><rect x="187.2" y="522.29" width="1.0" height="9.11" fill-opacity="0.58"/><rect x="188.2" y="526.21" width="1.0" height="5.19"/><rect x="189.2" y="528.52" width="1.0" height="2.88"/><rect x="190.2" y="524.36" width="1.0" height="7.04"/><rect x="191.2" y="529.52" width="1.0" height="1.88"/><rect x="192.2" y="520.44" width="1.0" height="10.96" fill-opacity="0.78"/><rect x="193.2" y="516.91" width="1.0" height="14.49"/><rect x="194.2" y="525.55" width="1.0" height="5.85" fill-opacity="0.61"/><rect x="195.2" y="525.54" width="1.0" height="5.86"/><rect x="196.2" y="524.08" width="1.0" height="7.32"/><rect x="197.2" y="526.41" width="1.0" height="4.99"/><rect x="198.2" y="525.28" width="1.0" height="6.12"/><rect x="199.2" y="523.03" width="1.0" height="8.37" fill-opacity="0.67"/><rect x="200.2" y="529.6" width="1.0" height="1.8"/><rect x="201.2" y="529.7" width="1.0" height="1.7" fill-opacity="0.65"/><rect x="202.2" y="527.7" width="1.0" height="3.7" fill-opacity="0.5"/><rect x="203.2" y="521.83" width="1.0" height="9.57"/><rect x="204.2" y="526.62" width="1.0" height="4.78" fill-opacity="0.49"/><rect x="205.2" y="525.47" width="1.0" height="5.93" fill-opacity="0.77"/><rect x="206.2" y="523.26" width="1.0" height="8.14" fill-opacity="0.8"/><rect x="207.2" y="518.4" width="1.0" height="13"/><rect x="208.2" y="526.26" width="1.0" height="5.14"/><rect x="209.2" y="509.26" width="1.0" height="22.14"/><rect x="210.2" y="522.58" width="1.0" height="8.82"/><rect x="211.2" y="525.66" width="1.0" height="5.74" fill-opacity="0.85"/><rect x="212.2" y="520.17" width="1.0" height="11.23"/><rect x="213.2" y="526.84" width="1.0" height="4.56" fill-opacity="0.68"/><rect x="214.2" y="526.73" width="1.0" height="4.67" fill-opacity="0.56"/><rect x="215.2" y="525.82" width="1.0" height="5.58"/><rect x="216.2" y="516.49" width="1.0" height="14.91"/><rect x="217.2" y="526.58" width="1.0" height="4.82"/><rect x="218.2" y="526.69" width="1.0" height="4.71" fill-opacity="0.6"/><rect x="219.2" y="522.55" width="1.0" height="8.85"/><rect x="220.2" y="524.15" width="1.0" height="7.25" fill-opacity="0.78"/><rect x="221.2" y="523.42" width="1.0" height="7.98" fill-opacity="0.66"/><rect x="222.2" y="525.42" width="1.0" height="5.98" fill-opacity="0.64"/><rect x="223.2" y="509.04" width="1.0" height="22.36"/><rect x="224.2" y="521.24" width="1.0" height="10.16"/><rect x="225.2" y="528.14" width="1.0" height="3.26"/><rect x="226.2" y="520" width="1.0" height="11.4"/><rect x="227.2" y="511.61" width="1.0" height="19.79"/><rect x="228.2" y="525.12" width="1.0" height="6.28"/><rect x="229.2" y="518.53" width="1.0" height="12.87" fill-opacity="0.79"/><rect x="230.2" y="525.9" width="1.0" height="5.5"/><rect x="231.2" y="528.53" width="1.0" height="2.87"/><rect x="232.2" y="523.14" width="1.0" height="8.26"/><rect x="233.2" y="525.69" width="1.0" height="5.71" fill-opacity="0.6"/><rect x="234.2" y="528.98" width="1.0" height="2.42" fill-opacity="0.76"/><rect x="235.2" y="526.04" width="1.0" height="5.36" fill-opacity="0.69"/><rect x="236.2" y="526.6" width="1.0" height="4.8"/><rect x="237.2" y="523.03" width="1.0" height="8.37" fill-opacity="0.77"/><rect x="238.2" y="523.73" width="1.0" height="7.67"/><rect x="239.2" y="527.7" width="1.0" height="3.7"/><rect x="240.2" y="524.81" width="1.0" height="6.59"/><rect x="241.2" y="524.01" width="1.0" height="7.39"/><rect x="242.2" y="527.17" width="1.0" height="4.23" fill-opacity="0.82"/><rect x="243.2" y="528.89" width="1.0" height="2.51"/><rect x="244.2" y="528.5" width="1.0" height="2.9"/><rect x="245.2" y="519.12" width="1.0" height="12.28"/><rect x="246" y="526.16" width="1.0" height="5.24"/><rect x="247" y="525.97" width="1.0" height="5.43"/><rect x="248" y="526.62" width="1.0" height="4.78"/><rect x="249" y="526.3" width="1.0" height="5.1"/><rect x="250" y="527.27" width="1.0" height="4.13"/><rect x="251" y="526.19" width="1.0" height="5.21"/><rect x="252" y="526.93" width="1.0" height="4.47" fill-opacity="0.62"/><rect x="253" y="526.36" width="1.0" height="5.04" fill-opacity="0.84"/><rect x="254" y="526.61" width="1.0" height="4.79"/><rect x="255" y="527.61" width="1.0" height="3.79"/><rect x="256" y="525.52" width="1.0" height="5.88"/><rect x="257" y="525.96" width="1.0" height="5.44" fill-opacity="0.54"/><rect x="258" y="528.1" width="1.0" height="3.3"/><rect x="259" y="528.81" width="1.0" height="2.59"/><rect x="260" y="526.55" width="1.0" height="4.85"/><rect x="261" y="527.62" width="1.0" height="3.78"/><rect x="262" y="527.89" width="1.0" height="3.51"/><rect x="263" y="525.89" width="1.0" height="5.51" fill-opacity="0.48"/><rect x="264" y="527.09" width="1.0" height="4.31"/><rect x="265" y="528.51" width="1.0" height="2.89"/><rect x="266" y="526.9" width="1.0" height="4.5"/><rect x="267" y="528.73" width="1.0" height="2.67"/><rect x="268" y="527.5" width="1.0" height="3.9"/><rect x="269" y="526.02" width="1.0" height="5.38"/><rect x="270" y="528.81" width="1.0" height="2.59"/><rect x="271" y="525.54" width="1.0" height="5.86" fill-opacity="0.81"/><rect x="272" y="528.7" width="1.0" height="2.7" fill-opacity="0.74"/><rect x="273" y="527.85" width="1.0" height="3.55"/><rect x="274" y="526.49" width="1.0" height="4.91" fill-opacity="0.63"/><rect x="256.3" y="521.33" width="1.0" height="10.07"/></g>
<text x="2.6" y="574.3" font-size="10.4" text-anchor="start" fill="#111" font-weight="bold">g</text>
<line x1="23.3" y1="577.25" x2="23.3" y2="628" stroke="#555" stroke-width="0.8"/>
<line x1="20.5" y1="627.6" x2="23.3" y2="627.6" stroke="#444" stroke-width="0.6"/>
<text x="20.2" y="628.95" font-size="3.9" text-anchor="end" fill="#333" font-weight="bold">0.0</text>
<line x1="20.5" y1="617.53" x2="23.3" y2="617.53" stroke="#444" stroke-width="0.6"/>
<text x="20.2" y="618.88" font-size="3.9" text-anchor="end" fill="#333" font-weight="bold">0.2</text>
<line x1="20.5" y1="607.46" x2="23.3" y2="607.46" stroke="#444" stroke-width="0.6"/>
<text x="20.2" y="608.81" font-size="3.9" text-anchor="end" fill="#333" font-weight="bold">0.4</text>
<line x1="20.5" y1="597.39" x2="23.3" y2="597.39" stroke="#444" stroke-width="0.6"/>
<text x="20.2" y="598.74" font-size="3.9" text-anchor="end" fill="#333" font-weight="bold">0.6</text>
<line x1="20.5" y1="587.32" x2="23.3" y2="587.32" stroke="#444" stroke-width="0.6"/>
<text x="20.2" y="588.67" font-size="3.9" text-anchor="end" fill="#333" font-weight="bold">0.8</text>
<line x1="20.5" y1="577.25" x2="23.3" y2="577.25" stroke="#444" stroke-width="0.6"/>
<text x="20.2" y="578.6" font-size="3.9" text-anchor="end" fill="#333" font-weight="bold">1.0</text>
<text x="12.9" y="601.93" font-size="4.6" fill="#000" text-anchor="middle" transform="rotate(-90 12.9 601.93)" textLength="36.5" lengthAdjust="spacingAndGlyphs">relative abundance</text>
<line x1="22.9" y1="627.6" x2="275" y2="627.6" stroke="#222" stroke-width="0.85"/>
<line x1="23.3" y1="627.6" x2="23.3" y2="630" stroke="#222" stroke-width="0.8"/>
<line x1="28.11" y1="627.6" x2="28.11" y2="630" stroke="#222" stroke-width="0.8"/>
<line x1="32.93" y1="627.6" x2="32.93" y2="630" stroke="#222" stroke-width="0.8"/>
<line x1="37.74" y1="627.6" x2="37.74" y2="630" stroke="#222" stroke-width="0.8"/>
<line x1="42.55" y1="627.6" x2="42.55" y2="630" stroke="#222" stroke-width="0.8"/>
<line x1="47.37" y1="627.6" x2="47.37" y2="630" stroke="#222" stroke-width="0.8"/>
<line x1="52.18" y1="627.6" x2="52.18" y2="630" stroke="#222" stroke-width="0.8"/>
<line x1="56.99" y1="627.6" x2="56.99" y2="630" stroke="#222" stroke-width="0.8"/>
<line x1="61.81" y1="627.6" x2="61.81" y2="630" stroke="#222" stroke-width="0.8"/>
<line x1="66.62" y1="627.6" x2="66.62" y2="630" stroke="#222" stroke-width="0.8"/>
<line x1="71.43" y1="627.6" x2="71.43" y2="630" stroke="#222" stroke-width="0.8"/>
<line x1="76.25" y1="627.6" x2="76.25" y2="630" stroke="#222" stroke-width="0.8"/>
<line x1="81.06" y1="627.6" x2="81.06" y2="630" stroke="#222" stroke-width="0.8"/>
<line x1="85.88" y1="627.6" x2="85.88" y2="630" stroke="#222" stroke-width="0.8"/>
<line x1="90.69" y1="627.6" x2="90.69" y2="630" stroke="#222" stroke-width="0.8"/>
<line x1="95.5" y1="627.6" x2="95.5" y2="630" stroke="#222" stroke-width="0.8"/>
<line x1="100.32" y1="627.6" x2="100.32" y2="630" stroke="#222" stroke-width="0.8"/>
<line x1="105.13" y1="627.6" x2="105.13" y2="630" stroke="#222" stroke-width="0.8"/>
<line x1="109.94" y1="627.6" x2="109.94" y2="630" stroke="#222" stroke-width="0.8"/>
<line x1="114.76" y1="627.6" x2="114.76" y2="630" stroke="#222" stroke-width="0.8"/>
<line x1="119.57" y1="627.6" x2="119.57" y2="630" stroke="#222" stroke-width="0.8"/>
<line x1="124.38" y1="627.6" x2="124.38" y2="630" stroke="#222" stroke-width="0.8"/>
<line x1="129.2" y1="627.6" x2="129.2" y2="630" stroke="#222" stroke-width="0.8"/>
<line x1="134.01" y1="627.6" x2="134.01" y2="630" stroke="#222" stroke-width="0.8"/>
<line x1="138.82" y1="627.6" x2="138.82" y2="630" stroke="#222" stroke-width="0.8"/>
<line x1="143.64" y1="627.6" x2="143.64" y2="630" stroke="#222" stroke-width="0.8"/>
<line x1="148.45" y1="627.6" x2="148.45" y2="630" stroke="#222" stroke-width="0.8"/>
<line x1="153.26" y1="627.6" x2="153.26" y2="630" stroke="#222" stroke-width="0.8"/>
<line x1="158.08" y1="627.6" x2="158.08" y2="630" stroke="#222" stroke-width="0.8"/>
<line x1="162.89" y1="627.6" x2="162.89" y2="630" stroke="#222" stroke-width="0.8"/>
<line x1="167.7" y1="627.6" x2="167.7" y2="630" stroke="#222" stroke-width="0.8"/>
<line x1="172.52" y1="627.6" x2="172.52" y2="630" stroke="#222" stroke-width="0.8"/>
<line x1="177.33" y1="627.6" x2="177.33" y2="630" stroke="#222" stroke-width="0.8"/>
<line x1="182.14" y1="627.6" x2="182.14" y2="630" stroke="#222" stroke-width="0.8"/>
<line x1="186.96" y1="627.6" x2="186.96" y2="630" stroke="#222" stroke-width="0.8"/>
<line x1="191.77" y1="627.6" x2="191.77" y2="630" stroke="#222" stroke-width="0.8"/>
<line x1="196.58" y1="627.6" x2="196.58" y2="630" stroke="#222" stroke-width="0.8"/>
<line x1="201.4" y1="627.6" x2="201.4" y2="630" stroke="#222" stroke-width="0.8"/>
<line x1="206.21" y1="627.6" x2="206.21" y2="630" stroke="#222" stroke-width="0.8"/>
<line x1="211.03" y1="627.6" x2="211.03" y2="630" stroke="#222" stroke-width="0.8"/>
<line x1="215.84" y1="627.6" x2="215.84" y2="630" stroke="#222" stroke-width="0.8"/>
<line x1="220.65" y1="627.6" x2="220.65" y2="630" stroke="#222" stroke-width="0.8"/>
<line x1="225.47" y1="627.6" x2="225.47" y2="630" stroke="#222" stroke-width="0.8"/>
<line x1="230.28" y1="627.6" x2="230.28" y2="630" stroke="#222" stroke-width="0.8"/>
<line x1="235.09" y1="627.6" x2="235.09" y2="630" stroke="#222" stroke-width="0.8"/>
<line x1="239.91" y1="627.6" x2="239.91" y2="630" stroke="#222" stroke-width="0.8"/>
<line x1="244.72" y1="627.6" x2="244.72" y2="630" stroke="#222" stroke-width="0.8"/>
<line x1="249.53" y1="627.6" x2="249.53" y2="630" stroke="#222" stroke-width="0.8"/>
<line x1="254.35" y1="627.6" x2="254.35" y2="630" stroke="#222" stroke-width="0.8"/>
<line x1="259.16" y1="627.6" x2="259.16" y2="630" stroke="#222" stroke-width="0.8"/>
<line x1="263.97" y1="627.6" x2="263.97" y2="630" stroke="#222" stroke-width="0.8"/>
<line x1="268.79" y1="627.6" x2="268.79" y2="630" stroke="#222" stroke-width="0.8"/>
<line x1="273.6" y1="627.6" x2="273.6" y2="630" stroke="#222" stroke-width="0.8"/>
<g font-size="3.4" font-weight="bold" fill="#222" text-anchor="middle"><text x="22.4" y="634.3" transform="rotate(-45 22.4 633.1)">d0</text><text x="27.21" y="634.3" transform="rotate(-45 27.21 633.1)">d0</text><text x="32.03" y="634.3" transform="rotate(-45 32.03 633.1)">d0</text><text x="36.84" y="634.3" transform="rotate(-45 36.84 633.1)">d0</text><text x="41.65" y="634.3" transform="rotate(-45 41.65 633.1)">d0</text><text x="46.47" y="634.3" transform="rotate(-45 46.47 633.1)">d0</text><text x="51.28" y="634.3" transform="rotate(-45 51.28 633.1)">d0</text><text x="56.09" y="634.3" transform="rotate(-45 56.09 633.1)">d0</text><text x="60.91" y="634.3" transform="rotate(-45 60.91 633.1)">d0</text><text x="65.72" y="634.3" transform="rotate(-45 65.72 633.1)">d0</text><text x="70.53" y="634.3" transform="rotate(-45 70.53 633.1)">d0</text><text x="75.35" y="634.3" transform="rotate(-45 75.35 633.1)">d0</text><text x="80.16" y="634.3" transform="rotate(-45 80.16 633.1)">d0</text><text x="84.97" y="634.3" transform="rotate(-45 84.97 633.1)">d0</text><text x="89.79" y="634.3" transform="rotate(-45 89.79 633.1)">d0</text><text x="94.6" y="634.3" transform="rotate(-45 94.6 633.1)">d0</text><text x="99.42" y="634.3" transform="rotate(-45 99.42 633.1)">d0</text><text x="104.23" y="634.3" transform="rotate(-45 104.23 633.1)">d0</text><text x="109.04" y="634.3" transform="rotate(-45 109.04 633.1)">d0</text><text x="113.86" y="634.3" transform="rotate(-45 113.86 633.1)">7</text><text x="118.67" y="634.3" transform="rotate(-45 118.67 633.1)">7</text><text x="123.48" y="634.3" transform="rotate(-45 123.48 633.1)">7</text><text x="128.3" y="634.3" transform="rotate(-45 128.3 633.1)">7</text><text x="133.11" y="634.3" transform="rotate(-45 133.11 633.1)">7</text><text x="137.92" y="634.3" transform="rotate(-45 137.92 633.1)">7</text><text x="142.74" y="634.3" transform="rotate(-45 142.74 633.1)">7</text><text x="147.55" y="634.3" transform="rotate(-45 147.55 633.1)">7</text><text x="152.36" y="634.3" transform="rotate(-45 152.36 633.1)">7</text><text x="157.18" y="634.3" transform="rotate(-45 157.18 633.1)">7</text><text x="161.99" y="634.3" transform="rotate(-45 161.99 633.1)">7</text><text x="166.8" y="634.3" transform="rotate(-45 166.8 633.1)">7</text><text x="171.62" y="634.3" transform="rotate(-45 171.62 633.1)">7</text><text x="176.43" y="634.3" transform="rotate(-45 176.43 633.1)">7</text><text x="181.24" y="634.3" transform="rotate(-45 181.24 633.1)">7</text><text x="186.06" y="634.3" transform="rotate(-45 186.06 633.1)">7</text><text x="190.87" y="634.3" transform="rotate(-45 190.87 633.1)">7</text><text x="195.68" y="634.3" transform="rotate(-45 195.68 633.1)">d35</text><text x="200.5" y="634.3" transform="rotate(-45 200.5 633.1)">d35</text><text x="205.31" y="634.3" transform="rotate(-45 205.31 633.1)">d35</text><text x="210.13" y="634.3" transform="rotate(-45 210.13 633.1)">d35</text><text x="214.94" y="634.3" transform="rotate(-45 214.94 633.1)">d35</text><text x="219.75" y="634.3" transform="rotate(-45 219.75 633.1)">d35</text><text x="224.57" y="634.3" transform="rotate(-45 224.57 633.1)">d35</text><text x="229.38" y="634.3" transform="rotate(-45 229.38 633.1)">d35</text><text x="234.19" y="634.3" transform="rotate(-45 234.19 633.1)">d35</text><text x="239.01" y="634.3" transform="rotate(-45 239.01 633.1)">d35</text><text x="243.82" y="634.3" transform="rotate(-45 243.82 633.1)">d35</text><text x="248.63" y="634.3" transform="rotate(-45 248.63 633.1)">d35</text><text x="253.45" y="634.3" transform="rotate(-45 253.45 633.1)">d35</text><text x="258.26" y="634.3" transform="rotate(-45 258.26 633.1)">d35</text><text x="263.07" y="634.3" transform="rotate(-45 263.07 633.1)">d35</text><text x="267.89" y="634.3" transform="rotate(-45 267.89 633.1)">d35</text><text x="272.7" y="634.3" transform="rotate(-45 272.7 633.1)">d35</text></g>
<text x="152.8" y="643.2" font-size="8.2" text-anchor="middle" fill="#111" font-weight="bold">Day</text>
<rect x="206.3" y="572.7" width="5.2" height="2.3" fill="#2a55b0"/>
<text x="214.5" y="575.45" font-size="4.7" fill="#222" textLength="64.6" lengthAdjust="spacingAndGlyphs">unclassified Muribaculaceae family</text>
<rect x="206.3" y="579.7" width="5.2" height="2.3" fill="#5fc090"/>
<text x="214.5" y="582.45" font-size="4.7" fill="#222" textLength="49.7" lengthAdjust="spacingAndGlyphs">Oscillospiraceae_UCG-005</text>
<g fill="#2a55b0"><rect x="25" y="625.59" width="1.0" height="2.01"/><rect x="31" y="625.08" width="1.0" height="2.52"/><rect x="34" y="626.59" width="1.0" height="1.01"/><rect x="46" y="625.59" width="1.0" height="2.01"/><rect x="56" y="625.08" width="1.0" height="2.52"/><rect x="65" y="616.52" width="1.0" height="11.08"/><rect x="72" y="623.57" width="1.0" height="4.03"/><rect x="73.5" y="625.08" width="1.0" height="2.52"/><rect x="75" y="625.08" width="1.0" height="2.52"/><rect x="78" y="626.09" width="1.0" height="1.51"/><rect x="84" y="625.08" width="1.0" height="2.52"/><rect x="86" y="625.59" width="1.0" height="2.01"/><rect x="90" y="620.55" width="1.0" height="7.05"/><rect x="91.5" y="615.52" width="1.0" height="12.08"/><rect x="92.5" y="619.04" width="1.0" height="8.56"/><rect x="93.5" y="622.57" width="1.0" height="5.04"/><rect x="95" y="625.08" width="1.0" height="2.52"/><rect x="97" y="625.08" width="1.0" height="2.52"/><rect x="103" y="625.08" width="1.0" height="2.52"/><rect x="104.5" y="624.58" width="1.0" height="3.02"/><rect x="106" y="625.08" width="1.0" height="2.52"/><rect x="112" y="612.5" width="1.0" height="15.11"/><rect x="140" y="626.59" width="1.0" height="1.01"/><rect x="60" y="626.09" width="1.0" height="1.51"/><rect x="68" y="626.09" width="1.0" height="1.51"/><rect x="196" y="616.63" width="1.0" height="10.97"/><rect x="197" y="615.03" width="1.0" height="12.57"/><rect x="198" y="617.53" width="1.0" height="10.07"/><rect x="199" y="617.97" width="1.0" height="9.63"/><rect x="203.3" y="614.51" width="1.0" height="13.09"/><rect x="214" y="620.87" width="1.0" height="6.73"/><rect x="215" y="627.02" width="1.0" height="0.58"/><rect x="216" y="621.87" width="1.0" height="5.73"/><rect x="217" y="622.3" width="1.0" height="5.3" fill-opacity="0.76"/><rect x="218" y="623.67" width="1.0" height="3.93"/><rect x="220" y="622.96" width="1.0" height="4.64" fill-opacity="0.58"/><rect x="221" y="625.68" width="1.0" height="1.92" fill-opacity="0.64"/><rect x="223" y="623.62" width="1.0" height="3.98"/><rect x="224" y="624.84" width="1.0" height="2.76" fill-opacity="0.49"/><rect x="225" y="621.93" width="1.0" height="5.67"/><rect x="226" y="621.86" width="1.0" height="5.74"/><rect x="227" y="622" width="1.0" height="5.6" fill-opacity="0.66"/><rect x="228" y="620.34" width="1.0" height="7.26" fill-opacity="0.64"/><rect x="229" y="618.67" width="1.0" height="8.93"/><rect x="230" y="621.14" width="1.0" height="6.46"/><rect x="231" y="619.37" width="1.0" height="8.23" fill-opacity="0.68"/><rect x="232" y="618.37" width="1.0" height="9.23"/><rect x="233" y="620.27" width="1.0" height="7.33"/><rect x="234" y="623.54" width="1.0" height="4.06"/><rect x="235" y="623.82" width="1.0" height="3.78" fill-opacity="0.85"/><rect x="236" y="616.45" width="1.0" height="11.15"/><rect x="237" y="615.79" width="1.0" height="11.81" fill-opacity="0.64"/><rect x="238" y="614.55" width="1.0" height="13.05" fill-opacity="0.81"/><rect x="239" y="622.22" width="1.0" height="5.38"/><rect x="240" y="614.06" width="1.0" height="13.54"/><rect x="241" y="621.8" width="1.0" height="5.8" fill-opacity="0.67"/><rect x="242" y="618.02" width="1.0" height="9.58"/><rect x="243" y="617.26" width="1.0" height="10.34"/><rect x="244" y="612.65" width="1.0" height="14.95" fill-opacity="0.74"/><rect x="245" y="612.28" width="1.0" height="15.32"/><rect x="246" y="610.54" width="1.0" height="17.06" fill-opacity="0.55"/><rect x="247" y="612.39" width="1.0" height="15.21"/><rect x="248" y="605.6" width="1.0" height="22" fill-opacity="0.57"/><rect x="249" y="610.2" width="1.0" height="17.4"/><rect x="250" y="613.96" width="1.0" height="13.64" fill-opacity="0.66"/><rect x="251" y="607.43" width="1.0" height="20.17"/><rect x="252" y="609.31" width="1.0" height="18.29"/><rect x="253" y="611.22" width="1.0" height="16.38"/><rect x="254" y="607.47" width="1.0" height="20.13"/><rect x="255" y="613.59" width="1.0" height="14.01" fill-opacity="0.65"/><rect x="256" y="606.56" width="1.0" height="21.04" fill-opacity="0.82"/><rect x="257" y="607.83" width="1.0" height="19.77"/><rect x="258" y="612.41" width="1.0" height="15.19"/><rect x="259" y="614.07" width="1.0" height="13.53"/><rect x="260" y="608.93" width="1.0" height="18.67"/><rect x="261" y="613.37" width="1.0" height="14.23"/><rect x="262" y="612.79" width="1.0" height="14.81"/><rect x="263" y="613.47" width="1.0" height="14.13" fill-opacity="0.68"/><rect x="264" y="610.56" width="1.0" height="17.04"/><rect x="265" y="606.52" width="1.0" height="21.08"/><rect x="266" y="613.42" width="1.0" height="14.18"/><rect x="267" y="613.2" width="1.0" height="14.4"/><rect x="268" y="613.53" width="1.0" height="14.07"/><rect x="269" y="610.64" width="1.0" height="16.96"/><rect x="270" y="607.78" width="1.0" height="19.82"/><rect x="271" y="606.94" width="1.0" height="20.66"/><rect x="272" y="606.15" width="1.0" height="21.45"/><rect x="273" y="611.42" width="1.0" height="16.18"/><rect x="274" y="613.66" width="1.0" height="13.94"/><rect x="258.3" y="592.36" width="1.0" height="35.24"/></g>
<g fill="#5fc090"><rect x="25" y="626.59" width="1.0" height="1.01"/><rect x="31" y="626.09" width="1.0" height="1.51"/><rect x="34" y="627.1" width="1.0" height="0.5"/><rect x="46" y="626.59" width="1.0" height="1.01"/><rect x="56" y="626.09" width="1.0" height="1.51"/><rect x="65" y="618.03" width="1.0" height="9.57"/><rect x="72" y="626.09" width="1.0" height="1.51"/><rect x="73.5" y="626.09" width="1.0" height="1.51"/><rect x="75" y="626.09" width="1.0" height="1.51"/><rect x="78" y="626.59" width="1.0" height="1.01"/><rect x="84" y="626.09" width="1.0" height="1.51"/><rect x="86" y="626.59" width="1.0" height="1.01"/><rect x="90" y="625.08" width="1.0" height="2.52"/><rect x="91.5" y="622.57" width="1.0" height="5.04"/><rect x="92.5" y="620.55" width="1.0" height="7.05"/><rect x="93.5" y="624.58" width="1.0" height="3.02"/><rect x="95" y="625.59" width="1.0" height="2.01"/><rect x="97" y="626.59" width="1.0" height="1.01"/><rect x="103" y="626.09" width="1.0" height="1.51"/><rect x="104.5" y="625.59" width="1.0" height="2.01"/><rect x="106" y="626.59" width="1.0" height="1.01"/><rect x="112" y="619.04" width="1.0" height="8.56"/><rect x="140" y="627.1" width="1.0" height="0.5"/><rect x="60" y="626.59" width="1.0" height="1.01"/><rect x="68" y="626.59" width="1.0" height="1.01"/><rect x="196" y="620.13" width="1.0" height="7.47"/><rect x="197" y="620.44" width="1.0" height="7.16" fill-opacity="0.46"/><rect x="198" y="620.31" width="1.0" height="7.29"/><rect x="199" y="620.01" width="1.0" height="7.59"/><rect x="203.3" y="619.04" width="1.0" height="8.56"/><rect x="213" y="622.91" width="1.0" height="4.69" fill-opacity="0.73"/><rect x="214" y="624.15" width="1.0" height="3.45"/><rect x="217" y="622.25" width="1.0" height="5.35"/><rect x="219" y="623.86" width="1.0" height="3.74"/><rect x="221" y="623.18" width="1.0" height="4.42" fill-opacity="0.7"/><rect x="222" y="626.25" width="1.0" height="1.35"/><rect x="223" y="624.77" width="1.0" height="2.83"/><rect x="224" y="625.45" width="1.0" height="2.15" fill-opacity="0.79"/><rect x="226" y="622.79" width="1.0" height="4.81"/><rect x="227" y="623.71" width="1.0" height="3.89" fill-opacity="0.52"/><rect x="228" y="624.39" width="1.0" height="3.21"/><rect x="229" y="622.21" width="1.0" height="5.39" fill-opacity="0.58"/><rect x="230" y="626.46" width="1.0" height="1.14"/><rect x="232" y="624.93" width="1.0" height="2.67"/><rect x="233" y="623.91" width="1.0" height="3.69"/><rect x="234" y="623.13" width="1.0" height="4.47"/><rect x="235" y="626.54" width="1.0" height="1.06"/><rect x="236" y="620.04" width="1.0" height="7.56"/><rect x="237" y="620.35" width="1.0" height="7.25"/><rect x="238" y="618.58" width="1.0" height="9.02"/><rect x="239" y="621.34" width="1.0" height="6.26"/><rect x="240" y="619.44" width="1.0" height="8.16"/><rect x="241" y="621.32" width="1.0" height="6.28"/><rect x="242" y="621.29" width="1.0" height="6.31"/><rect x="243" y="624.53" width="1.0" height="3.07"/><rect x="244" y="619.56" width="1.0" height="8.04"/><rect x="245" y="618.53" width="1.0" height="9.07"/><rect x="246" y="618.76" width="1.0" height="8.84"/><rect x="247" y="619.14" width="1.0" height="8.46"/><rect x="248" y="616.48" width="1.0" height="11.12"/><rect x="249" y="618.29" width="1.0" height="9.31"/><rect x="250" y="617.51" width="1.0" height="10.09"/><rect x="251" y="616.06" width="1.0" height="11.54"/><rect x="252" y="619.28" width="1.0" height="8.32"/><rect x="253" y="618.59" width="1.0" height="9.01"/><rect x="254" y="618.74" width="1.0" height="8.86"/><rect x="255" y="620.02" width="1.0" height="7.58"/><rect x="256" y="618.33" width="1.0" height="9.27" fill-opacity="0.59"/><rect x="257" y="618.59" width="1.0" height="9.01"/><rect x="258" y="616.13" width="1.0" height="11.47"/><rect x="259" y="619.58" width="1.0" height="8.02"/><rect x="260" y="616.54" width="1.0" height="11.06"/><rect x="261" y="616.12" width="1.0" height="11.48"/><rect x="262" y="619.69" width="1.0" height="7.91"/><rect x="263" y="618.62" width="1.0" height="8.98" fill-opacity="0.72"/><rect x="264" y="618.13" width="1.0" height="9.47"/><rect x="265" y="615.78" width="1.0" height="11.82"/><rect x="266" y="618.4" width="1.0" height="9.2"/><rect x="267" y="617.18" width="1.0" height="10.42"/><rect x="268" y="616.78" width="1.0" height="10.82"/><rect x="269" y="618.05" width="1.0" height="9.55" fill-opacity="0.8"/><rect x="270" y="619.02" width="1.0" height="8.58"/><rect x="271" y="616.91" width="1.0" height="10.69"/><rect x="272" y="616.16" width="1.0" height="11.44"/><rect x="273" y="615.62" width="1.0" height="11.98"/><rect x="274" y="619.91" width="1.0" height="7.69" fill-opacity="0.55"/><rect x="258.3" y="593.87" width="1.0" height="33.73"/></g>
<text x="310.4" y="188" font-size="9.2" text-anchor="start" fill="#111" font-weight="bold">h</text>
<g stroke="#e6e6e6" stroke-width="0.55"><line x1="397.2" y1="194.1" x2="397.2" y2="420.4"/><line x1="419.2" y1="194.1" x2="419.2" y2="420.4"/><line x1="441.2" y1="194.1" x2="441.2" y2="420.4"/><line x1="463.2" y1="194.1" x2="463.2" y2="420.4"/><line x1="485.2" y1="194.1" x2="485.2" y2="420.4"/><line x1="507.2" y1="194.1" x2="507.2" y2="420.4"/><line x1="529.2" y1="194.1" x2="529.2" y2="420.4"/><line x1="551.2" y1="194.1" x2="551.2" y2="420.4"/><line x1="573.2" y1="194.1" x2="573.2" y2="420.4"/><line x1="595.2" y1="194.1" x2="595.2" y2="420.4"/><line x1="387.6" y1="201" x2="596.5" y2="201"/><line x1="387.6" y1="212.22" x2="596.5" y2="212.22"/><line x1="387.6" y1="223.43" x2="596.5" y2="223.43"/><line x1="387.6" y1="234.65" x2="596.5" y2="234.65"/><line x1="387.6" y1="245.86" x2="596.5" y2="245.86"/><line x1="387.6" y1="257.08" x2="596.5" y2="257.08"/><line x1="387.6" y1="268.3" x2="596.5" y2="268.3"/><line x1="387.6" y1="279.51" x2="596.5" y2="279.51"/><line x1="387.6" y1="290.73" x2="596.5" y2="290.73"/><line x1="387.6" y1="301.94" x2="596.5" y2="301.94"/><line x1="387.6" y1="313.16" x2="596.5" y2="313.16"/><line x1="387.6" y1="324.38" x2="596.5" y2="324.38"/><line x1="387.6" y1="335.59" x2="596.5" y2="335.59"/><line x1="387.6" y1="346.81" x2="596.5" y2="346.81"/><line x1="387.6" y1="358.02" x2="596.5" y2="358.02"/><line x1="387.6" y1="369.24" x2="596.5" y2="369.24"/><line x1="387.6" y1="380.46" x2="596.5" y2="380.46"/><line x1="387.6" y1="391.67" x2="596.5" y2="391.67"/><line x1="387.6" y1="402.89" x2="596.5" y2="402.89"/><line x1="387.6" y1="414.1" x2="596.5" y2="414.1"/></g>
<g fill="#7e7e80" stroke="#1e1e1e" stroke-width="0.85"><rect x="397.2" y="198.3" width="190.5" height="5.4"/><rect x="397.2" y="209.52" width="165.7" height="5.4"/><rect x="397.2" y="220.73" width="153.7" height="5.4"/><rect x="397.2" y="231.95" width="126.5" height="5.4"/><rect x="397.2" y="243.16" width="111.5" height="5.4"/><rect x="397.2" y="254.38" width="105.2" height="5.4"/><rect x="397.2" y="265.6" width="102.6" height="5.4"/><rect x="397.2" y="276.81" width="102" height="5.4"/><rect x="397.2" y="288.03" width="87" height="5.4"/><rect x="397.2" y="299.24" width="84.4" height="5.4"/><rect x="397.2" y="310.46" width="77.4" height="5.4"/><rect x="397.2" y="321.68" width="70.7" height="5.4"/><rect x="397.2" y="332.89" width="62.8" height="5.4"/><rect x="397.2" y="344.11" width="56.7" height="5.4"/><rect x="397.2" y="355.32" width="53.2" height="5.4"/><rect x="397.2" y="366.54" width="51.7" height="5.4"/><rect x="397.2" y="377.76" width="43.8" height="5.4"/><rect x="397.2" y="388.97" width="43.5" height="5.4"/><rect x="397.2" y="400.19" width="41.5" height="5.4"/><rect x="397.2" y="411.4" width="39.4" height="5.4"/></g>
<rect x="387.6" y="194.1" width="208.9" height="226.3" fill="none" stroke="#7a7a7a" stroke-width="0.9"/>
<line x1="386.2" y1="201" x2="387.6" y2="201" stroke="#555" stroke-width="0.5"/>
<line x1="386.2" y1="212.22" x2="387.6" y2="212.22" stroke="#555" stroke-width="0.5"/>
<line x1="386.2" y1="223.43" x2="387.6" y2="223.43" stroke="#555" stroke-width="0.5"/>
<line x1="386.2" y1="234.65" x2="387.6" y2="234.65" stroke="#555" stroke-width="0.5"/>
<line x1="386.2" y1="245.86" x2="387.6" y2="245.86" stroke="#555" stroke-width="0.5"/>
<line x1="386.2" y1="257.08" x2="387.6" y2="257.08" stroke="#555" stroke-width="0.5"/>
<line x1="386.2" y1="268.3" x2="387.6" y2="268.3" stroke="#555" stroke-width="0.5"/>
<line x1="386.2" y1="279.51" x2="387.6" y2="279.51" stroke="#555" stroke-width="0.5"/>
<line x1="386.2" y1="290.73" x2="387.6" y2="290.73" stroke="#555" stroke-width="0.5"/>
<line x1="386.2" y1="301.94" x2="387.6" y2="301.94" stroke="#555" stroke-width="0.5"/>
<line x1="386.2" y1="313.16" x2="387.6" y2="313.16" stroke="#555" stroke-width="0.5"/>
<line x1="386.2" y1="324.38" x2="387.6" y2="324.38" stroke="#555" stroke-width="0.5"/>
<line x1="386.2" y1="335.59" x2="387.6" y2="335.59" stroke="#555" stroke-width="0.5"/>
<line x1="386.2" y1="346.81" x2="387.6" y2="346.81" stroke="#555" stroke-width="0.5"/>
<line x1="386.2" y1="358.02" x2="387.6" y2="358.02" stroke="#555" stroke-width="0.5"/>
<line x1="386.2" y1="369.24" x2="387.6" y2="369.24" stroke="#555" stroke-width="0.5"/>
<line x1="386.2" y1="380.46" x2="387.6" y2="380.46" stroke="#555" stroke-width="0.5"/>
<line x1="386.2" y1="391.67" x2="387.6" y2="391.67" stroke="#555" stroke-width="0.5"/>
<line x1="386.2" y1="402.89" x2="387.6" y2="402.89" stroke="#555" stroke-width="0.5"/>
<line x1="386.2" y1="414.1" x2="387.6" y2="414.1" stroke="#555" stroke-width="0.5"/>
<g font-size="5.1" fill="#2a2a2a"><text x="386.9" y="202.8" text-anchor="end" textLength="67.9" lengthAdjust="spacingAndGlyphs">Eubacterium_oxidoreducens_group</text><text x="386.9" y="214.02" text-anchor="end" textLength="32" lengthAdjust="spacingAndGlyphs">Parabacteroides</text><text x="386.9" y="225.23" text-anchor="end" textLength="34.1" lengthAdjust="spacingAndGlyphs">Syntrophococcus</text><text x="386.9" y="236.45" text-anchor="end" textLength="64.4" lengthAdjust="spacingAndGlyphs">Ruminococcus_gauvreauii_group</text><text x="386.9" y="247.66" text-anchor="end" textLength="18.9" lengthAdjust="spacingAndGlyphs">Olsenella</text><text x="386.9" y="258.88" text-anchor="end" textLength="56.9" lengthAdjust="spacingAndGlyphs">Oscillospiraceae_UCG-005</text><text x="386.9" y="270.1" text-anchor="end" textLength="28.5" lengthAdjust="spacingAndGlyphs">Catenisphaera</text><text x="386.9" y="281.31" text-anchor="end" textLength="36.4" lengthAdjust="spacingAndGlyphs">Pseudoramibacter</text><text x="386.9" y="292.53" text-anchor="end" textLength="16.9" lengthAdjust="spacingAndGlyphs">Sharpea</text><text x="386.9" y="303.74" text-anchor="end" textLength="57.7" lengthAdjust="spacingAndGlyphs">Eubacterium_nodatum_group</text><text x="386.9" y="314.96" text-anchor="end" textLength="24.1" lengthAdjust="spacingAndGlyphs">Coprobacter</text><text x="386.9" y="326.18" text-anchor="end" textLength="69.4" lengthAdjust="spacingAndGlyphs">unclassified Lachnospiraceae family</text><text x="386.9" y="337.39" text-anchor="end" textLength="30" lengthAdjust="spacingAndGlyphs">Negativibacillus</text><text x="386.9" y="348.61" text-anchor="end" textLength="72.3" lengthAdjust="spacingAndGlyphs">unclassified Ruminococcaceae family</text><text x="386.9" y="359.82" text-anchor="end" textLength="27" lengthAdjust="spacingAndGlyphs">Acinetobacter</text><text x="386.9" y="371.04" text-anchor="end" textLength="75.2" lengthAdjust="spacingAndGlyphs">Eubacterium_coprostanoligenes_group</text><text x="386.9" y="382.26" text-anchor="end" textLength="28.5" lengthAdjust="spacingAndGlyphs">Pseudomonas</text><text x="386.9" y="393.47" text-anchor="end" textLength="23.3" lengthAdjust="spacingAndGlyphs">Odoribacter</text><text x="386.9" y="404.69" text-anchor="end" textLength="65.9" lengthAdjust="spacingAndGlyphs">unclassified Muribaculaceae family</text><text x="386.9" y="415.9" text-anchor="end" textLength="26.2" lengthAdjust="spacingAndGlyphs">Alloprevotella</text></g>
<line x1="397.2" y1="420.4" x2="397.2" y2="421.8" stroke="#555" stroke-width="0.5"/>
<text x="397.2" y="425.6" font-size="3.6" text-anchor="middle" fill="#444">0</text>
<line x1="441.2" y1="420.4" x2="441.2" y2="421.8" stroke="#555" stroke-width="0.5"/>
<text x="441.2" y="425.6" font-size="3.6" text-anchor="middle" fill="#444">10000</text>
<line x1="485.2" y1="420.4" x2="485.2" y2="421.8" stroke="#555" stroke-width="0.5"/>
<text x="485.2" y="425.6" font-size="3.6" text-anchor="middle" fill="#444">20000</text>
<line x1="529.2" y1="420.4" x2="529.2" y2="421.8" stroke="#555" stroke-width="0.5"/>
<text x="529.2" y="425.6" font-size="3.6" text-anchor="middle" fill="#444">30000</text>
<line x1="573.2" y1="420.4" x2="573.2" y2="421.8" stroke="#555" stroke-width="0.5"/>
<text x="573.2" y="425.6" font-size="3.6" text-anchor="middle" fill="#444">40000</text>
<text x="447.7" y="433.6" font-size="6.9" fill="#222" textLength="108.4" lengthAdjust="spacingAndGlyphs">Increase in mean squared error (%)</text>
<text x="313.6" y="434.8" font-size="10" text-anchor="start" fill="#111" font-weight="bold">i</text>
<line x1="325.8" y1="441.6" x2="325.8" y2="634.4" stroke="#555" stroke-width="0.9"/>
<line x1="325.35" y1="633.9" x2="589.8" y2="633.9" stroke="#555" stroke-width="0.9"/>
<line x1="323.4" y1="625.6" x2="325.8" y2="625.6" stroke="#555" stroke-width="0.8"/>
<text x="322.8" y="628.6" font-size="8.5" text-anchor="end" fill="#4d4d4d">0</text>
<line x1="337.7" y1="633.9" x2="337.7" y2="636.3" stroke="#555" stroke-width="0.8"/>
<text x="337.7" y="643.2" font-size="8.5" text-anchor="middle" fill="#4d4d4d">0</text>
<line x1="323.4" y1="575.5" x2="325.8" y2="575.5" stroke="#555" stroke-width="0.8"/>
<text x="322.8" y="578.5" font-size="8.5" text-anchor="end" fill="#4d4d4d">20</text>
<line x1="406.26" y1="633.9" x2="406.26" y2="636.3" stroke="#555" stroke-width="0.8"/>
<text x="406.26" y="643.2" font-size="8.5" text-anchor="middle" fill="#4d4d4d">20</text>
<line x1="323.4" y1="525.4" x2="325.8" y2="525.4" stroke="#555" stroke-width="0.8"/>
<text x="322.8" y="528.4" font-size="8.5" text-anchor="end" fill="#4d4d4d">40</text>
<line x1="474.82" y1="633.9" x2="474.82" y2="636.3" stroke="#555" stroke-width="0.8"/>
<text x="474.82" y="643.2" font-size="8.5" text-anchor="middle" fill="#4d4d4d">40</text>
<line x1="323.4" y1="475.3" x2="325.8" y2="475.3" stroke="#555" stroke-width="0.8"/>
<text x="322.8" y="478.3" font-size="8.5" text-anchor="end" fill="#4d4d4d">60</text>
<line x1="543.38" y1="633.9" x2="543.38" y2="636.3" stroke="#555" stroke-width="0.8"/>
<text x="543.38" y="643.2" font-size="8.5" text-anchor="middle" fill="#4d4d4d">60</text>
<text x="458" y="652.8" font-size="9.05" text-anchor="middle" fill="#1a1a1a">Chronological age (days)</text>
<text x="310.4" y="537.3" font-size="8.9" text-anchor="middle" fill="#1a1a1a" transform="rotate(-90 310.4 537.3)">Microbiome age (days)</text>
<g fill="#7f7f7f"><circle cx="337.7" cy="625.35" r="2.25"/><circle cx="337.7" cy="623.1" r="2.25"/><circle cx="337.7" cy="620.84" r="2.25"/><circle cx="337.7" cy="618.59" r="2.25"/><circle cx="337.7" cy="616.33" r="2.25"/><circle cx="337.7" cy="614.08" r="2.25"/><circle cx="337.7" cy="611.82" r="2.25"/><circle cx="337.7" cy="609.57" r="2.25"/><circle cx="337.7" cy="607.31" r="2.25"/><circle cx="337.7" cy="605.06" r="2.25"/><circle cx="337.7" cy="591.28" r="2.25"/><circle cx="337.7" cy="586.02" r="2.25"/><circle cx="361.7" cy="617.58" r="2.25"/><circle cx="361.7" cy="615.3" r="2.25"/><circle cx="361.7" cy="613.01" r="2.25"/><circle cx="361.7" cy="610.72" r="2.25"/><circle cx="361.7" cy="608.43" r="2.25"/><circle cx="361.7" cy="606.14" r="2.25"/><circle cx="361.7" cy="603.86" r="2.25"/><circle cx="361.7" cy="601.57" r="2.25"/><circle cx="361.7" cy="599.28" r="2.25"/><circle cx="361.7" cy="596.99" r="2.25"/><circle cx="361.7" cy="594.71" r="2.25"/><circle cx="361.7" cy="592.42" r="2.25"/><circle cx="361.7" cy="590.13" r="2.25"/><circle cx="361.7" cy="587.84" r="2.25"/><circle cx="361.7" cy="585.55" r="2.25"/><circle cx="361.7" cy="583.27" r="2.25"/><circle cx="361.7" cy="575" r="2.25"/><circle cx="457.68" cy="502.86" r="2.25"/><circle cx="457.68" cy="500.35" r="2.25"/><circle cx="457.68" cy="497.85" r="2.25"/><circle cx="457.68" cy="495.34" r="2.25"/><circle cx="457.68" cy="518.64" r="2.25"/><circle cx="457.68" cy="516.55" r="2.25"/><circle cx="457.68" cy="514.46" r="2.25"/><circle cx="457.68" cy="512.37" r="2.25"/><circle cx="457.68" cy="510.29" r="2.25"/><circle cx="457.68" cy="508.2" r="2.25"/><circle cx="457.68" cy="506.11" r="2.25"/><circle cx="457.68" cy="541.68" r="2.25"/><circle cx="457.68" cy="539.46" r="2.25"/><circle cx="457.68" cy="537.24" r="2.25"/><circle cx="457.68" cy="535.01" r="2.25"/><circle cx="457.68" cy="532.79" r="2.25"/><circle cx="457.68" cy="530.57" r="2.25"/><circle cx="457.68" cy="528.34" r="2.25"/><circle cx="457.68" cy="526.12" r="2.25"/><circle cx="457.68" cy="523.9" r="2.25"/><circle cx="457.68" cy="548.2" r="2.25"/><circle cx="457.68" cy="545.94" r="2.25"/><circle cx="457.68" cy="557.71" r="2.25"/><circle cx="457.68" cy="555.38" r="2.25"/><circle cx="457.68" cy="553.04" r="2.25"/><circle cx="457.68" cy="550.7" r="2.25"/><circle cx="457.68" cy="565.73" r="2.25"/><circle cx="457.68" cy="563.73" r="2.25"/><circle cx="457.68" cy="561.72" r="2.25"/><circle cx="457.68" cy="559.72" r="2.25"/><circle cx="529.67" cy="471.54" r="2.25"/><circle cx="529.67" cy="475.3" r="2.25"/><circle cx="529.67" cy="503.11" r="2.25"/><circle cx="529.67" cy="500.93" r="2.25"/><circle cx="529.67" cy="498.75" r="2.25"/><circle cx="529.67" cy="496.57" r="2.25"/><circle cx="529.67" cy="494.39" r="2.25"/><circle cx="529.67" cy="492.21" r="2.25"/><circle cx="529.67" cy="490.03" r="2.25"/><circle cx="529.67" cy="487.85" r="2.25"/><circle cx="529.67" cy="485.67" r="2.25"/><circle cx="529.67" cy="483.49" r="2.25"/><circle cx="529.67" cy="481.31" r="2.25"/><circle cx="529.67" cy="510.37" r="2.25"/><circle cx="529.67" cy="519.39" r="2.25"/><circle cx="577.66" cy="494.09" r="2.25"/><circle cx="577.66" cy="491.86" r="2.25"/><circle cx="577.66" cy="489.63" r="2.25"/><circle cx="577.66" cy="487.4" r="2.25"/><circle cx="577.66" cy="485.17" r="2.25"/><circle cx="577.66" cy="482.94" r="2.25"/><circle cx="577.66" cy="480.71" r="2.25"/><circle cx="577.66" cy="478.48" r="2.25"/><circle cx="577.66" cy="476.25" r="2.25"/><circle cx="577.66" cy="474.02" r="2.25"/><circle cx="577.66" cy="471.79" r="2.25"/><circle cx="577.66" cy="469.56" r="2.25"/><circle cx="577.66" cy="467.33" r="2.25"/><circle cx="577.66" cy="465.1" r="2.25"/><circle cx="577.66" cy="462.88" r="2.25"/><circle cx="577.66" cy="460.65" r="2.25"/><circle cx="577.66" cy="458.42" r="2.25"/><circle cx="577.66" cy="456.19" r="2.25"/><circle cx="577.66" cy="453.96" r="2.25"/><circle cx="577.66" cy="451.73" r="2.25"/><circle cx="577.66" cy="449.5" r="2.25"/></g>
<path d="M337.7 624.6 L339.07 623.53 L340.85 622.11 L342.95 620.43 L345.3 618.55 L347.83 616.54 L350.48 614.47 L353.15 612.42 L355.79 610.45 L358.32 608.64 L360.67 607.06 L362.91 605.68 L365.17 604.39 L367.44 603.19 L369.7 602.06 L371.94 600.97 L374.14 599.93 L376.28 598.9 L378.36 597.88 L380.36 596.85 L382.26 595.79 L384.06 594.74 L385.76 593.72 L387.38 592.73 L388.93 591.75 L390.43 590.78 L391.89 589.8 L393.33 588.79 L394.77 587.75 L396.22 586.66 L397.69 585.52 L399.16 584.32 L400.6 583.07 L402.02 581.79 L403.42 580.47 L404.82 579.13 L406.23 577.77 L407.65 576.39 L409.09 575.01 L410.57 573.63 L412.09 572.24 L413.65 570.85 L415.25 569.44 L416.87 568 L418.52 566.56 L420.19 565.1 L421.86 563.65 L423.54 562.21 L425.22 560.77 L426.89 559.36 L428.54 557.97 L430.2 556.6 L431.89 555.25 L433.59 553.91 L435.29 552.58 L436.98 551.26 L438.66 549.95 L440.31 548.64 L441.92 547.33 L443.49 546.01 L445 544.69 L446.45 543.34 L447.85 541.97 L449.21 540.58 L450.54 539.19 L451.83 537.8 L453.1 536.43 L454.35 535.1 L455.58 533.81 L456.81 532.58 L458.02 531.41 L459.14 530.37 L460.1 529.45 L460.97 528.64 L461.8 527.87 L462.65 527.12 L463.58 526.34 L464.66 525.5 L465.94 524.54 L467.48 523.44 L469.34 522.14 L471.54 520.64 L474.05 518.96 L476.8 517.14 L479.75 515.22 L482.85 513.22 L486.05 511.18 L489.3 509.14 L492.54 507.14 L495.73 505.2 L498.82 503.36 L501.88 501.59 L505.01 499.83 L508.19 498.09 L511.39 496.38 L514.58 494.68 L517.76 493.01 L520.87 491.36 L523.91 489.74 L526.85 488.14 L529.67 486.57 L532.35 485.04 L534.91 483.54 L537.37 482.08 L539.76 480.64 L542.09 479.23 L544.39 477.83 L546.68 476.44 L548.97 475.06 L551.3 473.68 L553.66 472.29 L556.17 470.85 L558.85 469.32 L561.62 467.75 L564.41 466.18 L567.16 464.64 L569.79 463.17 L572.22 461.81 L574.4 460.59 L576.23 459.57 L577.66 458.77" fill="none" stroke="#000" stroke-width="2.3" stroke-dasharray="10.4 10.35"/>
<text x="491.8" y="627.6" font-size="10.8" text-anchor="start" fill="#111">R squared = 0.99</text>
</svg></body></html>
